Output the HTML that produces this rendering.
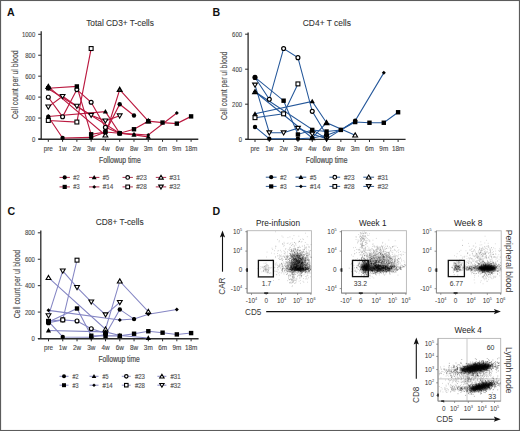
<!DOCTYPE html>
<html><head><meta charset="utf-8"><style>
html,body{margin:0;padding:0;background:#fff;}
body{width:520px;height:431px;overflow:hidden;}
svg{display:block;}
svg text{font-family:"Liberation Sans", sans-serif;}
</style></head><body>
<svg width="520" height="431" viewBox="0 0 520 431">
<defs><filter id="bl6" x="-50%" y="-50%" width="200%" height="200%"><feGaussianBlur stdDeviation="0.6"/></filter><filter id="bl8" x="-50%" y="-50%" width="200%" height="200%"><feGaussianBlur stdDeviation="0.8"/></filter><filter id="bl9" x="-50%" y="-50%" width="200%" height="200%"><feGaussianBlur stdDeviation="0.9"/></filter><filter id="bl12" x="-50%" y="-50%" width="200%" height="200%"><feGaussianBlur stdDeviation="1.2"/></filter><filter id="bl13" x="-50%" y="-50%" width="200%" height="200%"><feGaussianBlur stdDeviation="1.3"/></filter><filter id="bl7" x="-50%" y="-50%" width="200%" height="200%"><feGaussianBlur stdDeviation="0.7"/></filter><filter id="bl20" x="-50%" y="-50%" width="200%" height="200%"><feGaussianBlur stdDeviation="2.0"/></filter></defs>
<rect x="0" y="0" width="520" height="431" fill="#fff"/>
<line x1="41.2" y1="31.3" x2="41.2" y2="139.6" stroke="#2a2a2a" stroke-width="1.3"/>
<line x1="38.400000000000006" y1="139.2" x2="198.3" y2="139.2" stroke="#2a2a2a" stroke-width="1.35"/>
<line x1="38.2" y1="139.00" x2="41.2" y2="139.00" stroke="#2a2a2a" stroke-width="1"/>
<text x="35.2" y="141.55" font-size="6.9" fill="#4a4a4a" text-anchor="end" textLength="3.3" lengthAdjust="spacingAndGlyphs" stroke="#4a4a4a" stroke-width="0.12">0</text>
<line x1="38.2" y1="118.06" x2="41.2" y2="118.06" stroke="#2a2a2a" stroke-width="1"/>
<text x="35.2" y="120.61" font-size="6.9" fill="#4a4a4a" text-anchor="end" textLength="9.9" lengthAdjust="spacingAndGlyphs" stroke="#4a4a4a" stroke-width="0.12">200</text>
<line x1="38.2" y1="97.12" x2="41.2" y2="97.12" stroke="#2a2a2a" stroke-width="1"/>
<text x="35.2" y="99.67" font-size="6.9" fill="#4a4a4a" text-anchor="end" textLength="9.9" lengthAdjust="spacingAndGlyphs" stroke="#4a4a4a" stroke-width="0.12">400</text>
<line x1="38.2" y1="76.18" x2="41.2" y2="76.18" stroke="#2a2a2a" stroke-width="1"/>
<text x="35.2" y="78.73" font-size="6.9" fill="#4a4a4a" text-anchor="end" textLength="9.9" lengthAdjust="spacingAndGlyphs" stroke="#4a4a4a" stroke-width="0.12">600</text>
<line x1="38.2" y1="55.24" x2="41.2" y2="55.24" stroke="#2a2a2a" stroke-width="1"/>
<text x="35.2" y="57.79" font-size="6.9" fill="#4a4a4a" text-anchor="end" textLength="9.9" lengthAdjust="spacingAndGlyphs" stroke="#4a4a4a" stroke-width="0.12">800</text>
<line x1="38.2" y1="34.30" x2="41.2" y2="34.30" stroke="#2a2a2a" stroke-width="1"/>
<text x="35.2" y="36.85" font-size="6.9" fill="#4a4a4a" text-anchor="end" textLength="13.2" lengthAdjust="spacingAndGlyphs" stroke="#4a4a4a" stroke-width="0.12">1000</text>
<line x1="48.30" y1="139.0" x2="48.30" y2="141.8" stroke="#2a2a2a" stroke-width="1"/>
<text x="48.30" y="151.0" font-size="6.4" fill="#4a4a4a" text-anchor="middle" stroke="#4a4a4a" stroke-width="0.12">pre</text>
<line x1="62.58" y1="139.0" x2="62.58" y2="141.8" stroke="#2a2a2a" stroke-width="1"/>
<text x="62.58" y="151.0" font-size="6.4" fill="#4a4a4a" text-anchor="middle" stroke="#4a4a4a" stroke-width="0.12">1w</text>
<line x1="76.86" y1="139.0" x2="76.86" y2="141.8" stroke="#2a2a2a" stroke-width="1"/>
<text x="76.86" y="151.0" font-size="6.4" fill="#4a4a4a" text-anchor="middle" stroke="#4a4a4a" stroke-width="0.12">2w</text>
<line x1="91.14" y1="139.0" x2="91.14" y2="141.8" stroke="#2a2a2a" stroke-width="1"/>
<text x="91.14" y="151.0" font-size="6.4" fill="#4a4a4a" text-anchor="middle" stroke="#4a4a4a" stroke-width="0.12">3w</text>
<line x1="105.42" y1="139.0" x2="105.42" y2="141.8" stroke="#2a2a2a" stroke-width="1"/>
<text x="105.42" y="151.0" font-size="6.4" fill="#4a4a4a" text-anchor="middle" stroke="#4a4a4a" stroke-width="0.12">4w</text>
<line x1="119.70" y1="139.0" x2="119.70" y2="141.8" stroke="#2a2a2a" stroke-width="1"/>
<text x="119.70" y="151.0" font-size="6.4" fill="#4a4a4a" text-anchor="middle" stroke="#4a4a4a" stroke-width="0.12">6w</text>
<line x1="133.98" y1="139.0" x2="133.98" y2="141.8" stroke="#2a2a2a" stroke-width="1"/>
<text x="133.98" y="151.0" font-size="6.4" fill="#4a4a4a" text-anchor="middle" stroke="#4a4a4a" stroke-width="0.12">8w</text>
<line x1="148.26" y1="139.0" x2="148.26" y2="141.8" stroke="#2a2a2a" stroke-width="1"/>
<text x="148.26" y="151.0" font-size="6.4" fill="#4a4a4a" text-anchor="middle" stroke="#4a4a4a" stroke-width="0.12">3m</text>
<line x1="162.54" y1="139.0" x2="162.54" y2="141.8" stroke="#2a2a2a" stroke-width="1"/>
<text x="162.54" y="151.0" font-size="6.4" fill="#4a4a4a" text-anchor="middle" stroke="#4a4a4a" stroke-width="0.12">6m</text>
<line x1="176.82" y1="139.0" x2="176.82" y2="141.8" stroke="#2a2a2a" stroke-width="1"/>
<text x="176.82" y="151.0" font-size="6.4" fill="#4a4a4a" text-anchor="middle" stroke="#4a4a4a" stroke-width="0.12">9m</text>
<line x1="191.10" y1="139.0" x2="191.10" y2="141.8" stroke="#2a2a2a" stroke-width="1"/>
<text x="191.10" y="151.0" font-size="6.4" fill="#4a4a4a" text-anchor="middle" stroke="#4a4a4a" stroke-width="0.12">18m</text>
<text x="99" y="162.5" font-size="8.8" fill="#4a4a4a" textLength="41.7" lengthAdjust="spacingAndGlyphs" stroke="#4a4a4a" stroke-width="0.2">Followup time</text>
<text x="0" y="0" font-size="8.6" fill="#4a4a4a" stroke="#4a4a4a" stroke-width="0.15" text-anchor="middle" textLength="68.5" lengthAdjust="spacingAndGlyphs" transform="translate(17.6 84.7) rotate(-90)">Cell count per ul blood</text>
<text x="86.2" y="26.3" font-size="8.6" fill="#333" textLength="67.7" lengthAdjust="spacingAndGlyphs" stroke="#333" stroke-width="0.08">Total CD3+ T-cells</text>
<path d="M48.30 116.80L62.58 137.95L91.14 137.43L105.42 131.99L119.70 104.24L133.98 115.44" fill="none" stroke="#bb1a40" stroke-width="1.15"/>
<path d="M48.30 88.22L76.86 86.44L91.14 134.29L105.42 131.99L119.70 133.24L133.98 129.26L148.26 121.20L162.54 122.56L176.82 123.61L191.10 116.38" fill="none" stroke="#bb1a40" stroke-width="1.15"/>
<path d="M48.30 116.49L105.42 111.57L119.70 133.24L133.98 134.81L148.26 136.91" fill="none" stroke="#bb1a40" stroke-width="1.15"/>
<path d="M48.30 88.74L119.70 133.24L133.98 134.18L148.26 135.02L176.82 112.93" fill="none" stroke="#bb1a40" stroke-width="1.15"/>
<path d="M48.30 97.22L62.58 116.80L76.86 89.58L91.14 102.25L105.42 127.38L119.70 133.24" fill="none" stroke="#bb1a40" stroke-width="1.15"/>
<path d="M48.30 120.47L76.86 122.04L91.14 48.54" fill="none" stroke="#bb1a40" stroke-width="1.15"/>
<path d="M48.30 86.65L105.42 135.23L119.70 89.58L148.26 121.20" fill="none" stroke="#bb1a40" stroke-width="1.15"/>
<path d="M48.30 106.86L62.58 96.28L76.86 106.12L91.14 115.23L105.42 120.78L119.70 115.76" fill="none" stroke="#bb1a40" stroke-width="1.15"/>
<circle cx="48.30" cy="97.22" r="1.95" fill="#fff" stroke="#000" stroke-width="1.2"/>
<circle cx="62.58" cy="116.80" r="1.95" fill="#fff" stroke="#000" stroke-width="1.2"/>
<circle cx="76.86" cy="89.58" r="1.95" fill="#fff" stroke="#000" stroke-width="1.2"/>
<circle cx="91.14" cy="102.25" r="1.95" fill="#fff" stroke="#000" stroke-width="1.2"/>
<circle cx="105.42" cy="127.38" r="1.95" fill="#fff" stroke="#000" stroke-width="1.2"/>
<circle cx="119.70" cy="133.24" r="1.95" fill="#fff" stroke="#000" stroke-width="1.2"/>
<rect x="46.35" y="118.52" width="3.90" height="3.90" fill="#fff" stroke="#000" stroke-width="1.1"/>
<rect x="74.91" y="120.09" width="3.90" height="3.90" fill="#fff" stroke="#000" stroke-width="1.1"/>
<rect x="89.19" y="46.59" width="3.90" height="3.90" fill="#fff" stroke="#000" stroke-width="1.1"/>
<path d="M48.30 84.45L50.61 88.41L45.99 88.41Z" fill="#555" stroke="#000" stroke-width="1.3" stroke-linejoin="miter"/>
<path d="M105.42 132.93L107.83 137.07L103.00 137.07Z" fill="#fff" stroke="#000" stroke-width="1.1" stroke-linejoin="miter"/>
<path d="M119.70 87.38L122.01 91.34L117.39 91.34Z" fill="#555" stroke="#000" stroke-width="1.3" stroke-linejoin="miter"/>
<path d="M148.26 118.90L150.67 123.04L145.84 123.04Z" fill="#fff" stroke="#000" stroke-width="1.1" stroke-linejoin="miter"/>
<path d="M48.30 109.16L50.71 105.02L45.88 105.02Z" fill="#fff" stroke="#000" stroke-width="1.1"/>
<path d="M62.58 98.58L65.00 94.44L60.16 94.44Z" fill="#fff" stroke="#000" stroke-width="1.1"/>
<path d="M76.86 108.42L79.28 104.28L74.44 104.28Z" fill="#fff" stroke="#000" stroke-width="1.1"/>
<path d="M91.14 117.53L93.55 113.39L88.72 113.39Z" fill="#fff" stroke="#000" stroke-width="1.1"/>
<path d="M105.42 123.08L107.83 118.94L103.00 118.94Z" fill="#fff" stroke="#000" stroke-width="1.1"/>
<path d="M119.70 118.06L122.11 113.92L117.28 113.92Z" fill="#fff" stroke="#000" stroke-width="1.1"/>
<circle cx="48.30" cy="116.80" r="2.20" fill="#000"/>
<circle cx="62.58" cy="137.95" r="2.20" fill="#000"/>
<circle cx="91.14" cy="137.43" r="2.20" fill="#000"/>
<circle cx="105.42" cy="131.99" r="2.20" fill="#000"/>
<circle cx="119.70" cy="104.24" r="2.20" fill="#000"/>
<circle cx="133.98" cy="115.44" r="2.20" fill="#000"/>
<rect x="46.10" y="86.02" width="4.40" height="4.40" fill="#000"/>
<rect x="74.66" y="84.24" width="4.40" height="4.40" fill="#000"/>
<rect x="88.94" y="132.09" width="4.40" height="4.40" fill="#000"/>
<rect x="103.22" y="129.79" width="4.40" height="4.40" fill="#000"/>
<rect x="117.50" y="131.04" width="4.40" height="4.40" fill="#000"/>
<rect x="131.78" y="127.06" width="4.40" height="4.40" fill="#000"/>
<rect x="146.06" y="119.00" width="4.40" height="4.40" fill="#000"/>
<rect x="160.34" y="120.36" width="4.40" height="4.40" fill="#000"/>
<rect x="174.62" y="121.41" width="4.40" height="4.40" fill="#000"/>
<rect x="188.90" y="114.18" width="4.40" height="4.40" fill="#000"/>
<path d="M48.30 113.89L50.90 118.44L45.70 118.44Z" fill="#000"/>
<path d="M105.42 108.97L108.02 113.52L102.82 113.52Z" fill="#000"/>
<path d="M119.70 130.64L122.30 135.19L117.10 135.19Z" fill="#000"/>
<path d="M133.98 132.21L136.58 136.76L131.38 136.76Z" fill="#000"/>
<path d="M148.26 134.31L150.86 138.86L145.66 138.86Z" fill="#000"/>
<path d="M48.30 86.74L50.30 88.74L48.30 90.74L46.30 88.74Z" fill="#000"/>
<path d="M119.70 131.24L121.70 133.24L119.70 135.24L117.70 133.24Z" fill="#000"/>
<path d="M133.98 132.18L135.98 134.18L133.98 136.18L131.98 134.18Z" fill="#000"/>
<path d="M148.26 133.02L150.26 135.02L148.26 137.02L146.26 135.02Z" fill="#000"/>
<path d="M176.82 110.93L178.82 112.93L176.82 114.93L174.82 112.93Z" fill="#000"/>
<line x1="59.50" y1="177.4" x2="69.90" y2="177.4" stroke="#b0304f" stroke-width="1"/>
<circle cx="64.70" cy="177.40" r="2.09" fill="#000"/>
<text x="73.30" y="179.90" font-size="7.4" fill="#555" textLength="6.3" lengthAdjust="spacingAndGlyphs" stroke="#555" stroke-width="0.15">#2</text>
<line x1="59.50" y1="186.9" x2="69.90" y2="186.9" stroke="#b0304f" stroke-width="1"/>
<rect x="62.61" y="184.81" width="4.18" height="4.18" fill="#000"/>
<text x="73.30" y="189.40" font-size="7.4" fill="#555" textLength="6.3" lengthAdjust="spacingAndGlyphs" stroke="#555" stroke-width="0.15">#3</text>
<line x1="89.00" y1="177.4" x2="99.40" y2="177.4" stroke="#b0304f" stroke-width="1"/>
<path d="M94.20 174.93L96.67 179.25L91.73 179.25Z" fill="#000"/>
<text x="102.80" y="179.90" font-size="7.4" fill="#555" textLength="6.3" lengthAdjust="spacingAndGlyphs" stroke="#555" stroke-width="0.15">#5</text>
<line x1="89.00" y1="186.9" x2="99.40" y2="186.9" stroke="#b0304f" stroke-width="1"/>
<path d="M94.20 185.00L96.10 186.90L94.20 188.80L92.30 186.90Z" fill="#000"/>
<text x="102.80" y="189.40" font-size="7.4" fill="#555" textLength="10.6" lengthAdjust="spacingAndGlyphs" stroke="#555" stroke-width="0.15">#14</text>
<line x1="122.50" y1="177.4" x2="132.90" y2="177.4" stroke="#b0304f" stroke-width="1"/>
<circle cx="127.70" cy="177.40" r="1.84" fill="#fff" stroke="#000" stroke-width="1.2"/>
<text x="136.30" y="179.90" font-size="7.4" fill="#555" textLength="10.6" lengthAdjust="spacingAndGlyphs" stroke="#555" stroke-width="0.15">#23</text>
<line x1="122.50" y1="186.9" x2="132.90" y2="186.9" stroke="#b0304f" stroke-width="1"/>
<rect x="125.85" y="185.05" width="3.70" height="3.70" fill="#fff" stroke="#000" stroke-width="1.1"/>
<text x="136.30" y="189.40" font-size="7.4" fill="#555" textLength="10.6" lengthAdjust="spacingAndGlyphs" stroke="#555" stroke-width="0.15">#28</text>
<line x1="155.80" y1="177.4" x2="166.20" y2="177.4" stroke="#b0304f" stroke-width="1"/>
<path d="M161.00 175.22L163.29 179.15L158.71 179.15Z" fill="#fff" stroke="#000" stroke-width="1.1" stroke-linejoin="miter"/>
<text x="169.60" y="179.90" font-size="7.4" fill="#555" textLength="10.6" lengthAdjust="spacingAndGlyphs" stroke="#555" stroke-width="0.15">#31</text>
<line x1="155.80" y1="186.9" x2="166.20" y2="186.9" stroke="#b0304f" stroke-width="1"/>
<path d="M161.00 189.09L163.29 185.15L158.71 185.15Z" fill="#fff" stroke="#000" stroke-width="1.1"/>
<text x="169.60" y="189.40" font-size="7.4" fill="#555" textLength="10.6" lengthAdjust="spacingAndGlyphs" stroke="#555" stroke-width="0.15">#32</text>
<line x1="248.1" y1="32.4" x2="248.1" y2="139.79999999999998" stroke="#2a2a2a" stroke-width="1.3"/>
<line x1="245.29999999999998" y1="139.39999999999998" x2="405.6" y2="139.39999999999998" stroke="#2a2a2a" stroke-width="1.35"/>
<line x1="245.1" y1="139.20" x2="248.1" y2="139.20" stroke="#2a2a2a" stroke-width="1"/>
<text x="242.0" y="141.75" font-size="6.9" fill="#4a4a4a" text-anchor="end" textLength="3.3" lengthAdjust="spacingAndGlyphs" stroke="#4a4a4a" stroke-width="0.12">0</text>
<line x1="245.1" y1="104.20" x2="248.1" y2="104.20" stroke="#2a2a2a" stroke-width="1"/>
<text x="242.0" y="106.75" font-size="6.9" fill="#4a4a4a" text-anchor="end" textLength="9.9" lengthAdjust="spacingAndGlyphs" stroke="#4a4a4a" stroke-width="0.12">200</text>
<line x1="245.1" y1="69.20" x2="248.1" y2="69.20" stroke="#2a2a2a" stroke-width="1"/>
<text x="242.0" y="71.75" font-size="6.9" fill="#4a4a4a" text-anchor="end" textLength="9.9" lengthAdjust="spacingAndGlyphs" stroke="#4a4a4a" stroke-width="0.12">400</text>
<line x1="245.1" y1="34.20" x2="248.1" y2="34.20" stroke="#2a2a2a" stroke-width="1"/>
<text x="242.0" y="36.75" font-size="6.9" fill="#4a4a4a" text-anchor="end" textLength="9.9" lengthAdjust="spacingAndGlyphs" stroke="#4a4a4a" stroke-width="0.12">600</text>
<line x1="255.00" y1="139.2" x2="255.00" y2="142.0" stroke="#2a2a2a" stroke-width="1"/>
<text x="255.00" y="151.0" font-size="6.4" fill="#4a4a4a" text-anchor="middle" stroke="#4a4a4a" stroke-width="0.12">pre</text>
<line x1="269.31" y1="139.2" x2="269.31" y2="142.0" stroke="#2a2a2a" stroke-width="1"/>
<text x="269.31" y="151.0" font-size="6.4" fill="#4a4a4a" text-anchor="middle" stroke="#4a4a4a" stroke-width="0.12">1w</text>
<line x1="283.62" y1="139.2" x2="283.62" y2="142.0" stroke="#2a2a2a" stroke-width="1"/>
<text x="283.62" y="151.0" font-size="6.4" fill="#4a4a4a" text-anchor="middle" stroke="#4a4a4a" stroke-width="0.12">2w</text>
<line x1="297.93" y1="139.2" x2="297.93" y2="142.0" stroke="#2a2a2a" stroke-width="1"/>
<text x="297.93" y="151.0" font-size="6.4" fill="#4a4a4a" text-anchor="middle" stroke="#4a4a4a" stroke-width="0.12">3w</text>
<line x1="312.24" y1="139.2" x2="312.24" y2="142.0" stroke="#2a2a2a" stroke-width="1"/>
<text x="312.24" y="151.0" font-size="6.4" fill="#4a4a4a" text-anchor="middle" stroke="#4a4a4a" stroke-width="0.12">4w</text>
<line x1="326.55" y1="139.2" x2="326.55" y2="142.0" stroke="#2a2a2a" stroke-width="1"/>
<text x="326.55" y="151.0" font-size="6.4" fill="#4a4a4a" text-anchor="middle" stroke="#4a4a4a" stroke-width="0.12">6w</text>
<line x1="340.86" y1="139.2" x2="340.86" y2="142.0" stroke="#2a2a2a" stroke-width="1"/>
<text x="340.86" y="151.0" font-size="6.4" fill="#4a4a4a" text-anchor="middle" stroke="#4a4a4a" stroke-width="0.12">8w</text>
<line x1="355.17" y1="139.2" x2="355.17" y2="142.0" stroke="#2a2a2a" stroke-width="1"/>
<text x="355.17" y="151.0" font-size="6.4" fill="#4a4a4a" text-anchor="middle" stroke="#4a4a4a" stroke-width="0.12">3m</text>
<line x1="369.48" y1="139.2" x2="369.48" y2="142.0" stroke="#2a2a2a" stroke-width="1"/>
<text x="369.48" y="151.0" font-size="6.4" fill="#4a4a4a" text-anchor="middle" stroke="#4a4a4a" stroke-width="0.12">6m</text>
<line x1="383.79" y1="139.2" x2="383.79" y2="142.0" stroke="#2a2a2a" stroke-width="1"/>
<text x="383.79" y="151.0" font-size="6.4" fill="#4a4a4a" text-anchor="middle" stroke="#4a4a4a" stroke-width="0.12">9m</text>
<line x1="398.10" y1="139.2" x2="398.10" y2="142.0" stroke="#2a2a2a" stroke-width="1"/>
<text x="398.10" y="151.0" font-size="6.4" fill="#4a4a4a" text-anchor="middle" stroke="#4a4a4a" stroke-width="0.12">18m</text>
<text x="305.8" y="162.5" font-size="8.8" fill="#4a4a4a" textLength="41.7" lengthAdjust="spacingAndGlyphs" stroke="#4a4a4a" stroke-width="0.2">Followup time</text>
<text x="0" y="0" font-size="8.6" fill="#4a4a4a" stroke="#4a4a4a" stroke-width="0.15" text-anchor="middle" textLength="68.5" lengthAdjust="spacingAndGlyphs" transform="translate(227.0 85.8) rotate(-90)">Cell count per ul blood</text>
<text x="302.8" y="26.3" font-size="8.4" fill="#333" textLength="48.1" lengthAdjust="spacingAndGlyphs" stroke="#333" stroke-width="0.08">CD4+ T cells</text>
<path d="M255.00 126.95L269.31 138.67L297.93 138.67L312.24 137.97L326.55 135.35L340.86 129.92L355.17 120.82" fill="none" stroke="#24579a" stroke-width="1.05"/>
<path d="M255.00 77.42L283.62 100.70L297.93 134.47L312.24 129.92L326.55 131.50L340.86 129.92L355.17 122.05L369.48 122.75L383.79 122.75L398.10 112.25" fill="none" stroke="#24579a" stroke-width="1.05"/>
<path d="M255.00 113.82L312.24 101.40L326.55 122.75" fill="none" stroke="#24579a" stroke-width="1.05"/>
<path d="M255.00 91.77L326.55 138.85L340.86 129.92L355.17 120.82L383.79 72.87" fill="none" stroke="#24579a" stroke-width="1.05"/>
<path d="M255.00 77.42L269.31 99.30L283.62 48.55L297.93 57.65L312.24 111.37L326.55 135.00" fill="none" stroke="#24579a" stroke-width="1.05"/>
<path d="M255.00 117.67L283.62 113.82L297.93 83.90" fill="none" stroke="#24579a" stroke-width="1.05"/>
<path d="M255.00 91.77L312.24 137.97L326.55 122.75L355.17 135.17" fill="none" stroke="#24579a" stroke-width="1.05"/>
<path d="M255.00 84.95L269.31 132.72L283.62 132.72L297.93 128.17L312.24 133.95L326.55 138.85" fill="none" stroke="#24579a" stroke-width="1.05"/>
<circle cx="255.00" cy="77.42" r="1.95" fill="#fff" stroke="#000" stroke-width="1.2"/>
<circle cx="269.31" cy="99.30" r="1.95" fill="#fff" stroke="#000" stroke-width="1.2"/>
<circle cx="283.62" cy="48.55" r="1.95" fill="#fff" stroke="#000" stroke-width="1.2"/>
<circle cx="297.93" cy="57.65" r="1.95" fill="#fff" stroke="#000" stroke-width="1.2"/>
<circle cx="312.24" cy="111.37" r="1.95" fill="#fff" stroke="#000" stroke-width="1.2"/>
<circle cx="326.55" cy="135.00" r="1.95" fill="#fff" stroke="#000" stroke-width="1.2"/>
<rect x="253.05" y="115.72" width="3.90" height="3.90" fill="#fff" stroke="#000" stroke-width="1.1"/>
<rect x="281.67" y="111.87" width="3.90" height="3.90" fill="#fff" stroke="#000" stroke-width="1.1"/>
<rect x="295.98" y="81.95" width="3.90" height="3.90" fill="#fff" stroke="#000" stroke-width="1.1"/>
<path d="M255.00 89.47L257.42 93.61L252.59 93.61Z" fill="#fff" stroke="#000" stroke-width="1.1" stroke-linejoin="miter"/>
<path d="M312.24 135.67L314.66 139.81L309.82 139.81Z" fill="#fff" stroke="#000" stroke-width="1.1" stroke-linejoin="miter"/>
<path d="M326.55 120.45L328.97 124.59L324.13 124.59Z" fill="#fff" stroke="#000" stroke-width="1.1" stroke-linejoin="miter"/>
<path d="M355.17 132.87L357.59 137.01L352.75 137.01Z" fill="#fff" stroke="#000" stroke-width="1.1" stroke-linejoin="miter"/>
<path d="M255.00 87.25L257.42 83.11L252.59 83.11Z" fill="#fff" stroke="#000" stroke-width="1.1"/>
<path d="M269.31 135.03L271.73 130.88L266.89 130.88Z" fill="#fff" stroke="#000" stroke-width="1.1"/>
<path d="M283.62 135.03L286.04 130.88L281.20 130.88Z" fill="#fff" stroke="#000" stroke-width="1.1"/>
<path d="M297.93 130.47L300.35 126.33L295.51 126.33Z" fill="#fff" stroke="#000" stroke-width="1.1"/>
<path d="M312.24 136.25L314.66 132.11L309.82 132.11Z" fill="#fff" stroke="#000" stroke-width="1.1"/>
<path d="M326.55 141.15L328.97 137.01L324.13 137.01Z" fill="#fff" stroke="#000" stroke-width="1.1"/>
<circle cx="255.00" cy="126.95" r="2.20" fill="#000"/>
<circle cx="269.31" cy="138.67" r="2.20" fill="#000"/>
<circle cx="297.93" cy="138.67" r="2.20" fill="#000"/>
<circle cx="312.24" cy="137.97" r="2.20" fill="#000"/>
<circle cx="326.55" cy="135.35" r="2.20" fill="#000"/>
<circle cx="340.86" cy="129.92" r="2.20" fill="#000"/>
<circle cx="355.17" cy="120.82" r="2.20" fill="#000"/>
<circle cx="255.00" cy="77.42" r="2.20" fill="#000"/>
<rect x="281.42" y="98.50" width="4.40" height="4.40" fill="#000"/>
<rect x="295.73" y="132.28" width="4.40" height="4.40" fill="#000"/>
<rect x="310.04" y="127.72" width="4.40" height="4.40" fill="#000"/>
<rect x="324.35" y="129.30" width="4.40" height="4.40" fill="#000"/>
<rect x="338.66" y="127.72" width="4.40" height="4.40" fill="#000"/>
<rect x="352.97" y="119.85" width="4.40" height="4.40" fill="#000"/>
<rect x="367.28" y="120.55" width="4.40" height="4.40" fill="#000"/>
<rect x="381.59" y="120.55" width="4.40" height="4.40" fill="#000"/>
<rect x="395.90" y="110.05" width="4.40" height="4.40" fill="#000"/>
<path d="M255.00 111.22L257.60 115.77L252.40 115.77Z" fill="#000"/>
<path d="M312.24 98.80L314.84 103.35L309.64 103.35Z" fill="#000"/>
<path d="M326.55 120.15L329.15 124.70L323.95 124.70Z" fill="#000"/>
<path d="M255.00 89.77L257.00 91.77L255.00 93.77L253.00 91.77Z" fill="#000"/>
<path d="M326.55 136.85L328.55 138.85L326.55 140.85L324.55 138.85Z" fill="#000"/>
<path d="M340.86 127.92L342.86 129.92L340.86 131.92L338.86 129.92Z" fill="#000"/>
<path d="M355.17 118.82L357.17 120.82L355.17 122.82L353.17 120.82Z" fill="#000"/>
<path d="M383.79 70.87L385.79 72.87L383.79 74.87L381.79 72.87Z" fill="#000"/>
<line x1="265.80" y1="177.2" x2="276.60" y2="177.2" stroke="#2f5a92" stroke-width="1"/>
<circle cx="271.20" cy="177.20" r="2.09" fill="#000"/>
<text x="280.30" y="179.70" font-size="7.4" fill="#555" textLength="6.3" lengthAdjust="spacingAndGlyphs" stroke="#555" stroke-width="0.15">#2</text>
<line x1="265.80" y1="186.4" x2="276.60" y2="186.4" stroke="#2f5a92" stroke-width="1"/>
<rect x="269.11" y="184.31" width="4.18" height="4.18" fill="#000"/>
<text x="280.30" y="188.90" font-size="7.4" fill="#555" textLength="6.3" lengthAdjust="spacingAndGlyphs" stroke="#555" stroke-width="0.15">#3</text>
<line x1="295.50" y1="177.2" x2="306.30" y2="177.2" stroke="#2f5a92" stroke-width="1"/>
<path d="M300.90 174.73L303.37 179.05L298.43 179.05Z" fill="#000"/>
<text x="310.00" y="179.70" font-size="7.4" fill="#555" textLength="6.3" lengthAdjust="spacingAndGlyphs" stroke="#555" stroke-width="0.15">#5</text>
<line x1="295.50" y1="186.4" x2="306.30" y2="186.4" stroke="#2f5a92" stroke-width="1"/>
<path d="M300.90 184.50L302.80 186.40L300.90 188.30L299.00 186.40Z" fill="#000"/>
<text x="310.00" y="188.90" font-size="7.4" fill="#555" textLength="10.6" lengthAdjust="spacingAndGlyphs" stroke="#555" stroke-width="0.15">#14</text>
<line x1="329.40" y1="177.2" x2="340.20" y2="177.2" stroke="#2f5a92" stroke-width="1"/>
<circle cx="334.80" cy="177.20" r="1.84" fill="#fff" stroke="#000" stroke-width="1.2"/>
<text x="343.90" y="179.70" font-size="7.4" fill="#555" textLength="10.6" lengthAdjust="spacingAndGlyphs" stroke="#555" stroke-width="0.15">#23</text>
<line x1="329.40" y1="186.4" x2="340.20" y2="186.4" stroke="#2f5a92" stroke-width="1"/>
<rect x="332.95" y="184.55" width="3.70" height="3.70" fill="#fff" stroke="#000" stroke-width="1.1"/>
<text x="343.90" y="188.90" font-size="7.4" fill="#555" textLength="10.6" lengthAdjust="spacingAndGlyphs" stroke="#555" stroke-width="0.15">#28</text>
<line x1="363.30" y1="177.2" x2="374.10" y2="177.2" stroke="#2f5a92" stroke-width="1"/>
<path d="M368.70 175.01L370.99 178.95L366.41 178.95Z" fill="#fff" stroke="#000" stroke-width="1.1" stroke-linejoin="miter"/>
<text x="377.80" y="179.70" font-size="7.4" fill="#555" textLength="10.6" lengthAdjust="spacingAndGlyphs" stroke="#555" stroke-width="0.15">#31</text>
<line x1="363.30" y1="186.4" x2="374.10" y2="186.4" stroke="#2f5a92" stroke-width="1"/>
<path d="M368.70 188.59L370.99 184.65L366.41 184.65Z" fill="#fff" stroke="#000" stroke-width="1.1"/>
<text x="377.80" y="188.90" font-size="7.4" fill="#555" textLength="10.6" lengthAdjust="spacingAndGlyphs" stroke="#555" stroke-width="0.15">#32</text>
<line x1="40.8" y1="230.5" x2="40.8" y2="339.1" stroke="#2a2a2a" stroke-width="1.3"/>
<line x1="38.0" y1="338.7" x2="198.6" y2="338.7" stroke="#2a2a2a" stroke-width="1.35"/>
<line x1="37.8" y1="338.50" x2="40.8" y2="338.50" stroke="#2a2a2a" stroke-width="1"/>
<text x="34.8" y="341.05" font-size="6.9" fill="#4a4a4a" text-anchor="end" textLength="3.3" lengthAdjust="spacingAndGlyphs" stroke="#4a4a4a" stroke-width="0.12">0</text>
<line x1="37.8" y1="312.08" x2="40.8" y2="312.08" stroke="#2a2a2a" stroke-width="1"/>
<text x="34.8" y="314.63" font-size="6.9" fill="#4a4a4a" text-anchor="end" textLength="9.9" lengthAdjust="spacingAndGlyphs" stroke="#4a4a4a" stroke-width="0.12">200</text>
<line x1="37.8" y1="285.66" x2="40.8" y2="285.66" stroke="#2a2a2a" stroke-width="1"/>
<text x="34.8" y="288.21" font-size="6.9" fill="#4a4a4a" text-anchor="end" textLength="9.9" lengthAdjust="spacingAndGlyphs" stroke="#4a4a4a" stroke-width="0.12">400</text>
<line x1="37.8" y1="259.24" x2="40.8" y2="259.24" stroke="#2a2a2a" stroke-width="1"/>
<text x="34.8" y="261.79" font-size="6.9" fill="#4a4a4a" text-anchor="end" textLength="9.9" lengthAdjust="spacingAndGlyphs" stroke="#4a4a4a" stroke-width="0.12">600</text>
<line x1="37.8" y1="232.82" x2="40.8" y2="232.82" stroke="#2a2a2a" stroke-width="1"/>
<text x="34.8" y="235.37" font-size="6.9" fill="#4a4a4a" text-anchor="end" textLength="9.9" lengthAdjust="spacingAndGlyphs" stroke="#4a4a4a" stroke-width="0.12">800</text>
<line x1="48.50" y1="338.5" x2="48.50" y2="341.3" stroke="#2a2a2a" stroke-width="1"/>
<text x="48.50" y="350.3" font-size="6.4" fill="#4a4a4a" text-anchor="middle" stroke="#4a4a4a" stroke-width="0.12">pre</text>
<line x1="62.76" y1="338.5" x2="62.76" y2="341.3" stroke="#2a2a2a" stroke-width="1"/>
<text x="62.76" y="350.3" font-size="6.4" fill="#4a4a4a" text-anchor="middle" stroke="#4a4a4a" stroke-width="0.12">1w</text>
<line x1="77.02" y1="338.5" x2="77.02" y2="341.3" stroke="#2a2a2a" stroke-width="1"/>
<text x="77.02" y="350.3" font-size="6.4" fill="#4a4a4a" text-anchor="middle" stroke="#4a4a4a" stroke-width="0.12">2w</text>
<line x1="91.28" y1="338.5" x2="91.28" y2="341.3" stroke="#2a2a2a" stroke-width="1"/>
<text x="91.28" y="350.3" font-size="6.4" fill="#4a4a4a" text-anchor="middle" stroke="#4a4a4a" stroke-width="0.12">3w</text>
<line x1="105.54" y1="338.5" x2="105.54" y2="341.3" stroke="#2a2a2a" stroke-width="1"/>
<text x="105.54" y="350.3" font-size="6.4" fill="#4a4a4a" text-anchor="middle" stroke="#4a4a4a" stroke-width="0.12">4w</text>
<line x1="119.80" y1="338.5" x2="119.80" y2="341.3" stroke="#2a2a2a" stroke-width="1"/>
<text x="119.80" y="350.3" font-size="6.4" fill="#4a4a4a" text-anchor="middle" stroke="#4a4a4a" stroke-width="0.12">6w</text>
<line x1="134.06" y1="338.5" x2="134.06" y2="341.3" stroke="#2a2a2a" stroke-width="1"/>
<text x="134.06" y="350.3" font-size="6.4" fill="#4a4a4a" text-anchor="middle" stroke="#4a4a4a" stroke-width="0.12">8w</text>
<line x1="148.32" y1="338.5" x2="148.32" y2="341.3" stroke="#2a2a2a" stroke-width="1"/>
<text x="148.32" y="350.3" font-size="6.4" fill="#4a4a4a" text-anchor="middle" stroke="#4a4a4a" stroke-width="0.12">3m</text>
<line x1="162.58" y1="338.5" x2="162.58" y2="341.3" stroke="#2a2a2a" stroke-width="1"/>
<text x="162.58" y="350.3" font-size="6.4" fill="#4a4a4a" text-anchor="middle" stroke="#4a4a4a" stroke-width="0.12">6m</text>
<line x1="176.84" y1="338.5" x2="176.84" y2="341.3" stroke="#2a2a2a" stroke-width="1"/>
<text x="176.84" y="350.3" font-size="6.4" fill="#4a4a4a" text-anchor="middle" stroke="#4a4a4a" stroke-width="0.12">9m</text>
<line x1="191.10" y1="338.5" x2="191.10" y2="341.3" stroke="#2a2a2a" stroke-width="1"/>
<text x="191.10" y="350.3" font-size="6.4" fill="#4a4a4a" text-anchor="middle" stroke="#4a4a4a" stroke-width="0.12">18m</text>
<text x="98.5" y="361.6" font-size="8.8" fill="#4a4a4a" textLength="41.2" lengthAdjust="spacingAndGlyphs" stroke="#4a4a4a" stroke-width="0.2">Followup time</text>
<text x="0" y="0" font-size="8.6" fill="#4a4a4a" stroke="#4a4a4a" stroke-width="0.15" text-anchor="middle" textLength="68.3" lengthAdjust="spacingAndGlyphs" transform="translate(19.6 284.2) rotate(-90)">Cell count per ul blood</text>
<text x="95.8" y="225.1" font-size="8.4" fill="#333" textLength="47.8" lengthAdjust="spacingAndGlyphs" stroke="#333" stroke-width="0.08">CD8+ T-cells</text>
<path d="M48.50 321.33L62.76 336.91L91.28 337.18L105.54 334.54L119.80 309.44L134.06 319.08" fill="none" stroke="#8586c4" stroke-width="1.05"/>
<path d="M48.50 321.99L77.02 308.51L91.28 335.73L105.54 335.86L119.80 335.86L134.06 333.74L148.32 331.23L162.58 332.69L176.84 334.40L191.10 333.08" fill="none" stroke="#8586c4" stroke-width="1.05"/>
<path d="M48.50 330.44L105.54 331.89L119.80 335.46L148.32 337.97" fill="none" stroke="#8586c4" stroke-width="1.05"/>
<path d="M48.50 310.36L119.80 320.01L134.06 319.08L148.32 314.19L176.84 309.44" fill="none" stroke="#8586c4" stroke-width="1.05"/>
<path d="M48.50 322.65L62.76 319.87L77.02 320.93L91.28 328.72L105.54 333.22" fill="none" stroke="#8586c4" stroke-width="1.05"/>
<path d="M48.50 321.33L62.76 319.87L77.02 260.16" fill="none" stroke="#8586c4" stroke-width="1.05"/>
<path d="M48.50 277.73L105.54 329.25L119.80 281.17L148.32 311.55" fill="none" stroke="#8586c4" stroke-width="1.05"/>
<path d="M48.50 315.65L62.76 270.86L77.02 287.38L91.28 301.78L105.54 314.72L119.80 302.30" fill="none" stroke="#8586c4" stroke-width="1.05"/>
<circle cx="48.50" cy="322.65" r="1.95" fill="#fff" stroke="#000" stroke-width="1.2"/>
<circle cx="62.76" cy="319.87" r="1.95" fill="#fff" stroke="#000" stroke-width="1.2"/>
<circle cx="77.02" cy="320.93" r="1.95" fill="#fff" stroke="#000" stroke-width="1.2"/>
<circle cx="91.28" cy="328.72" r="1.95" fill="#fff" stroke="#000" stroke-width="1.2"/>
<circle cx="105.54" cy="333.22" r="1.95" fill="#fff" stroke="#000" stroke-width="1.2"/>
<rect x="46.55" y="319.38" width="3.90" height="3.90" fill="#fff" stroke="#000" stroke-width="1.1"/>
<rect x="60.81" y="317.92" width="3.90" height="3.90" fill="#fff" stroke="#000" stroke-width="1.1"/>
<rect x="75.07" y="258.21" width="3.90" height="3.90" fill="#fff" stroke="#000" stroke-width="1.1"/>
<path d="M48.50 275.43L50.91 279.57L46.09 279.57Z" fill="#fff" stroke="#000" stroke-width="1.1" stroke-linejoin="miter"/>
<path d="M105.54 326.95L107.95 331.09L103.12 331.09Z" fill="#fff" stroke="#000" stroke-width="1.1" stroke-linejoin="miter"/>
<path d="M119.80 278.87L122.22 283.01L117.38 283.01Z" fill="#fff" stroke="#000" stroke-width="1.1" stroke-linejoin="miter"/>
<path d="M148.32 309.25L150.73 313.39L145.91 313.39Z" fill="#fff" stroke="#000" stroke-width="1.1" stroke-linejoin="miter"/>
<path d="M48.50 317.95L50.91 313.81L46.09 313.81Z" fill="#fff" stroke="#000" stroke-width="1.1"/>
<path d="M62.76 273.16L65.17 269.02L60.34 269.02Z" fill="#fff" stroke="#000" stroke-width="1.1"/>
<path d="M77.02 289.68L79.44 285.54L74.60 285.54Z" fill="#fff" stroke="#000" stroke-width="1.1"/>
<path d="M91.28 304.08L93.70 299.94L88.86 299.94Z" fill="#fff" stroke="#000" stroke-width="1.1"/>
<path d="M105.54 317.02L107.95 312.88L103.12 312.88Z" fill="#fff" stroke="#000" stroke-width="1.1"/>
<path d="M119.80 304.60L122.22 300.46L117.38 300.46Z" fill="#fff" stroke="#000" stroke-width="1.1"/>
<circle cx="48.50" cy="321.33" r="2.20" fill="#000"/>
<circle cx="62.76" cy="336.91" r="2.20" fill="#000"/>
<circle cx="91.28" cy="337.18" r="2.20" fill="#000"/>
<circle cx="105.54" cy="334.54" r="2.20" fill="#000"/>
<circle cx="119.80" cy="309.44" r="2.20" fill="#000"/>
<circle cx="134.06" cy="319.08" r="2.20" fill="#000"/>
<rect x="46.30" y="319.79" width="4.40" height="4.40" fill="#000"/>
<rect x="74.82" y="306.31" width="4.40" height="4.40" fill="#000"/>
<rect x="89.08" y="333.53" width="4.40" height="4.40" fill="#000"/>
<rect x="103.34" y="333.66" width="4.40" height="4.40" fill="#000"/>
<rect x="117.60" y="333.66" width="4.40" height="4.40" fill="#000"/>
<rect x="131.86" y="331.54" width="4.40" height="4.40" fill="#000"/>
<rect x="146.12" y="329.03" width="4.40" height="4.40" fill="#000"/>
<rect x="160.38" y="330.49" width="4.40" height="4.40" fill="#000"/>
<rect x="174.64" y="332.20" width="4.40" height="4.40" fill="#000"/>
<rect x="188.90" y="330.88" width="4.40" height="4.40" fill="#000"/>
<path d="M48.50 327.84L51.10 332.39L45.90 332.39Z" fill="#000"/>
<path d="M105.54 329.29L108.14 333.84L102.94 333.84Z" fill="#000"/>
<path d="M119.80 332.86L122.40 337.41L117.20 337.41Z" fill="#000"/>
<path d="M148.32 335.37L150.92 339.92L145.72 339.92Z" fill="#000"/>
<path d="M48.50 308.36L50.50 310.36L48.50 312.36L46.50 310.36Z" fill="#000"/>
<path d="M119.80 318.01L121.80 320.01L119.80 322.01L117.80 320.01Z" fill="#000"/>
<path d="M134.06 317.08L136.06 319.08L134.06 321.08L132.06 319.08Z" fill="#000"/>
<path d="M148.32 312.19L150.32 314.19L148.32 316.19L146.32 314.19Z" fill="#000"/>
<path d="M176.84 307.44L178.84 309.44L176.84 311.44L174.84 309.44Z" fill="#000"/>
<line x1="59.50" y1="376.3" x2="68.50" y2="376.3" stroke="#8a8bc4" stroke-width="1"/>
<circle cx="64.00" cy="376.30" r="1.98" fill="#000"/>
<text x="72.60" y="378.80" font-size="7.0" fill="#555" textLength="6.0" lengthAdjust="spacingAndGlyphs" stroke="#555" stroke-width="0.15">#2</text>
<line x1="59.50" y1="385.2" x2="68.50" y2="385.2" stroke="#8a8bc4" stroke-width="1"/>
<rect x="62.02" y="383.22" width="3.96" height="3.96" fill="#000"/>
<text x="72.60" y="387.70" font-size="7.0" fill="#555" textLength="6.0" lengthAdjust="spacingAndGlyphs" stroke="#555" stroke-width="0.15">#3</text>
<line x1="89.50" y1="376.3" x2="98.50" y2="376.3" stroke="#8a8bc4" stroke-width="1"/>
<path d="M94.00 373.96L96.34 378.06L91.66 378.06Z" fill="#000"/>
<text x="102.60" y="378.80" font-size="7.0" fill="#555" textLength="6.0" lengthAdjust="spacingAndGlyphs" stroke="#555" stroke-width="0.15">#5</text>
<line x1="89.50" y1="385.2" x2="98.50" y2="385.2" stroke="#8a8bc4" stroke-width="1"/>
<path d="M94.00 383.40L95.80 385.20L94.00 387.00L92.20 385.20Z" fill="#000"/>
<text x="102.60" y="387.70" font-size="7.0" fill="#555" textLength="10.0" lengthAdjust="spacingAndGlyphs" stroke="#555" stroke-width="0.15">#14</text>
<line x1="121.80" y1="376.3" x2="130.80" y2="376.3" stroke="#8a8bc4" stroke-width="1"/>
<circle cx="126.30" cy="376.30" r="1.73" fill="#fff" stroke="#000" stroke-width="1.2"/>
<text x="134.90" y="378.80" font-size="7.0" fill="#555" textLength="10.0" lengthAdjust="spacingAndGlyphs" stroke="#555" stroke-width="0.15">#23</text>
<line x1="121.80" y1="385.2" x2="130.80" y2="385.2" stroke="#8a8bc4" stroke-width="1"/>
<rect x="124.55" y="383.44" width="3.51" height="3.51" fill="#fff" stroke="#000" stroke-width="1.1"/>
<text x="134.90" y="387.70" font-size="7.0" fill="#555" textLength="10.0" lengthAdjust="spacingAndGlyphs" stroke="#555" stroke-width="0.15">#28</text>
<line x1="157.40" y1="376.3" x2="166.40" y2="376.3" stroke="#8a8bc4" stroke-width="1"/>
<path d="M161.90 374.23L164.07 377.96L159.73 377.96Z" fill="#fff" stroke="#000" stroke-width="1.1" stroke-linejoin="miter"/>
<text x="170.50" y="378.80" font-size="7.0" fill="#555" textLength="10.0" lengthAdjust="spacingAndGlyphs" stroke="#555" stroke-width="0.15">#31</text>
<line x1="157.40" y1="385.2" x2="166.40" y2="385.2" stroke="#8a8bc4" stroke-width="1"/>
<path d="M161.90 387.27L164.07 383.54L159.73 383.54Z" fill="#fff" stroke="#000" stroke-width="1.1"/>
<text x="170.50" y="387.70" font-size="7.0" fill="#555" textLength="10.0" lengthAdjust="spacingAndGlyphs" stroke="#555" stroke-width="0.15">#32</text>
<text x="7.0" y="16.4" font-size="10.6" fill="#111" font-weight="bold">A</text>
<text x="212.5" y="16.4" font-size="10.6" fill="#111" font-weight="bold">B</text>
<text x="7.6" y="215.2" font-size="10.6" fill="#111" font-weight="bold">C</text>
<text x="212.5" y="215.2" font-size="10.6" fill="#111" font-weight="bold">D</text>
<rect x="247.1" y="230.7" width="64.29999999999998" height="62.400000000000034" fill="none" stroke="#b5b5b5" stroke-width="0.9"/>
<line x1="247.1" y1="230.7" x2="247.1" y2="293.1" stroke="#8a8a8a" stroke-width="1"/>
<line x1="247.1" y1="293.1" x2="311.4" y2="293.1" stroke="#8a8a8a" stroke-width="1"/>
<line x1="245.29999999999998" y1="231.7" x2="247.1" y2="231.7" stroke="#777" stroke-width="0.8"/>
<text x="242.2" y="233.7" font-size="6.4" fill="#333" text-anchor="end">10<tspan font-size="3.8" dy="-2.8">5</tspan></text>
<line x1="245.29999999999998" y1="251.1" x2="247.1" y2="251.1" stroke="#777" stroke-width="0.8"/>
<text x="242.2" y="253.1" font-size="6.4" fill="#333" text-anchor="end">10<tspan font-size="3.8" dy="-2.8">4</tspan></text>
<line x1="245.29999999999998" y1="269.9" x2="247.1" y2="269.9" stroke="#777" stroke-width="0.8"/>
<text x="242.2" y="271.9" font-size="6.4" fill="#333" text-anchor="end">0</text>
<line x1="245.29999999999998" y1="288.59999999999997" x2="247.1" y2="288.59999999999997" stroke="#777" stroke-width="0.8"/>
<text x="242.2" y="290.6" font-size="6.4" fill="#333" text-anchor="end">-10<tspan font-size="3.8" dy="-2.8">4</tspan></text>
<line x1="251.5" y1="293.1" x2="251.5" y2="294.90000000000003" stroke="#777" stroke-width="0.8"/>
<text x="251.5" y="302.7" font-size="6.4" fill="#333" text-anchor="middle">-10<tspan font-size="3.8" dy="-2.8">4</tspan></text>
<line x1="266.2" y1="293.1" x2="266.2" y2="294.90000000000003" stroke="#777" stroke-width="0.8"/>
<text x="266.2" y="302.7" font-size="6.4" fill="#333" text-anchor="middle">0</text>
<line x1="281.5" y1="293.1" x2="281.5" y2="294.90000000000003" stroke="#777" stroke-width="0.8"/>
<text x="281.5" y="302.7" font-size="6.4" fill="#333" text-anchor="middle">10<tspan font-size="3.8" dy="-2.8">4</tspan></text>
<line x1="297.6" y1="293.1" x2="297.6" y2="294.90000000000003" stroke="#777" stroke-width="0.8"/>
<text x="297.6" y="302.7" font-size="6.4" fill="#333" text-anchor="middle">10<tspan font-size="3.8" dy="-2.8">5</tspan></text>
<line x1="310.9" y1="293.1" x2="310.9" y2="294.90000000000003" stroke="#777" stroke-width="0.8"/>
<text x="310.9" y="302.7" font-size="6.4" fill="#333" text-anchor="middle">10<tspan font-size="3.8" dy="-2.8">6</tspan></text>
<text x="256.0" y="225.6" font-size="8.6" fill="#222" textLength="44.0" lengthAdjust="spacingAndGlyphs">Pre-infusion</text>
<path d="M298.2 267.5h0.7M301.7 269.5h0.7M302.0 272.1h0.7M278.7 255.8h0.7M308.1 266.7h0.7M282.1 243.5h0.7M266.4 263.0h0.7M305.0 263.7h0.7M299.2 252.9h0.7M287.0 251.4h0.7M292.3 285.7h0.7M275.9 274.5h0.7M308.2 254.4h0.7M292.9 281.3h0.7M263.7 263.2h0.7M288.7 275.7h0.7M307.7 266.0h0.7M290.2 243.3h0.7M284.6 253.5h0.7M278.5 266.0h0.7M290.7 274.3h0.7M292.7 275.9h0.7M298.9 241.1h0.7M292.9 265.4h0.7M292.2 259.8h0.7M304.2 246.2h0.7M303.8 271.4h0.7M292.5 272.7h0.7M292.8 246.1h0.7M300.3 264.0h0.7M299.4 273.1h0.7M303.0 270.1h0.7M279.5 264.0h0.7M281.4 263.7h0.7M288.2 266.9h0.7M292.5 258.9h0.7M297.6 268.3h0.7M299.7 273.7h0.7M304.4 268.1h0.7M268.3 268.7h0.7M289.2 267.4h0.7M295.7 264.6h0.7M298.1 274.9h0.7M297.1 268.9h0.7M306.1 276.1h0.7M292.0 273.4h0.7M273.3 280.5h0.7M290.6 265.7h0.7M307.4 253.4h0.7M301.6 241.6h0.7M300.6 269.5h0.7M297.2 269.8h0.7M302.9 262.2h0.7M302.6 271.3h0.7M294.0 277.8h0.7M267.3 265.7h0.7M299.1 255.4h0.7M291.9 259.3h0.7M293.9 273.0h0.7M291.0 252.3h0.7M294.8 271.7h0.7M296.7 267.0h0.7M290.7 269.5h0.7M281.7 270.3h0.7M292.5 274.8h0.7M291.3 273.2h0.7M301.6 262.7h0.7M287.7 257.0h0.7M287.4 252.9h0.7M298.5 268.4h0.7M300.6 269.8h0.7M308.1 271.5h0.7M262.9 268.2h0.7M286.8 243.5h0.7M264.5 266.3h0.7M298.5 260.7h0.7M296.9 252.4h0.7M273.9 253.8h0.7M288.4 277.4h0.7M306.2 278.0h0.7M298.0 259.4h0.7M286.1 263.3h0.7M274.4 267.7h0.7M297.1 250.4h0.7M306.8 279.1h0.7M305.2 265.3h0.7M291.3 250.9h0.7M292.6 272.3h0.7M295.7 268.2h0.7M307.1 282.2h0.7M266.7 264.5h0.7M267.0 272.0h0.7M296.0 266.1h0.7M306.4 268.6h0.7M285.9 259.6h0.7M291.7 286.6h0.7M296.9 258.8h0.7M289.5 271.4h0.7M302.8 257.5h0.7M290.0 275.6h0.7M300.7 266.5h0.7M294.9 258.5h0.7M284.3 251.7h0.7M268.0 265.4h0.7M309.0 260.2h0.7M281.6 236.0h0.7M277.3 265.6h0.7M299.3 262.5h0.7M305.4 278.9h0.7M295.2 268.5h0.7M289.5 270.1h0.7M286.5 266.4h0.7M286.0 271.9h0.7M282.3 271.6h0.7M260.8 267.8h0.7M278.4 273.1h0.7M303.9 255.2h0.7M299.1 262.0h0.7M283.5 250.7h0.7M309.5 264.9h0.7M299.1 266.2h0.7M291.0 271.7h0.7M306.1 269.3h0.7M263.0 270.9h0.7M294.7 264.5h0.7M301.8 266.4h0.7M308.5 255.2h0.7M260.6 266.5h0.7M262.7 266.6h0.7M300.6 255.5h0.7M289.8 266.4h0.7M264.7 268.3h0.7M300.0 267.9h0.7M290.3 271.4h0.7M293.0 264.3h0.7M288.7 275.1h0.7M290.8 279.6h0.7M307.8 268.8h0.7M291.6 260.7h0.7M292.4 280.0h0.7M297.2 263.5h0.7M279.4 259.4h0.7M307.0 267.6h0.7M278.6 267.8h0.7M290.3 249.6h0.7M294.4 257.7h0.7M305.7 261.7h0.7M289.6 282.6h0.7M305.4 276.5h0.7M299.7 268.8h0.7M292.9 248.8h0.7M309.0 268.6h0.7M292.3 276.4h0.7M267.6 273.8h0.7M310.2 276.8h0.7M293.0 264.5h0.7M306.7 255.6h0.7M300.2 261.8h0.7M302.9 258.0h0.7M265.6 268.9h0.7M266.3 269.5h0.7M293.3 274.6h0.7M287.0 257.1h0.7M282.0 264.4h0.7M306.3 249.9h0.7M282.5 271.6h0.7M294.9 283.0h0.7M292.8 256.1h0.7M296.0 267.9h0.7M266.7 252.1h0.7M301.5 263.4h0.7M281.7 256.9h0.7M298.3 270.8h0.7M293.3 260.1h0.7M304.7 272.0h0.7M278.5 266.7h0.7M297.2 250.0h0.7M297.5 257.8h0.7M299.6 272.5h0.7M304.8 260.4h0.7M294.5 270.1h0.7M293.2 257.1h0.7M289.7 268.3h0.7M302.8 274.9h0.7M297.1 260.9h0.7M305.4 269.7h0.7M300.2 283.3h0.7M288.6 261.6h0.7M281.8 260.4h0.7M304.3 270.2h0.7M290.2 271.8h0.7M294.2 280.6h0.7M293.9 273.0h0.7M301.5 268.3h0.7M300.5 258.8h0.7M293.7 255.0h0.7M302.0 258.4h0.7M305.3 265.6h0.7M305.0 272.5h0.7M299.1 256.0h0.7M304.9 264.1h0.7M263.0 270.4h0.7M275.0 231.8h0.7M300.4 264.3h0.7M292.2 267.2h0.7M303.1 271.5h0.7M296.2 265.4h0.7M301.5 265.8h0.7M300.0 266.1h0.7M307.1 252.8h0.7M286.3 274.5h0.7M271.4 267.7h0.7M292.7 278.1h0.7M293.5 277.4h0.7M301.7 266.5h0.7M296.1 256.2h0.7M299.6 268.2h0.7M294.2 283.4h0.7M267.3 272.0h0.7M307.0 266.9h0.7M296.9 265.3h0.7M289.0 282.7h0.7M284.9 265.3h0.7M297.2 250.9h0.7M290.9 270.4h0.7M277.5 251.0h0.7M286.4 262.2h0.7M298.1 270.9h0.7M290.9 270.3h0.7M260.0 268.9h0.7M304.8 267.6h0.7M288.8 269.2h0.7M310.7 257.2h0.7M307.9 257.4h0.7M279.0 259.0h0.7M298.3 242.1h0.7M293.4 276.4h0.7M282.2 264.9h0.7M285.2 263.4h0.7M289.7 258.3h0.7M289.8 263.8h0.7M295.5 274.5h0.7M293.6 235.6h0.7M293.3 277.0h0.7M286.7 255.8h0.7M291.1 280.8h0.7M293.4 253.9h0.7M309.2 265.3h0.7M278.7 241.9h0.7M294.5 264.7h0.7M293.1 265.1h0.7M286.4 265.1h0.7M296.6 267.7h0.7M299.7 256.5h0.7M303.8 257.1h0.7M293.7 274.5h0.7M292.1 238.8h0.7M296.3 270.6h0.7M303.1 254.3h0.7M296.1 257.6h0.7M301.3 259.9h0.7M300.7 260.3h0.7M299.7 278.0h0.7M309.9 263.2h0.7M291.0 267.7h0.7M291.7 253.8h0.7M290.3 278.8h0.7M285.6 257.5h0.7M284.7 263.9h0.7M307.6 275.7h0.7M298.5 251.7h0.7M286.5 259.5h0.7M285.7 268.2h0.7M294.8 254.4h0.7M301.5 260.1h0.7M294.3 259.5h0.7M264.9 267.1h0.7M274.6 267.3h0.7M301.8 270.9h0.7M273.5 264.2h0.7" stroke="#000" stroke-width="0.7" fill="none" stroke-opacity="0.3"/>
<path d="M301.1 269.9h0.7M301.5 255.7h0.7M293.0 281.9h0.7M300.4 266.9h0.7M298.3 255.1h0.7M297.0 270.6h0.7M298.7 281.2h0.7M295.5 270.6h0.7M285.1 252.3h0.7M310.1 250.5h0.7M277.0 271.9h0.7M295.5 250.4h0.7M292.3 277.7h0.7M288.2 278.5h0.7M306.1 263.5h0.7M294.0 258.8h0.7M299.8 263.6h0.7M287.1 280.7h0.7M280.9 251.9h0.7M282.7 237.2h0.7M301.6 263.1h0.7M288.6 276.7h0.7M291.7 256.4h0.7M299.7 257.0h0.7M278.3 269.8h0.7M280.9 255.0h0.7M291.0 279.9h0.7M276.2 271.4h0.7M284.2 257.4h0.7M290.3 270.8h0.7M301.2 272.1h0.7M304.1 245.3h0.7M270.6 273.7h0.7M264.6 269.4h0.7M293.3 262.2h0.7M267.7 270.0h0.7M300.7 252.2h0.7M293.7 272.5h0.7M291.9 279.9h0.7M303.6 264.1h0.7M293.3 259.0h0.7M287.2 260.7h0.7M301.8 266.5h0.7M301.0 262.9h0.7M302.5 249.4h0.7M297.5 272.7h0.7M285.5 248.6h0.7M282.9 255.8h0.7M283.4 262.0h0.7M306.7 257.4h0.7M305.6 257.7h0.7M293.9 274.3h0.7M292.5 254.0h0.7M294.2 264.5h0.7M294.1 265.1h0.7M300.3 259.5h0.7M304.9 242.5h0.7M292.8 272.8h0.7M302.6 271.9h0.7M268.3 270.5h0.7M294.6 272.3h0.7M292.6 273.0h0.7M292.2 270.5h0.7M288.8 258.7h0.7M283.8 243.4h0.7M295.5 255.5h0.7M305.6 257.3h0.7M299.7 267.8h0.7M299.9 268.8h0.7M304.2 258.1h0.7M299.3 241.5h0.7M308.7 252.6h0.7M295.1 280.4h0.7M300.8 253.3h0.7M289.2 272.7h0.7M309.6 250.8h0.7M290.6 260.9h0.7M303.6 270.3h0.7M305.0 258.6h0.7M266.0 257.0h0.7M277.1 239.6h0.7M278.9 240.8h0.7M280.9 273.1h0.7M291.7 279.7h0.7M285.0 258.6h0.7M306.9 236.7h0.7M291.7 282.7h0.7M289.6 262.4h0.7M289.5 274.8h0.7M273.0 271.3h0.7M303.6 262.3h0.7M268.0 267.0h0.7M295.7 280.2h0.7M300.7 257.5h0.7M295.7 245.2h0.7M293.6 248.5h0.7M304.5 254.1h0.7M294.8 270.3h0.7M298.9 255.6h0.7M291.6 263.9h0.7M305.3 270.5h0.7M293.2 267.6h0.7M295.6 278.8h0.7M306.2 255.8h0.7M283.6 272.8h0.7M276.8 269.8h0.7M291.4 278.8h0.7M289.1 258.1h0.7M268.7 269.3h0.7M299.6 269.0h0.7M288.8 279.8h0.7M297.9 275.4h0.7M274.3 271.1h0.7M305.4 247.8h0.7M301.3 276.0h0.7M269.2 273.5h0.7M304.6 261.1h0.7M300.5 269.0h0.7M293.8 269.4h0.7M286.5 262.7h0.7M300.1 258.5h0.7M290.9 269.6h0.7M292.3 276.5h0.7M308.9 251.3h0.7M307.6 264.6h0.7M287.7 259.4h0.7M307.3 256.9h0.7M277.0 253.5h0.7M287.1 264.2h0.7M265.1 265.6h0.7M292.1 274.3h0.7M282.8 266.8h0.7M297.9 256.4h0.7M290.1 269.8h0.7M292.7 244.4h0.7M265.5 269.2h0.7M304.9 273.0h0.7M293.3 266.5h0.7M265.3 270.0h0.7M270.5 272.5h0.7M287.3 265.8h0.7M284.4 270.5h0.7M300.9 258.9h0.7M285.9 259.4h0.7M301.4 273.9h0.7M295.1 268.3h0.7M309.2 268.3h0.7M309.6 256.8h0.7M277.3 267.9h0.7M275.1 248.1h0.7M290.4 279.3h0.7M309.0 246.8h0.7M288.8 264.7h0.7M272.4 249.5h0.7M274.3 250.7h0.7M292.7 282.4h0.7M288.5 256.0h0.7M292.4 266.0h0.7M293.1 250.3h0.7M271.9 259.5h0.7M305.1 261.2h0.7M296.6 265.4h0.7M307.7 244.8h0.7M284.9 256.1h0.7M306.1 265.6h0.7M291.5 253.9h0.7M303.5 269.4h0.7M266.5 264.5h0.7M305.4 271.7h0.7M287.5 263.3h0.7M301.4 266.0h0.7M295.5 268.9h0.7M286.4 266.3h0.7M298.0 268.7h0.7M299.2 278.0h0.7M302.1 253.3h0.7M300.8 273.0h0.7M290.4 269.4h0.7M295.5 262.8h0.7M293.9 266.2h0.7M290.9 265.8h0.7M283.6 263.3h0.7M302.5 255.4h0.7M306.8 260.8h0.7M263.8 269.8h0.7M306.4 254.8h0.7M299.1 246.2h0.7M290.3 265.1h0.7M308.0 277.8h0.7M292.6 277.2h0.7M301.0 260.5h0.7M295.6 282.7h0.7M293.7 267.4h0.7M306.7 263.0h0.7M297.1 276.6h0.7M291.8 267.4h0.7M294.2 242.6h0.7M297.6 271.9h0.7M288.8 250.3h0.7M296.5 261.3h0.7M287.4 274.2h0.7M291.1 270.7h0.7M290.4 275.5h0.7M308.4 262.8h0.7M282.1 268.8h0.7M307.3 263.6h0.7M305.3 272.0h0.7M267.9 271.3h0.7M303.5 282.3h0.7M299.2 250.6h0.7M294.3 254.1h0.7M287.2 256.8h0.7M299.4 268.5h0.7M292.1 264.5h0.7M295.8 267.2h0.7M304.4 257.3h0.7M281.5 258.9h0.7M268.6 272.3h0.7M307.6 273.3h0.7M296.7 267.2h0.7M263.1 271.3h0.7M289.0 279.5h0.7M265.0 270.1h0.7M295.5 261.1h0.7M279.7 264.5h0.7M301.7 255.8h0.7M308.7 247.6h0.7M290.2 266.6h0.7M302.7 281.3h0.7M293.0 280.8h0.7M301.8 257.2h0.7M300.2 250.9h0.7M290.5 267.5h0.7M293.8 263.0h0.7M295.3 264.1h0.7M301.2 254.2h0.7M279.4 265.3h0.7M262.5 267.2h0.7M297.5 258.4h0.7M294.4 259.6h0.7M299.3 267.0h0.7M276.7 264.3h0.7M304.4 259.5h0.7M291.1 266.0h0.7M297.6 249.6h0.7M306.5 265.6h0.7M299.6 274.1h0.7M294.6 262.0h0.7M297.2 268.6h0.7M303.3 260.7h0.7M280.2 255.7h0.7M294.2 260.2h0.7M289.7 253.3h0.7M296.9 259.5h0.7M264.8 271.9h0.7M265.8 265.7h0.7M300.7 259.9h0.7M304.8 272.6h0.7M290.6 263.2h0.7M275.0 257.6h0.7M289.3 262.5h0.7M308.8 264.1h0.7M281.6 256.8h0.7M293.5 265.4h0.7M296.5 256.5h0.7M306.2 269.6h0.7M287.7 263.4h0.7M290.6 255.9h0.7M309.4 260.2h0.7M293.4 262.2h0.7M280.6 267.8h0.7M300.0 280.4h0.7M288.2 262.0h0.7M293.5 260.1h0.7M278.2 258.4h0.7M301.1 276.3h0.7M308.0 246.7h0.7M308.9 273.1h0.7M279.0 257.2h0.7M294.0 264.9h0.7" stroke="#000" stroke-width="0.7" fill="none" stroke-opacity="0.3"/>
<path d="M295.7 267.2h0.7M307.9 253.3h0.7M293.4 265.9h0.7M288.8 279.7h0.7M292.4 271.8h0.7M299.5 271.8h0.7M294.7 266.8h0.7M299.2 262.5h0.7M292.5 264.3h0.7M292.6 271.8h0.7M287.6 257.2h0.7M300.4 260.0h0.7M305.0 258.2h0.7M288.4 267.7h0.7M300.1 265.0h0.7M307.9 269.0h0.7M303.8 261.9h0.7M299.5 263.9h0.7M281.0 270.2h0.7M306.0 260.4h0.7M278.9 275.1h0.7M280.0 250.3h0.7M274.9 271.2h0.7M307.7 269.5h0.7M285.0 249.3h0.7M295.8 268.9h0.7M308.4 260.6h0.7M291.7 242.8h0.7M296.4 263.6h0.7M289.0 248.6h0.7M292.0 253.9h0.7M270.4 260.3h0.7M300.8 242.1h0.7M291.4 262.1h0.7M267.2 269.6h0.7M306.7 263.2h0.7M265.7 271.1h0.7M286.6 267.2h0.7M310.6 244.6h0.7M292.3 264.8h0.7M301.4 255.7h0.7M296.9 262.2h0.7M266.4 266.0h0.7M303.0 250.1h0.7M295.2 244.0h0.7M299.0 256.4h0.7M291.9 282.5h0.7M292.7 278.9h0.7M281.6 272.1h0.7M300.5 275.9h0.7M296.2 263.4h0.7M292.4 277.7h0.7M295.9 281.1h0.7M299.5 255.5h0.7M307.9 267.1h0.7M291.4 283.2h0.7M306.6 244.3h0.7M310.5 257.2h0.7M264.4 266.7h0.7M292.3 266.1h0.7M271.7 248.2h0.7M292.9 258.6h0.7M288.5 265.9h0.7M275.0 256.5h0.7M301.4 262.4h0.7M283.8 253.4h0.7M266.8 272.3h0.7M290.0 265.6h0.7M283.9 245.3h0.7M296.5 271.2h0.7M298.0 261.1h0.7M288.5 270.0h0.7M308.0 255.9h0.7M278.8 266.2h0.7M293.1 275.1h0.7M305.7 271.4h0.7M275.8 262.9h0.7M297.1 263.2h0.7M296.7 252.7h0.7M289.8 283.2h0.7M286.0 274.3h0.7M289.7 263.6h0.7M302.1 256.8h0.7M293.9 254.5h0.7M295.2 258.2h0.7M293.1 278.7h0.7M304.4 274.2h0.7M279.0 254.9h0.7M306.7 264.5h0.7M307.8 268.4h0.7M265.2 263.2h0.7M294.0 242.4h0.7M293.9 265.3h0.7M300.3 274.6h0.7M275.7 246.3h0.7M298.3 265.6h0.7M298.0 265.7h0.7M304.1 264.9h0.7M292.8 274.5h0.7M266.6 272.7h0.7M282.3 258.9h0.7M298.5 247.3h0.7M297.3 265.9h0.7M296.3 266.1h0.7M292.1 256.7h0.7M304.7 269.7h0.7M297.2 256.8h0.7M291.8 257.2h0.7M289.4 264.7h0.7M310.8 257.4h0.7M296.8 261.2h0.7M299.6 270.9h0.7M302.7 259.6h0.7M299.7 249.8h0.7M294.0 246.7h0.7M286.6 265.8h0.7M296.0 259.5h0.7M280.5 268.2h0.7M284.7 254.9h0.7M309.6 254.9h0.7M301.0 269.1h0.7M305.4 264.0h0.7M290.9 270.8h0.7M293.9 265.2h0.7M300.1 247.4h0.7M308.1 250.0h0.7M299.6 266.0h0.7M309.1 253.2h0.7M305.5 258.7h0.7M297.0 273.6h0.7M287.2 265.1h0.7M310.5 266.7h0.7M293.1 272.3h0.7M305.8 252.4h0.7M294.3 275.9h0.7M293.4 249.4h0.7M287.7 243.0h0.7M308.9 270.5h0.7M266.0 270.8h0.7M304.9 248.2h0.7M276.5 274.9h0.7M300.7 260.1h0.7M267.9 270.1h0.7M300.1 271.4h0.7M283.4 246.2h0.7M301.7 271.7h0.7M286.3 267.9h0.7M307.3 275.1h0.7M287.3 258.9h0.7M303.2 251.3h0.7M297.9 258.9h0.7M307.1 271.6h0.7M296.5 279.3h0.7M300.4 259.1h0.7M275.2 246.2h0.7M304.9 265.1h0.7M275.1 264.0h0.7M283.7 242.3h0.7M282.4 269.1h0.7M297.1 275.9h0.7M285.3 259.6h0.7M303.0 239.5h0.7M302.5 262.4h0.7M284.7 264.4h0.7M292.6 256.3h0.7M279.4 272.3h0.7M294.4 279.1h0.7M292.2 281.4h0.7M300.3 239.4h0.7M288.4 267.1h0.7M302.2 268.1h0.7M310.4 273.0h0.7M278.4 250.6h0.7M294.0 245.6h0.7M305.8 258.6h0.7M283.6 274.0h0.7M269.9 268.0h0.7M279.8 265.9h0.7M290.2 282.1h0.7M290.0 247.3h0.7M293.8 256.9h0.7M298.7 254.7h0.7M298.8 241.3h0.7M262.9 271.2h0.7M295.9 264.5h0.7M294.1 271.0h0.7M289.5 244.4h0.7M301.1 275.6h0.7M285.7 267.9h0.7M294.5 248.1h0.7M283.9 268.4h0.7M309.7 262.0h0.7M279.9 256.7h0.7M282.2 260.6h0.7M277.3 267.4h0.7M296.7 266.5h0.7M306.4 268.5h0.7M290.8 264.9h0.7M293.4 267.4h0.7M305.2 233.2h0.7M300.8 277.1h0.7M293.0 251.0h0.7M310.2 265.3h0.7M293.8 255.9h0.7M262.6 267.4h0.7M295.5 243.2h0.7M289.6 236.9h0.7M282.8 259.4h0.7M303.3 254.6h0.7M282.5 268.7h0.7M261.5 271.9h0.7M285.2 266.5h0.7M295.0 274.4h0.7M308.2 263.2h0.7M303.2 278.5h0.7M296.2 270.2h0.7M292.6 280.2h0.7M257.7 277.5h0.7M298.6 260.8h0.7M292.6 275.7h0.7M298.6 263.1h0.7M301.7 251.2h0.7M292.0 244.4h0.7M282.6 266.2h0.7M257.5 268.6h0.7M302.4 238.9h0.7M296.0 255.5h0.7M305.3 263.7h0.7M290.4 270.9h0.7M289.5 247.4h0.7M301.7 272.9h0.7M296.1 272.1h0.7M305.4 271.9h0.7M264.3 266.4h0.7M305.8 246.8h0.7M289.9 272.5h0.7M309.2 267.0h0.7M271.0 253.1h0.7M294.3 277.1h0.7M296.5 278.2h0.7M296.8 251.8h0.7M295.3 267.5h0.7M292.1 271.2h0.7M307.1 269.0h0.7M299.7 254.2h0.7M299.8 264.1h0.7M287.6 237.6h0.7M287.8 249.6h0.7M268.0 272.3h0.7M298.7 247.4h0.7M310.2 265.7h0.7M302.9 269.1h0.7M297.1 256.5h0.7M291.3 272.5h0.7M300.6 275.1h0.7M301.8 264.5h0.7M289.3 250.0h0.7M269.5 267.8h0.7M293.6 280.2h0.7M309.2 272.1h0.7M299.0 258.8h0.7M290.6 276.3h0.7M286.7 271.1h0.7M290.7 264.3h0.7M287.6 264.2h0.7M298.5 236.2h0.7M308.7 268.5h0.7M268.5 267.4h0.7M307.9 272.5h0.7M278.6 279.6h0.7M285.1 272.6h0.7M287.5 256.6h0.7M287.2 262.7h0.7M288.1 259.3h0.7M290.9 274.6h0.7M293.6 257.7h0.7M282.0 270.1h0.7M281.1 264.4h0.7M275.5 265.2h0.7M294.5 248.7h0.7" stroke="#000" stroke-width="0.7" fill="none" stroke-opacity="0.3"/>
<path d="M297.3 266.9h0.75M300.1 258.7h0.75M299.6 262.4h0.75M306.6 268.7h0.75M303.0 268.3h0.75M300.0 260.7h0.75M305.5 267.8h0.75M303.9 258.3h0.75M286.8 268.1h0.75M300.3 267.3h0.75M295.4 268.3h0.75M297.7 268.7h0.75M293.2 271.2h0.75M292.1 268.7h0.75M300.0 268.6h0.75M303.7 268.2h0.75M295.2 252.7h0.75M302.7 267.0h0.75M299.2 258.4h0.75M287.3 271.5h0.75M290.3 268.1h0.75M286.8 262.8h0.75M298.3 263.0h0.75M300.9 258.8h0.75M308.1 268.0h0.75M296.2 260.6h0.75M300.1 266.5h0.75M294.2 267.7h0.75M296.4 267.3h0.75M299.1 256.3h0.75M295.2 268.1h0.75M300.9 264.8h0.75M300.6 269.8h0.75M301.8 257.8h0.75M302.5 266.8h0.75M296.0 263.8h0.75M295.2 267.9h0.75M298.0 270.7h0.75M301.5 268.0h0.75M292.7 258.8h0.75M299.1 270.0h0.75M289.0 270.8h0.75M300.0 271.6h0.75M294.3 266.7h0.75M306.4 255.8h0.75M305.9 268.5h0.75M297.9 268.3h0.75M291.1 245.4h0.75M299.3 261.6h0.75M305.1 267.9h0.75M297.2 260.8h0.75M307.1 263.2h0.75M299.5 254.9h0.75M305.2 257.9h0.75M302.9 269.7h0.75M287.5 272.2h0.75M299.1 261.8h0.75M307.1 269.7h0.75M300.5 268.6h0.75M296.5 253.6h0.75M299.7 259.6h0.75M300.8 263.4h0.75M281.9 269.1h0.75M308.6 269.2h0.75M290.7 254.5h0.75M292.6 262.8h0.75M299.8 265.2h0.75M298.8 264.6h0.75M292.6 255.4h0.75M294.7 266.6h0.75M292.2 261.2h0.75M296.9 264.5h0.75M291.4 270.7h0.75M294.5 259.5h0.75M292.2 254.4h0.75M290.7 258.2h0.75M300.6 266.8h0.75M296.2 269.0h0.75M286.6 261.9h0.75M303.3 251.7h0.75M292.2 261.5h0.75M300.1 269.7h0.75M298.7 267.7h0.75M299.4 275.0h0.75M309.3 264.6h0.75M286.1 258.0h0.75M304.5 262.5h0.75M298.0 256.1h0.75M303.8 260.3h0.75M306.0 267.4h0.75M299.9 264.7h0.75M302.3 261.7h0.75M299.7 258.4h0.75M300.5 261.6h0.75M301.6 263.6h0.75M301.6 260.3h0.75M305.4 266.0h0.75M297.3 263.4h0.75M300.5 270.9h0.75M306.4 252.1h0.75M298.8 261.1h0.75M303.0 267.5h0.75M292.4 271.8h0.75M295.4 260.7h0.75M301.9 258.6h0.75M298.8 268.5h0.75M305.3 259.5h0.75M294.8 262.5h0.75M306.2 265.4h0.75M302.1 268.4h0.75M292.3 252.2h0.75M291.0 269.5h0.75M296.9 268.4h0.75M296.4 270.4h0.75M304.0 270.4h0.75M294.3 255.7h0.75M303.6 271.3h0.75M287.6 266.9h0.75M301.3 260.1h0.75M292.1 269.3h0.75M291.2 249.5h0.75M300.5 262.8h0.75M299.0 267.6h0.75M295.3 266.7h0.75M301.7 270.1h0.75M294.9 266.9h0.75M292.5 250.4h0.75M290.6 263.4h0.75M308.1 268.7h0.75M297.4 253.3h0.75M295.6 251.7h0.75M300.6 268.7h0.75M289.4 269.2h0.75M292.6 259.7h0.75M291.7 268.7h0.75M290.4 271.2h0.75M302.7 267.5h0.75M295.0 262.7h0.75M303.0 270.8h0.75M292.1 269.1h0.75M284.4 271.0h0.75M307.6 270.3h0.75M301.0 268.5h0.75M294.8 270.8h0.75M291.5 268.1h0.75M292.2 268.2h0.75M302.1 262.5h0.75M295.1 264.0h0.75M304.5 268.4h0.75M301.2 255.3h0.75M296.5 259.6h0.75M302.2 262.3h0.75M302.7 254.5h0.75M301.8 268.6h0.75M302.2 271.4h0.75M298.4 269.4h0.75M291.4 257.6h0.75M306.4 266.6h0.75M307.9 271.4h0.75M295.3 259.0h0.75M294.6 268.9h0.75M308.3 258.4h0.75M295.5 267.0h0.75M299.3 250.9h0.75M294.8 264.2h0.75M303.7 262.1h0.75M304.4 254.6h0.75M302.3 266.9h0.75M296.0 266.1h0.75M304.8 257.7h0.75M303.3 269.6h0.75M297.1 253.8h0.75M295.9 261.4h0.75M297.8 253.2h0.75M299.2 265.8h0.75M299.4 256.5h0.75M296.1 267.3h0.75M298.3 268.6h0.75M286.6 261.9h0.75M306.3 247.9h0.75M289.3 260.2h0.75M291.4 268.4h0.75M299.4 262.1h0.75M301.7 263.7h0.75M308.7 262.2h0.75M295.1 267.4h0.75M291.7 271.0h0.75M293.1 269.6h0.75M297.3 260.5h0.75M296.2 270.6h0.75M293.0 264.6h0.75M292.8 268.1h0.75M302.3 254.8h0.75M294.4 268.2h0.75M304.7 268.3h0.75M301.5 263.9h0.75M294.2 263.3h0.75M303.6 269.0h0.75M286.7 268.6h0.75M295.9 266.8h0.75M302.2 269.5h0.75M301.2 263.2h0.75M301.9 261.9h0.75M299.3 267.8h0.75M292.8 270.1h0.75M295.1 271.6h0.75M297.9 256.9h0.75M309.4 266.1h0.75M291.9 270.4h0.75M301.3 271.6h0.75M296.6 259.4h0.75M292.0 257.4h0.75M306.9 268.9h0.75M301.2 261.2h0.75M292.9 258.1h0.75M301.0 260.1h0.75M302.6 261.6h0.75M298.3 250.2h0.75M293.8 261.7h0.75M298.9 264.9h0.75M297.3 266.1h0.75M306.5 264.8h0.75M299.9 267.9h0.75M289.4 268.0h0.75M308.2 259.6h0.75M297.7 269.5h0.75M300.0 253.3h0.75M293.2 261.7h0.75M292.9 267.8h0.75M293.7 267.8h0.75M301.8 264.4h0.75M301.2 262.4h0.75M299.4 258.4h0.75M283.6 268.6h0.75M295.9 260.1h0.75M302.1 263.8h0.75M296.6 265.6h0.75M289.9 269.5h0.75M284.9 266.8h0.75M300.1 260.2h0.75M296.3 262.8h0.75M302.4 265.8h0.75M297.0 269.8h0.75M295.9 265.8h0.75M302.2 266.2h0.75M303.5 265.0h0.75M290.9 269.9h0.75M297.6 265.1h0.75M299.0 261.3h0.75M298.6 257.3h0.75M303.0 259.3h0.75M301.3 273.5h0.75M299.8 264.7h0.75M297.1 268.9h0.75M300.1 260.7h0.75M296.2 270.1h0.75M297.2 270.7h0.75M281.8 266.4h0.75M305.0 262.8h0.75M295.4 267.3h0.75M287.8 265.0h0.75M292.0 254.0h0.75M294.8 266.4h0.75M305.2 260.1h0.75M301.2 269.8h0.75M304.5 267.4h0.75M300.1 266.1h0.75M303.5 260.8h0.75M307.1 267.3h0.75M294.0 252.6h0.75M287.9 267.8h0.75M299.3 262.3h0.75M309.3 263.7h0.75M299.2 269.5h0.75M299.3 270.2h0.75M290.3 268.9h0.75M285.9 268.8h0.75M293.3 262.8h0.75M296.8 269.5h0.75M292.4 262.8h0.75M286.9 268.0h0.75M287.9 264.2h0.75M290.8 262.0h0.75M285.8 267.9h0.75M300.5 270.0h0.75M289.5 258.2h0.75M300.0 258.4h0.75M308.1 266.9h0.75M294.7 269.7h0.75M301.8 261.8h0.75M303.1 256.7h0.75M300.5 266.4h0.75M302.4 268.0h0.75M288.3 271.0h0.75M300.0 250.4h0.75M295.7 259.2h0.75M294.4 261.9h0.75M305.7 268.7h0.75M297.7 262.5h0.75M294.7 258.2h0.75M305.6 265.6h0.75M306.2 267.6h0.75M303.6 259.1h0.75M298.7 261.9h0.75M304.6 267.7h0.75M293.4 270.9h0.75M292.1 269.8h0.75M306.7 266.8h0.75M297.9 263.6h0.75M301.3 263.5h0.75M307.3 258.8h0.75M293.3 260.5h0.75M297.8 255.2h0.75M291.5 249.1h0.75M297.5 267.5h0.75M291.3 257.9h0.75M292.7 258.6h0.75M298.7 270.3h0.75M300.1 264.8h0.75M297.0 269.6h0.75M295.4 256.7h0.75M291.0 266.7h0.75M302.2 260.8h0.75M301.2 271.2h0.75M293.8 273.9h0.75M300.8 269.8h0.75M297.0 261.0h0.75M295.1 258.3h0.75M308.3 267.0h0.75M298.2 257.1h0.75M294.5 268.2h0.75M296.9 263.9h0.75M292.2 263.5h0.75M309.2 265.7h0.75M305.8 251.4h0.75M298.4 259.2h0.75M293.0 260.5h0.75M291.6 261.4h0.75M306.6 272.7h0.75M293.8 270.6h0.75M297.3 257.9h0.75M297.7 260.4h0.75M300.2 270.5h0.75" stroke="#000" stroke-width="0.75" fill="none" stroke-opacity="0.38"/>
<path d="M291.0 267.4h0.75M297.2 268.6h0.75M295.3 256.7h0.75M290.4 266.9h0.75M300.4 266.5h0.75M296.6 255.5h0.75M296.9 254.1h0.75M300.8 267.7h0.75M293.6 268.5h0.75M286.6 258.6h0.75M298.3 259.3h0.75M292.5 260.3h0.75M307.3 265.9h0.75M282.5 244.4h0.75M305.3 269.6h0.75M308.5 270.5h0.75M298.3 259.3h0.75M286.1 268.9h0.75M287.8 256.2h0.75M300.9 271.5h0.75M301.9 268.5h0.75M306.0 255.9h0.75M296.4 261.6h0.75M288.7 262.1h0.75M307.7 268.1h0.75M288.2 268.8h0.75M292.3 269.0h0.75M289.9 267.3h0.75M301.4 269.1h0.75M300.5 254.5h0.75M303.4 270.5h0.75M299.9 270.5h0.75M286.4 270.8h0.75M296.8 261.7h0.75M302.1 267.6h0.75M302.9 262.8h0.75M294.6 264.5h0.75M286.2 256.6h0.75M298.6 257.3h0.75M297.8 271.4h0.75M308.3 260.6h0.75M302.7 256.2h0.75M295.8 263.0h0.75M293.6 259.4h0.75M294.2 255.2h0.75M289.6 268.3h0.75M295.2 263.6h0.75M303.3 268.7h0.75M293.9 249.6h0.75M301.0 259.9h0.75M301.2 262.9h0.75M295.4 267.5h0.75M295.5 270.0h0.75M300.1 267.8h0.75M298.3 254.3h0.75M296.7 264.7h0.75M302.1 260.7h0.75M302.8 264.9h0.75M305.6 269.4h0.75M301.4 275.5h0.75M291.7 256.2h0.75M296.4 259.1h0.75M288.7 261.4h0.75M297.9 260.3h0.75M306.4 271.1h0.75M301.1 263.5h0.75M290.7 262.2h0.75M292.0 269.4h0.75M298.0 268.9h0.75M305.6 260.8h0.75M288.5 262.6h0.75M297.5 265.1h0.75M302.1 257.3h0.75M290.5 271.8h0.75M307.3 259.4h0.75M300.4 268.3h0.75M301.9 267.7h0.75M301.4 271.2h0.75M302.8 268.5h0.75M287.8 268.6h0.75M294.0 268.7h0.75M298.5 263.7h0.75M298.2 270.9h0.75M291.4 250.7h0.75M294.3 259.1h0.75M290.9 265.7h0.75M290.8 262.7h0.75M302.0 268.5h0.75M291.1 251.4h0.75M297.5 254.2h0.75M299.8 254.7h0.75M286.8 270.2h0.75M291.1 269.8h0.75M298.3 266.1h0.75M296.2 268.0h0.75M295.3 270.0h0.75M290.6 260.8h0.75M293.9 270.2h0.75M297.4 255.2h0.75M305.2 269.7h0.75M305.0 262.5h0.75M300.9 254.0h0.75M293.0 255.4h0.75M293.9 256.8h0.75M306.8 267.1h0.75M293.0 254.4h0.75M285.0 259.3h0.75M300.8 270.7h0.75M290.7 256.6h0.75M301.4 257.5h0.75M300.1 252.8h0.75M296.1 269.2h0.75M304.0 262.1h0.75M301.3 262.9h0.75M304.4 270.3h0.75M302.8 258.6h0.75M293.2 257.6h0.75M288.0 269.4h0.75M295.9 265.1h0.75M294.6 259.1h0.75M298.6 269.3h0.75M299.8 261.4h0.75M295.5 251.0h0.75M299.9 258.6h0.75M297.4 265.5h0.75M296.9 262.9h0.75M289.6 263.1h0.75M295.0 263.8h0.75M303.9 261.4h0.75M298.6 270.9h0.75M291.1 261.5h0.75M296.0 266.8h0.75M292.9 254.1h0.75M299.7 269.0h0.75M295.5 257.8h0.75M293.6 258.8h0.75M293.2 262.9h0.75M298.6 253.9h0.75M291.7 270.0h0.75M301.9 268.5h0.75M296.0 258.0h0.75M296.9 260.9h0.75M300.3 267.3h0.75M302.5 265.6h0.75M295.2 262.5h0.75M300.2 267.3h0.75M297.7 247.9h0.75M302.3 259.9h0.75M297.7 268.8h0.75M295.7 262.7h0.75M293.9 252.3h0.75M301.3 267.4h0.75M306.4 257.3h0.75M292.0 263.0h0.75M299.2 269.8h0.75M295.1 261.6h0.75M308.7 261.8h0.75M298.9 258.2h0.75M305.0 261.0h0.75M291.9 268.1h0.75M297.5 262.5h0.75M288.8 265.4h0.75M294.7 269.9h0.75M297.5 260.2h0.75M305.1 267.6h0.75M292.4 264.0h0.75M305.6 269.3h0.75M289.9 258.3h0.75M296.7 261.0h0.75M288.0 259.4h0.75M297.9 271.4h0.75M295.3 258.8h0.75M307.7 269.0h0.75M294.0 261.3h0.75M297.4 253.3h0.75M292.8 265.7h0.75M302.0 270.0h0.75M297.8 262.5h0.75M300.5 259.9h0.75M302.6 268.4h0.75M301.9 256.5h0.75M300.4 257.0h0.75M291.0 267.2h0.75M282.0 268.0h0.75M296.3 260.5h0.75M297.5 269.5h0.75M290.2 258.3h0.75M305.7 271.0h0.75M298.4 261.1h0.75M299.3 255.5h0.75M295.7 269.7h0.75M298.2 263.6h0.75M302.8 270.2h0.75M294.7 267.8h0.75M291.5 268.2h0.75M307.8 268.4h0.75M296.5 266.6h0.75M295.3 253.7h0.75M295.7 265.2h0.75M297.0 266.4h0.75M300.4 255.3h0.75M292.3 269.3h0.75M301.6 272.4h0.75M291.6 268.6h0.75M299.7 257.6h0.75M294.3 255.1h0.75M306.7 268.3h0.75M299.7 263.0h0.75M307.0 267.7h0.75M299.9 271.4h0.75M298.6 268.0h0.75M298.8 269.8h0.75M296.2 269.9h0.75M295.3 267.4h0.75M296.8 268.5h0.75M293.2 257.3h0.75M295.9 254.4h0.75M302.7 268.1h0.75M294.8 269.4h0.75M302.8 271.3h0.75M299.0 253.3h0.75M288.9 271.2h0.75M292.6 268.1h0.75M301.9 266.7h0.75M293.0 262.8h0.75M298.4 255.5h0.75M295.7 267.5h0.75M297.6 264.4h0.75M301.6 252.5h0.75M297.1 269.1h0.75M296.5 272.8h0.75M290.5 265.7h0.75M303.3 257.7h0.75M291.5 255.9h0.75M305.8 258.3h0.75M296.7 267.3h0.75M296.5 261.2h0.75M291.0 262.6h0.75M302.0 263.0h0.75M307.3 267.9h0.75M302.5 267.0h0.75M279.9 259.4h0.75M306.8 272.8h0.75M298.4 258.2h0.75M303.3 260.0h0.75M291.3 270.4h0.75M294.7 267.2h0.75M291.5 266.3h0.75M291.6 258.8h0.75M299.0 270.0h0.75M302.2 272.4h0.75M293.9 264.6h0.75M300.1 269.0h0.75M295.9 265.9h0.75M289.5 261.9h0.75M299.8 252.8h0.75M305.1 267.1h0.75M295.6 257.6h0.75M296.6 260.3h0.75M298.6 259.5h0.75M289.2 271.5h0.75M306.0 271.6h0.75M303.2 269.3h0.75M292.0 262.4h0.75M307.3 257.0h0.75M302.5 264.1h0.75M291.0 266.0h0.75M290.1 255.2h0.75M306.5 264.4h0.75M308.9 268.2h0.75M305.9 254.0h0.75M296.9 267.9h0.75M299.6 268.4h0.75M309.4 266.3h0.75M294.8 269.3h0.75M281.6 269.9h0.75M301.4 263.3h0.75M302.2 251.9h0.75M305.2 260.9h0.75M290.0 251.6h0.75M306.3 269.6h0.75M297.9 266.4h0.75M288.9 259.2h0.75M300.3 258.4h0.75M297.6 255.6h0.75M296.7 263.7h0.75M301.2 267.1h0.75M300.6 269.1h0.75M298.5 268.8h0.75M297.0 252.6h0.75M298.7 268.6h0.75M296.7 270.1h0.75M293.3 258.8h0.75M298.0 270.1h0.75M297.6 260.0h0.75M295.6 268.7h0.75M300.6 269.2h0.75M302.4 267.2h0.75M290.9 260.2h0.75M295.0 257.4h0.75M294.2 263.7h0.75M300.1 262.2h0.75M296.8 255.8h0.75M287.5 265.2h0.75M294.1 266.9h0.75M305.0 254.0h0.75M293.5 267.3h0.75M294.6 267.5h0.75M302.1 269.6h0.75M306.7 264.2h0.75M292.3 259.2h0.75M293.9 259.0h0.75M299.1 262.4h0.75M294.4 269.3h0.75M294.2 261.9h0.75M301.4 264.5h0.75M302.3 259.1h0.75M302.8 269.9h0.75M307.8 260.9h0.75M296.7 249.9h0.75M306.7 263.0h0.75M291.8 262.1h0.75M295.1 267.9h0.75M298.3 269.7h0.75M296.6 268.7h0.75M299.2 250.7h0.75M290.3 269.3h0.75M309.0 271.3h0.75M300.3 266.7h0.75M288.5 269.6h0.75M296.2 256.1h0.75M301.9 257.8h0.75M300.5 271.8h0.75M301.9 268.1h0.75M293.3 260.0h0.75M297.9 263.6h0.75M294.1 270.9h0.75M293.2 266.9h0.75M290.3 267.5h0.75M301.1 267.6h0.75M301.6 262.9h0.75M278.7 266.1h0.75M302.3 269.9h0.75" stroke="#000" stroke-width="0.75" fill="none" stroke-opacity="0.38"/>
<path d="M297.6 272.9h0.75M300.2 267.2h0.75M297.2 269.3h0.75M298.7 253.6h0.75M297.1 255.6h0.75M303.0 265.9h0.75M295.6 255.7h0.75M300.8 270.1h0.75M296.8 262.9h0.75M291.1 263.0h0.75M300.0 260.7h0.75M301.9 259.4h0.75M293.9 269.4h0.75M293.9 266.3h0.75M295.6 255.3h0.75M297.9 257.1h0.75M306.5 268.7h0.75M299.6 268.0h0.75M296.2 264.8h0.75M298.3 268.9h0.75M303.3 269.0h0.75M293.9 270.0h0.75M282.5 268.7h0.75M293.0 268.5h0.75M299.8 269.4h0.75M296.0 269.5h0.75M293.2 267.4h0.75M303.8 261.8h0.75M298.9 260.2h0.75M291.8 265.2h0.75M294.6 267.6h0.75M309.0 266.4h0.75M296.4 268.8h0.75M302.1 263.6h0.75M295.7 266.9h0.75M287.3 267.3h0.75M282.4 265.9h0.75M300.4 270.9h0.75M297.7 268.7h0.75M306.1 266.0h0.75M302.2 269.1h0.75M301.9 268.2h0.75M297.2 266.8h0.75M291.5 266.6h0.75M302.9 263.9h0.75M294.7 267.5h0.75M282.3 270.2h0.75M294.2 255.4h0.75M304.3 269.8h0.75M302.7 255.8h0.75M297.8 267.8h0.75M298.6 267.9h0.75M292.5 262.5h0.75M308.1 270.6h0.75M290.3 253.6h0.75M302.4 270.9h0.75M305.2 267.5h0.75M277.3 255.9h0.75M304.1 249.6h0.75M296.9 269.4h0.75M300.3 265.9h0.75M299.1 260.1h0.75M299.3 266.0h0.75M305.9 268.2h0.75M298.4 265.9h0.75M293.8 264.8h0.75M302.5 260.0h0.75M293.4 269.0h0.75M300.6 259.6h0.75M300.8 272.2h0.75M294.9 267.2h0.75M304.3 260.7h0.75M303.6 258.1h0.75M305.4 271.7h0.75M291.8 264.5h0.75M295.4 272.8h0.75M291.5 266.3h0.75M301.4 258.2h0.75M296.1 259.8h0.75M294.3 270.6h0.75M300.4 256.0h0.75M298.9 256.0h0.75M297.4 257.3h0.75M291.0 250.5h0.75M302.3 270.4h0.75M297.5 269.5h0.75M304.8 269.7h0.75M302.0 262.3h0.75M305.9 264.6h0.75M297.4 249.2h0.75M295.3 268.6h0.75M298.2 269.8h0.75M296.9 268.7h0.75M302.2 252.9h0.75M298.2 255.3h0.75M296.5 269.4h0.75M293.2 269.6h0.75M290.0 256.8h0.75M291.7 269.7h0.75M302.5 265.8h0.75M300.0 267.3h0.75M292.3 268.8h0.75M293.4 258.5h0.75M297.9 266.0h0.75M297.4 269.5h0.75M303.4 269.4h0.75M288.3 266.1h0.75M299.7 267.0h0.75M308.5 260.1h0.75M299.0 270.6h0.75M283.3 267.8h0.75M295.6 261.1h0.75M298.9 268.4h0.75M300.6 267.4h0.75M305.7 264.8h0.75M299.3 267.7h0.75M301.1 263.4h0.75M298.6 261.0h0.75M291.1 259.4h0.75M281.5 263.2h0.75M302.2 268.9h0.75M295.3 268.6h0.75M296.9 264.9h0.75M307.3 263.4h0.75M304.4 267.1h0.75M297.0 268.2h0.75M304.1 271.8h0.75M299.7 269.3h0.75M298.4 262.6h0.75M299.2 261.2h0.75M295.6 258.8h0.75M299.7 269.9h0.75M299.6 269.7h0.75M296.1 253.9h0.75M298.9 267.6h0.75M297.9 259.9h0.75M295.0 256.4h0.75M307.3 269.2h0.75M301.3 268.5h0.75M293.9 256.9h0.75M305.2 260.7h0.75M296.2 262.0h0.75M300.4 273.4h0.75M304.6 264.7h0.75M289.4 269.4h0.75M292.6 267.6h0.75M300.3 262.1h0.75M292.3 257.2h0.75M298.5 257.2h0.75M285.4 269.1h0.75M292.0 268.9h0.75M304.0 248.0h0.75M309.9 268.9h0.75M291.0 260.7h0.75M304.8 268.1h0.75M292.5 269.2h0.75M296.2 263.3h0.75M298.5 261.2h0.75M302.6 260.2h0.75M295.8 269.4h0.75M297.4 262.8h0.75M300.2 258.5h0.75M307.6 264.4h0.75M306.4 269.4h0.75M299.5 260.1h0.75M299.3 260.5h0.75M291.3 266.8h0.75M288.4 269.7h0.75M290.3 268.8h0.75M299.9 254.0h0.75M300.2 270.4h0.75M289.6 269.4h0.75M299.2 270.7h0.75M293.8 263.1h0.75M304.7 266.4h0.75M294.2 252.4h0.75M295.9 264.6h0.75M299.0 269.9h0.75M307.2 259.3h0.75M293.3 267.7h0.75M290.7 269.0h0.75M299.5 268.9h0.75M290.7 266.2h0.75M304.8 259.1h0.75M291.0 263.0h0.75M292.1 274.5h0.75M304.5 260.9h0.75M290.4 255.7h0.75M305.0 262.4h0.75M291.1 267.5h0.75M297.6 267.5h0.75M296.0 264.3h0.75M307.9 267.3h0.75M294.6 265.0h0.75M295.0 269.3h0.75M296.0 261.0h0.75M295.0 269.8h0.75M307.0 254.0h0.75M295.0 268.9h0.75M308.7 262.2h0.75M301.4 261.7h0.75M297.9 265.0h0.75M291.0 255.4h0.75M294.3 264.4h0.75M302.6 268.9h0.75M293.6 260.8h0.75M293.3 271.4h0.75M297.6 269.6h0.75M294.1 259.8h0.75M300.7 267.9h0.75M297.9 268.5h0.75M302.6 267.7h0.75M289.0 264.0h0.75M299.2 268.9h0.75M285.5 266.4h0.75M301.8 268.5h0.75M297.6 261.7h0.75M292.3 268.7h0.75M303.8 255.1h0.75M305.4 256.9h0.75M308.6 259.6h0.75M302.3 268.8h0.75M287.0 268.8h0.75M306.8 269.2h0.75M293.5 268.3h0.75M296.8 271.0h0.75M302.3 262.5h0.75M298.1 270.5h0.75M299.8 258.2h0.75M292.2 268.2h0.75M300.2 269.4h0.75M296.0 261.2h0.75M303.3 269.0h0.75M304.7 268.8h0.75M305.4 258.8h0.75M297.0 257.0h0.75M281.3 258.8h0.75M301.3 268.6h0.75M300.6 256.2h0.75M291.7 261.1h0.75M295.4 268.6h0.75M297.9 267.7h0.75M296.0 259.8h0.75M298.5 269.8h0.75M296.1 266.6h0.75M296.0 269.1h0.75M293.4 265.6h0.75M302.7 264.5h0.75M297.5 265.8h0.75M295.1 260.6h0.75M301.3 267.1h0.75M296.7 252.3h0.75M301.2 261.7h0.75M300.7 268.4h0.75M293.9 267.7h0.75M304.4 266.8h0.75M306.0 267.9h0.75M303.7 255.9h0.75M299.4 268.8h0.75M308.5 268.5h0.75M292.7 268.1h0.75M292.2 255.8h0.75M294.5 267.2h0.75M292.6 265.6h0.75M292.7 257.1h0.75M291.5 268.4h0.75M295.0 260.2h0.75M287.2 269.6h0.75M293.4 263.8h0.75M303.7 252.3h0.75M301.1 270.3h0.75M298.2 262.0h0.75M306.4 263.0h0.75M299.8 260.9h0.75M298.6 266.3h0.75M297.1 270.7h0.75M292.5 256.7h0.75M296.3 261.1h0.75M298.5 269.9h0.75M300.8 254.6h0.75M299.4 275.8h0.75M298.0 269.9h0.75M298.3 272.4h0.75M294.3 259.1h0.75M294.6 264.5h0.75M295.0 268.7h0.75M307.2 266.2h0.75M298.4 269.5h0.75M303.0 269.8h0.75M303.5 269.4h0.75M299.2 271.2h0.75M297.2 255.8h0.75M292.9 269.7h0.75M290.3 267.2h0.75M295.0 266.2h0.75M293.5 267.7h0.75M301.2 251.8h0.75M295.7 266.2h0.75M301.4 269.3h0.75M293.9 270.8h0.75M297.1 265.7h0.75M292.0 273.2h0.75M295.3 270.8h0.75M308.7 270.9h0.75M295.5 270.5h0.75M297.3 262.1h0.75M303.2 269.4h0.75M300.3 271.2h0.75M291.6 267.5h0.75M302.7 257.9h0.75M298.4 258.6h0.75M295.4 267.8h0.75M292.6 272.0h0.75M300.3 255.6h0.75M293.4 271.2h0.75M299.0 260.6h0.75M287.2 255.2h0.75M296.2 269.1h0.75M292.4 259.6h0.75M295.9 256.0h0.75M296.8 268.3h0.75M305.6 261.2h0.75M297.0 260.4h0.75M291.8 263.6h0.75M304.8 269.5h0.75M298.6 269.4h0.75M304.3 265.2h0.75M299.5 257.4h0.75M298.0 260.7h0.75M298.4 269.3h0.75M290.3 262.1h0.75M287.1 257.4h0.75M289.4 255.6h0.75M294.3 271.3h0.75M302.4 270.7h0.75M309.6 267.4h0.75M304.1 260.4h0.75M301.9 262.4h0.75M295.8 267.5h0.75M309.0 267.7h0.75M305.9 259.5h0.75M298.9 262.5h0.75" stroke="#000" stroke-width="0.75" fill="none" stroke-opacity="0.38"/>
<path d="M298.5 261.9h0.75M301.4 259.3h0.75M292.7 251.8h0.75M308.3 265.2h0.75M292.6 269.3h0.75M289.3 253.5h0.75M297.8 256.9h0.75M296.0 266.9h0.75M309.4 270.1h0.75M294.0 268.8h0.75M293.6 260.3h0.75M302.6 262.0h0.75M302.5 260.8h0.75M290.5 265.0h0.75M303.9 269.3h0.75M302.4 267.8h0.75M293.2 259.4h0.75M291.8 255.1h0.75M302.9 265.3h0.75M291.3 267.1h0.75M291.5 257.4h0.75M299.1 267.5h0.75M304.5 262.3h0.75M295.5 264.5h0.75M295.8 261.4h0.75M299.1 270.9h0.75M303.5 262.6h0.75M300.0 268.5h0.75M301.4 269.1h0.75M289.1 268.6h0.75M295.5 259.0h0.75M298.5 267.3h0.75M301.2 254.2h0.75M295.4 270.8h0.75M295.4 267.0h0.75M304.6 267.1h0.75M298.1 258.5h0.75M297.3 262.1h0.75M304.1 259.6h0.75M288.6 263.8h0.75M299.1 263.8h0.75M300.1 269.0h0.75M285.8 270.2h0.75M301.0 259.5h0.75M285.8 265.3h0.75M304.1 270.7h0.75M289.6 267.2h0.75M298.9 260.3h0.75M297.4 261.2h0.75M296.1 265.3h0.75M302.2 259.3h0.75M295.8 269.1h0.75M295.2 262.1h0.75M308.5 271.3h0.75M299.2 262.5h0.75M295.5 261.9h0.75M304.9 259.9h0.75M297.8 262.4h0.75M303.5 265.9h0.75M298.2 261.4h0.75M300.2 268.0h0.75M295.8 267.2h0.75M302.1 265.6h0.75M306.6 260.3h0.75M297.4 268.6h0.75M291.7 251.4h0.75M295.2 248.4h0.75M299.1 267.0h0.75M305.2 270.0h0.75M296.4 256.4h0.75M301.4 265.7h0.75M301.5 259.8h0.75M303.7 249.6h0.75M288.5 270.5h0.75M301.6 261.3h0.75M292.5 270.3h0.75M288.2 275.8h0.75M304.7 267.3h0.75M295.2 267.9h0.75M293.7 255.2h0.75M296.1 255.5h0.75M296.0 264.3h0.75M299.7 263.6h0.75M298.1 269.0h0.75M295.0 254.8h0.75M308.0 264.3h0.75M302.8 271.7h0.75M294.7 261.2h0.75M283.6 256.5h0.75M294.1 271.1h0.75M301.0 258.7h0.75M302.0 258.3h0.75M295.7 259.7h0.75M297.1 268.6h0.75M290.8 263.9h0.75M304.3 264.0h0.75M293.7 268.0h0.75M294.8 263.5h0.75M302.0 270.3h0.75M308.8 270.1h0.75M298.6 260.2h0.75M300.7 265.2h0.75M290.3 266.9h0.75M290.3 254.9h0.75M298.9 270.4h0.75M304.1 264.4h0.75M290.4 267.0h0.75M293.1 266.8h0.75M291.2 260.4h0.75M298.8 267.8h0.75M294.4 270.1h0.75M295.4 259.9h0.75M297.1 256.3h0.75M297.4 261.5h0.75M298.8 268.2h0.75M302.9 263.3h0.75M294.9 265.8h0.75M296.3 251.1h0.75M300.2 265.3h0.75M301.9 258.3h0.75M296.1 268.8h0.75M293.4 250.6h0.75M281.6 266.0h0.75M284.5 269.2h0.75M299.7 256.9h0.75M295.5 259.0h0.75M296.5 265.8h0.75M297.0 257.2h0.75M306.9 262.7h0.75M309.8 269.2h0.75M298.1 257.8h0.75M294.6 269.0h0.75M297.0 258.4h0.75M294.7 259.4h0.75M297.7 269.4h0.75M305.3 270.7h0.75M294.6 259.7h0.75M299.7 262.0h0.75M295.0 253.9h0.75M299.7 265.9h0.75M294.6 260.2h0.75M304.9 267.0h0.75M299.2 268.5h0.75M295.0 258.9h0.75M299.4 261.7h0.75M301.1 270.3h0.75M295.4 267.7h0.75M297.5 269.1h0.75M295.8 254.4h0.75M298.1 269.2h0.75M299.6 269.3h0.75M290.9 268.9h0.75M298.0 263.7h0.75M291.2 256.7h0.75M288.0 266.5h0.75M302.7 268.1h0.75M289.1 260.4h0.75M296.6 255.8h0.75M290.5 263.0h0.75M294.1 256.7h0.75M297.0 270.6h0.75M285.3 261.9h0.75M294.6 268.9h0.75M298.1 263.2h0.75M298.5 266.7h0.75M298.9 262.6h0.75M296.9 260.8h0.75M304.4 264.3h0.75M291.0 264.6h0.75M286.8 266.8h0.75M297.1 263.8h0.75M294.2 266.6h0.75M294.6 268.6h0.75M294.2 262.9h0.75M298.3 265.4h0.75M298.7 262.6h0.75M296.5 269.1h0.75M309.5 267.6h0.75M293.6 266.6h0.75M296.8 259.4h0.75M297.0 255.4h0.75M291.9 268.1h0.75M294.4 256.4h0.75M297.0 269.0h0.75M291.4 273.2h0.75M296.0 267.0h0.75M305.2 270.3h0.75M310.4 267.0h0.75M301.9 246.1h0.75M303.4 259.1h0.75M300.9 265.6h0.75M305.5 269.5h0.75M294.3 253.2h0.75M306.7 267.6h0.75M298.9 267.0h0.75M301.8 257.9h0.75M304.9 267.5h0.75M302.0 262.5h0.75M310.1 270.0h0.75M309.0 254.3h0.75M305.3 264.8h0.75M294.2 260.1h0.75M299.7 271.2h0.75M300.1 271.8h0.75M303.0 268.2h0.75M294.9 267.1h0.75M293.8 258.7h0.75M287.3 271.2h0.75M301.3 262.9h0.75M294.1 269.3h0.75M292.7 255.3h0.75M284.3 257.1h0.75M302.4 258.0h0.75M288.0 271.6h0.75M285.5 269.9h0.75M290.2 269.2h0.75M300.6 263.6h0.75M310.4 268.6h0.75M290.4 254.0h0.75M294.9 265.1h0.75M297.7 266.7h0.75M294.5 261.0h0.75M296.8 267.0h0.75M299.6 267.2h0.75M299.8 265.5h0.75M296.7 265.4h0.75M302.6 268.6h0.75M297.2 270.2h0.75M299.8 268.8h0.75M293.2 256.2h0.75M296.7 268.6h0.75M298.2 261.6h0.75M298.2 268.2h0.75M287.0 268.7h0.75M300.8 262.9h0.75M291.6 256.5h0.75M300.6 270.1h0.75M300.8 266.2h0.75M302.7 268.6h0.75M303.2 269.8h0.75M287.1 273.5h0.75M293.3 266.3h0.75M298.5 268.9h0.75M302.5 269.5h0.75M307.3 260.3h0.75M298.9 256.2h0.75M297.4 254.6h0.75M297.6 268.0h0.75M309.3 271.0h0.75M310.2 269.7h0.75M306.8 269.3h0.75M308.1 268.7h0.75M286.3 256.1h0.75M297.5 247.4h0.75M293.5 251.2h0.75M293.0 269.5h0.75M305.7 267.9h0.75M297.6 269.4h0.75M304.0 267.1h0.75M300.6 268.6h0.75M299.3 258.5h0.75M289.5 260.3h0.75M296.2 257.9h0.75M310.3 269.6h0.75M291.3 267.8h0.75M294.0 263.3h0.75M300.9 272.8h0.75M296.4 260.3h0.75M292.8 266.5h0.75M307.1 267.9h0.75M295.3 260.9h0.75M295.3 249.5h0.75M301.7 268.7h0.75M306.5 265.0h0.75M305.2 265.5h0.75M289.6 267.8h0.75M301.5 268.7h0.75M284.1 265.6h0.75M287.1 265.9h0.75M300.6 269.7h0.75M303.0 268.1h0.75M306.9 255.5h0.75M290.8 256.0h0.75M289.9 254.5h0.75M299.3 270.0h0.75M307.5 255.8h0.75M296.4 258.5h0.75M301.6 268.2h0.75M298.8 258.0h0.75M299.0 257.9h0.75M297.4 254.9h0.75M301.5 264.2h0.75M293.2 261.9h0.75M299.7 261.5h0.75M306.9 265.5h0.75M295.9 266.2h0.75M305.9 253.5h0.75M303.0 268.6h0.75M297.5 269.1h0.75M287.9 265.4h0.75M300.5 259.0h0.75M291.0 259.6h0.75M303.2 258.8h0.75M295.1 269.9h0.75M292.3 272.4h0.75M305.0 268.1h0.75M304.7 266.1h0.75M293.7 262.0h0.75M304.9 269.5h0.75M305.6 266.7h0.75M297.6 257.5h0.75M298.7 257.3h0.75M299.5 268.1h0.75M301.7 261.2h0.75M292.9 268.7h0.75M294.4 258.7h0.75M303.5 252.1h0.75M293.8 251.3h0.75M300.4 269.4h0.75M294.2 252.9h0.75M294.1 267.0h0.75M293.1 255.6h0.75M281.1 263.6h0.75M298.3 261.0h0.75M291.4 255.7h0.75M297.9 263.2h0.75M284.4 270.9h0.75M300.9 259.1h0.75M303.3 263.1h0.75M295.7 259.9h0.75M305.2 268.4h0.75M300.6 269.2h0.75M300.8 269.9h0.75M295.8 270.2h0.75M291.2 271.9h0.75M303.2 256.5h0.75M295.9 259.2h0.75M294.0 269.7h0.75M303.6 263.4h0.75M295.1 249.6h0.75M296.1 267.3h0.75M293.7 262.5h0.75" stroke="#000" stroke-width="0.75" fill="none" stroke-opacity="0.38"/>
<ellipse cx="299.0" cy="269.3" rx="10.5" ry="1.6" transform="rotate(0 299.0 269.3)" fill="#000" fill-opacity="0.4" filter="url(#bl7)"/>
<ellipse cx="297.5" cy="265.5" rx="7.5" ry="4.0" transform="rotate(0 297.5 265.5)" fill="#000" fill-opacity="0.5" filter="url(#bl13)"/>
<ellipse cx="296.5" cy="258.5" rx="4.5" ry="4.0" transform="rotate(0 296.5 258.5)" fill="#000" fill-opacity="0.15" filter="url(#bl13)"/>
<ellipse cx="266.0" cy="268.5" rx="2.2" ry="2.8" transform="rotate(0 266.0 268.5)" fill="#000" fill-opacity="0.15" filter="url(#bl8)"/>
<rect x="258.4" y="260.4" width="15.0" height="16.5" fill="none" stroke="#111" stroke-width="1.3"/>
<text x="266.6" y="285.6" font-size="6.8" fill="#333" text-anchor="middle">1.7</text>
<rect x="264.2" y="292.3" width="4" height="1.6" fill="#222"/>
<rect x="246.2" y="268.2" width="1.8" height="3.6" fill="#222"/>
<rect x="341.5" y="230.7" width="64.89999999999998" height="62.400000000000034" fill="none" stroke="#b5b5b5" stroke-width="0.9"/>
<line x1="341.5" y1="230.7" x2="341.5" y2="293.1" stroke="#8a8a8a" stroke-width="1"/>
<line x1="341.5" y1="293.1" x2="406.4" y2="293.1" stroke="#8a8a8a" stroke-width="1"/>
<line x1="339.7" y1="231.7" x2="341.5" y2="231.7" stroke="#777" stroke-width="0.8"/>
<text x="336.6" y="233.7" font-size="6.4" fill="#333" text-anchor="end">10<tspan font-size="3.8" dy="-2.8">5</tspan></text>
<line x1="339.7" y1="251.1" x2="341.5" y2="251.1" stroke="#777" stroke-width="0.8"/>
<text x="336.6" y="253.1" font-size="6.4" fill="#333" text-anchor="end">10<tspan font-size="3.8" dy="-2.8">4</tspan></text>
<line x1="339.7" y1="269.9" x2="341.5" y2="269.9" stroke="#777" stroke-width="0.8"/>
<text x="336.6" y="271.9" font-size="6.4" fill="#333" text-anchor="end">0</text>
<line x1="339.7" y1="288.59999999999997" x2="341.5" y2="288.59999999999997" stroke="#777" stroke-width="0.8"/>
<text x="336.6" y="290.6" font-size="6.4" fill="#333" text-anchor="end">-10<tspan font-size="3.8" dy="-2.8">4</tspan></text>
<line x1="345.9" y1="293.1" x2="345.9" y2="294.90000000000003" stroke="#777" stroke-width="0.8"/>
<text x="345.9" y="302.7" font-size="6.4" fill="#333" text-anchor="middle">-10<tspan font-size="3.8" dy="-2.8">4</tspan></text>
<line x1="360.8" y1="293.1" x2="360.8" y2="294.90000000000003" stroke="#777" stroke-width="0.8"/>
<text x="360.8" y="302.7" font-size="6.4" fill="#333" text-anchor="middle">0</text>
<line x1="376.2" y1="293.1" x2="376.2" y2="294.90000000000003" stroke="#777" stroke-width="0.8"/>
<text x="376.2" y="302.7" font-size="6.4" fill="#333" text-anchor="middle">10<tspan font-size="3.8" dy="-2.8">4</tspan></text>
<line x1="392.5" y1="293.1" x2="392.5" y2="294.90000000000003" stroke="#777" stroke-width="0.8"/>
<text x="392.5" y="302.7" font-size="6.4" fill="#333" text-anchor="middle">10<tspan font-size="3.8" dy="-2.8">5</tspan></text>
<line x1="405.9" y1="293.1" x2="405.9" y2="294.90000000000003" stroke="#777" stroke-width="0.8"/>
<text x="405.9" y="302.7" font-size="6.4" fill="#333" text-anchor="middle">10<tspan font-size="3.8" dy="-2.8">6</tspan></text>
<text x="359.0" y="225.6" font-size="8.6" fill="#222" textLength="27.4" lengthAdjust="spacingAndGlyphs">Week 1</text>
<path d="M363.7 235.8h0.7M362.5 251.7h0.7M361.6 269.2h0.7M364.7 277.7h0.7M387.3 254.6h0.7M377.3 262.9h0.7M370.7 265.8h0.7M376.2 260.8h0.7M389.1 274.0h0.7M363.7 249.1h0.7M386.6 257.1h0.7M353.3 247.7h0.7M387.8 260.0h0.7M391.8 256.7h0.7M384.4 259.6h0.7M380.3 254.4h0.7M383.5 245.9h0.7M379.1 258.1h0.7M397.6 262.7h0.7M369.3 255.8h0.7M374.5 253.8h0.7M362.0 261.4h0.7M361.1 274.7h0.7M377.8 253.6h0.7M392.7 267.2h0.7M385.0 266.5h0.7M375.5 255.1h0.7M391.9 247.3h0.7M381.7 259.3h0.7M382.7 261.5h0.7M371.0 260.8h0.7M393.9 263.3h0.7M363.3 241.2h0.7M393.0 268.1h0.7M396.7 264.4h0.7M394.8 263.0h0.7M362.2 251.2h0.7M369.4 254.9h0.7M362.6 267.0h0.7M374.3 255.5h0.7M389.5 255.5h0.7M360.8 254.3h0.7M381.5 266.4h0.7M359.8 236.5h0.7M389.4 257.2h0.7M368.9 263.6h0.7M395.4 268.7h0.7M380.5 249.0h0.7M355.1 247.4h0.7M391.8 259.1h0.7M385.8 263.6h0.7M372.9 256.3h0.7M379.6 256.7h0.7M382.3 243.1h0.7M386.3 263.2h0.7M397.2 260.2h0.7M384.7 251.4h0.7M381.5 260.8h0.7M393.6 256.3h0.7M379.9 252.5h0.7M385.4 246.3h0.7M398.8 258.5h0.7M375.9 270.4h0.7M403.7 266.7h0.7M389.0 269.4h0.7M368.0 250.4h0.7M383.3 262.1h0.7M362.8 237.5h0.7M380.0 251.1h0.7M375.4 249.5h0.7M382.3 260.7h0.7M386.4 258.6h0.7M363.9 251.8h0.7M362.4 257.5h0.7M381.4 252.2h0.7M374.9 261.9h0.7M389.3 246.8h0.7M394.1 260.1h0.7M370.2 254.7h0.7M387.8 252.3h0.7M363.7 254.4h0.7M395.6 255.8h0.7M388.8 262.2h0.7M360.9 252.4h0.7M384.9 260.3h0.7M390.4 261.5h0.7M381.5 246.3h0.7M395.6 246.0h0.7M388.6 269.5h0.7M369.9 251.4h0.7M387.5 263.9h0.7M374.4 247.0h0.7M374.9 264.5h0.7M378.7 257.0h0.7M368.5 239.5h0.7M378.4 268.8h0.7M369.2 264.8h0.7M384.8 258.1h0.7M366.3 274.5h0.7M376.3 257.1h0.7M386.3 248.5h0.7M386.4 248.3h0.7M368.0 260.8h0.7M383.2 264.7h0.7M370.1 254.9h0.7M391.5 258.1h0.7M382.3 247.0h0.7M385.2 269.2h0.7M367.7 274.7h0.7M360.6 239.7h0.7M376.7 260.3h0.7M395.6 270.7h0.7M386.3 260.5h0.7M374.4 250.9h0.7M369.5 262.4h0.7M389.2 271.7h0.7M374.2 258.4h0.7M376.4 270.4h0.7M374.8 265.5h0.7M360.1 233.9h0.7M388.3 261.6h0.7M384.7 259.2h0.7M387.8 252.5h0.7M389.9 248.6h0.7M381.7 251.7h0.7M368.4 274.2h0.7M392.6 264.4h0.7M354.5 253.5h0.7M365.3 233.1h0.7M397.4 265.2h0.7M364.9 262.6h0.7M387.3 259.6h0.7M391.7 267.5h0.7M375.6 259.0h0.7M361.1 275.2h0.7M363.3 275.4h0.7M367.8 249.2h0.7M397.6 275.1h0.7M372.3 244.2h0.7M395.1 263.8h0.7M388.4 265.4h0.7M389.4 273.3h0.7M383.3 262.3h0.7M365.8 237.5h0.7M375.6 262.5h0.7M384.6 253.9h0.7M388.3 263.9h0.7M384.1 268.6h0.7M388.6 268.4h0.7M362.2 232.1h0.7M383.2 266.9h0.7M377.1 271.6h0.7M392.4 259.7h0.7M374.6 250.5h0.7M394.5 254.2h0.7M377.4 265.8h0.7M376.4 254.6h0.7M361.6 246.7h0.7M389.0 268.7h0.7M361.0 247.3h0.7M362.9 272.5h0.7M404.2 264.4h0.7M384.4 247.6h0.7M398.8 259.4h0.7M386.3 260.0h0.7M375.6 259.4h0.7M382.8 261.1h0.7M387.0 268.6h0.7M376.3 246.4h0.7M373.5 260.8h0.7M393.8 266.5h0.7M372.1 253.8h0.7M393.8 257.9h0.7M378.1 249.4h0.7M377.4 259.0h0.7M368.5 235.5h0.7M367.2 238.6h0.7M372.0 266.7h0.7M374.3 261.8h0.7M368.9 254.5h0.7M376.7 257.8h0.7M392.5 256.8h0.7M361.8 239.0h0.7M399.8 262.8h0.7M397.2 267.2h0.7M395.7 264.6h0.7M362.8 238.6h0.7M362.3 247.5h0.7M377.1 260.1h0.7M362.1 242.4h0.7M391.3 268.0h0.7M401.4 254.2h0.7M390.3 261.6h0.7M380.8 255.9h0.7M390.5 265.0h0.7M379.0 247.0h0.7M390.0 262.8h0.7M389.4 266.5h0.7M383.5 262.2h0.7M399.4 268.4h0.7M392.1 263.6h0.7M364.2 271.8h0.7M383.4 267.0h0.7M380.8 268.6h0.7M380.3 257.9h0.7M378.3 261.8h0.7M388.8 259.3h0.7M393.7 267.0h0.7M386.3 257.3h0.7M371.6 249.8h0.7M372.7 261.3h0.7M364.0 232.9h0.7M385.4 253.9h0.7M367.3 260.4h0.7M390.6 260.4h0.7M392.5 250.7h0.7M359.2 237.3h0.7M380.8 250.6h0.7M390.0 262.4h0.7M365.2 233.3h0.7M371.7 256.5h0.7M384.3 257.1h0.7M368.2 261.6h0.7M403.5 260.7h0.7M376.2 254.4h0.7M363.3 236.2h0.7M386.9 245.8h0.7M404.7 252.6h0.7M389.7 267.1h0.7M390.1 247.5h0.7M389.6 271.5h0.7M357.4 242.0h0.7M387.8 267.4h0.7M376.9 246.1h0.7M362.4 247.1h0.7M390.5 260.9h0.7M364.6 276.5h0.7M372.9 244.0h0.7M384.0 257.7h0.7M364.1 255.4h0.7M397.1 259.5h0.7M387.9 257.6h0.7M365.0 259.3h0.7M396.7 262.8h0.7M398.3 263.7h0.7M371.8 276.8h0.7M363.8 253.5h0.7M376.2 268.2h0.7M360.9 240.3h0.7M392.3 259.4h0.7M382.8 256.8h0.7M384.7 260.4h0.7M381.5 259.1h0.7M361.4 237.3h0.7M395.4 261.6h0.7M369.9 249.9h0.7M360.3 235.9h0.7M377.2 262.9h0.7M400.0 251.5h0.7M390.0 256.9h0.7M358.7 272.2h0.7M380.4 260.5h0.7M378.5 263.4h0.7M378.4 253.7h0.7M389.6 257.2h0.7M396.2 266.7h0.7M366.8 255.4h0.7M391.0 258.3h0.7M390.4 258.2h0.7M373.3 250.4h0.7M362.9 238.4h0.7M398.3 261.1h0.7M382.2 261.8h0.7M398.5 249.9h0.7M370.1 253.3h0.7M378.4 258.0h0.7M377.0 249.4h0.7M386.5 269.3h0.7M377.6 271.1h0.7M368.7 240.9h0.7M378.8 257.2h0.7M358.8 262.3h0.7M395.2 257.9h0.7M382.8 257.0h0.7M400.9 255.6h0.7M391.2 262.5h0.7M359.9 241.1h0.7M358.7 273.5h0.7M388.6 258.8h0.7M379.2 257.4h0.7M366.7 275.2h0.7M366.4 252.7h0.7M390.9 267.5h0.7M374.5 264.5h0.7M391.6 260.5h0.7M371.9 268.8h0.7M365.1 244.4h0.7M364.0 274.5h0.7M383.4 268.7h0.7M370.1 253.4h0.7M387.2 259.8h0.7M379.3 260.7h0.7M390.1 259.0h0.7M369.5 240.4h0.7M361.2 257.9h0.7M380.1 251.4h0.7M362.0 272.5h0.7M369.4 253.7h0.7M375.9 238.4h0.7M382.5 263.8h0.7M390.8 251.2h0.7M376.4 249.7h0.7M366.1 255.2h0.7M366.6 256.2h0.7M362.9 241.1h0.7M383.4 257.1h0.7M380.8 253.0h0.7M390.9 262.3h0.7M369.9 272.0h0.7M360.0 251.2h0.7M358.9 266.8h0.7M371.9 255.1h0.7M368.7 252.7h0.7M389.1 269.0h0.7M387.4 252.4h0.7M392.6 264.5h0.7M375.6 252.8h0.7M388.5 253.8h0.7M394.2 265.2h0.7M384.1 263.2h0.7M364.2 257.1h0.7M393.3 263.7h0.7M377.2 247.4h0.7M383.4 250.2h0.7M370.9 252.7h0.7M373.3 255.5h0.7M388.7 256.4h0.7M385.6 261.2h0.7M369.8 261.4h0.7M387.5 255.3h0.7M367.0 256.4h0.7M389.4 257.1h0.7M369.1 266.4h0.7M380.3 267.2h0.7M392.7 263.0h0.7M383.4 259.1h0.7M388.5 240.1h0.7M364.8 274.0h0.7M389.2 252.0h0.7M372.1 268.5h0.7M375.6 255.1h0.7M379.8 265.7h0.7M382.0 248.8h0.7M372.3 248.8h0.7M375.9 251.3h0.7M365.7 244.8h0.7M389.8 258.8h0.7M383.3 261.2h0.7M389.1 262.7h0.7M383.4 257.2h0.7M398.6 254.5h0.7M365.3 235.5h0.7M370.0 275.1h0.7M382.2 261.5h0.7M404.3 266.9h0.7M385.9 264.4h0.7M373.0 255.4h0.7M391.2 266.8h0.7M384.3 262.6h0.7M375.2 257.8h0.7M383.7 251.8h0.7M386.6 256.4h0.7M362.3 235.7h0.7M373.6 269.2h0.7" stroke="#000" stroke-width="0.7" fill="none" stroke-opacity="0.3"/>
<path d="M370.1 269.1h0.7M379.4 262.0h0.7M373.1 256.1h0.7M371.9 273.8h0.7M391.9 254.5h0.7M358.9 263.6h0.7M379.4 248.2h0.7M362.9 271.7h0.7M389.1 254.4h0.7M374.1 259.1h0.7M359.1 252.4h0.7M365.5 238.3h0.7M385.4 263.8h0.7M396.8 259.9h0.7M375.1 263.9h0.7M368.2 271.2h0.7M355.5 236.9h0.7M371.1 255.9h0.7M365.8 255.1h0.7M384.2 253.7h0.7M361.8 244.1h0.7M374.3 257.6h0.7M388.0 262.6h0.7M354.3 250.7h0.7M386.2 253.1h0.7M385.0 257.1h0.7M366.5 273.6h0.7M362.5 256.1h0.7M402.8 251.9h0.7M390.3 255.8h0.7M378.5 255.3h0.7M395.9 268.3h0.7M389.1 272.7h0.7M390.7 258.6h0.7M382.5 242.3h0.7M356.2 237.0h0.7M380.0 259.5h0.7M383.1 257.8h0.7M377.5 264.4h0.7M387.6 264.3h0.7M397.2 262.5h0.7M386.5 266.3h0.7M383.0 256.4h0.7M380.0 253.3h0.7M386.7 258.3h0.7M358.3 265.2h0.7M386.2 255.3h0.7M395.8 259.9h0.7M386.2 265.6h0.7M398.9 269.1h0.7M364.9 262.8h0.7M393.1 262.9h0.7M363.3 273.3h0.7M375.6 261.1h0.7M380.7 253.7h0.7M378.6 258.6h0.7M374.5 256.3h0.7M387.0 258.8h0.7M364.8 242.6h0.7M394.8 240.7h0.7M373.1 252.5h0.7M362.3 238.2h0.7M365.3 249.2h0.7M362.3 235.9h0.7M385.9 256.7h0.7M357.1 243.0h0.7M390.5 259.0h0.7M375.0 264.7h0.7M392.4 262.7h0.7M364.1 275.3h0.7M388.9 261.9h0.7M395.3 258.9h0.7M365.0 248.0h0.7M388.7 268.1h0.7M379.0 252.3h0.7M379.6 249.7h0.7M375.7 253.1h0.7M387.9 260.7h0.7M369.0 233.7h0.7M385.2 265.9h0.7M382.4 259.3h0.7M369.3 258.2h0.7M385.9 252.9h0.7M393.9 256.7h0.7M366.2 243.6h0.7M382.4 246.8h0.7M351.0 254.9h0.7M377.4 251.6h0.7M381.7 262.7h0.7M400.5 265.5h0.7M377.2 270.0h0.7M388.7 260.6h0.7M401.1 259.8h0.7M388.7 268.7h0.7M362.8 235.9h0.7M360.3 244.0h0.7M373.1 249.6h0.7M383.5 249.6h0.7M361.6 236.8h0.7M358.2 241.7h0.7M388.5 263.5h0.7M378.9 264.8h0.7M391.3 259.3h0.7M376.3 257.0h0.7M380.4 257.1h0.7M374.4 255.3h0.7M393.5 263.6h0.7M382.4 261.3h0.7M378.7 260.7h0.7M383.0 256.3h0.7M383.5 256.2h0.7M358.4 234.5h0.7M369.1 258.0h0.7M362.0 256.8h0.7M380.8 265.3h0.7M385.7 263.0h0.7M393.4 266.1h0.7M381.0 250.1h0.7M361.0 245.1h0.7M385.4 249.0h0.7M383.0 258.4h0.7M385.8 259.9h0.7M363.0 273.9h0.7M375.2 260.4h0.7M390.0 263.3h0.7M364.7 248.1h0.7M388.9 262.2h0.7M384.1 260.1h0.7M380.3 253.9h0.7M387.7 267.9h0.7M393.8 246.0h0.7M381.1 268.3h0.7M382.4 255.8h0.7M390.4 268.5h0.7M389.3 257.8h0.7M374.0 262.7h0.7M364.0 258.7h0.7M372.6 261.9h0.7M362.2 254.8h0.7M395.5 267.2h0.7M369.6 273.4h0.7M392.5 267.1h0.7M364.0 236.9h0.7M385.1 269.3h0.7M361.7 233.8h0.7M394.9 258.1h0.7M391.7 252.5h0.7M388.5 260.4h0.7M381.6 263.0h0.7M391.1 263.3h0.7M394.5 261.7h0.7M374.3 263.0h0.7M399.8 263.9h0.7M377.4 262.1h0.7M390.9 269.4h0.7M365.9 250.2h0.7M385.4 253.5h0.7M390.2 258.0h0.7M368.9 250.1h0.7M393.2 266.6h0.7M372.8 270.6h0.7M380.2 249.0h0.7M364.7 250.7h0.7M380.9 263.6h0.7M361.5 244.1h0.7M355.7 239.5h0.7M379.0 250.2h0.7M368.2 261.4h0.7M367.2 250.4h0.7M375.9 272.6h0.7M382.0 256.1h0.7M378.3 256.9h0.7M394.7 264.1h0.7M381.4 245.4h0.7M363.8 231.3h0.7M366.9 258.5h0.7M381.8 267.1h0.7M384.7 266.7h0.7M383.5 255.0h0.7M380.8 254.7h0.7M363.9 251.2h0.7M367.6 274.2h0.7M381.4 246.7h0.7M364.9 273.3h0.7M363.6 272.2h0.7M392.4 261.4h0.7M364.0 255.7h0.7M371.1 264.1h0.7M380.8 263.9h0.7M374.1 245.9h0.7M386.8 262.9h0.7M383.4 250.5h0.7M395.0 250.3h0.7M397.1 261.0h0.7M361.4 252.8h0.7M377.4 254.1h0.7M386.3 268.1h0.7M395.4 256.7h0.7M381.3 262.9h0.7M393.3 246.4h0.7M366.6 269.1h0.7M363.6 239.0h0.7M362.7 273.4h0.7M389.0 259.7h0.7M387.7 257.7h0.7M382.5 265.0h0.7M395.8 266.3h0.7M365.6 252.9h0.7M398.8 268.6h0.7M368.1 272.4h0.7M350.7 264.5h0.7M373.8 267.0h0.7M382.5 256.8h0.7M361.3 259.9h0.7M379.6 250.4h0.7M377.7 257.9h0.7M358.7 264.1h0.7M363.7 239.9h0.7M384.4 269.4h0.7M362.4 241.8h0.7M382.1 263.7h0.7M375.0 253.2h0.7M382.2 254.4h0.7M384.3 266.8h0.7M383.0 263.4h0.7M364.9 232.7h0.7M361.6 241.5h0.7M380.2 260.1h0.7M361.0 259.1h0.7M378.5 261.8h0.7M378.6 265.6h0.7M364.1 272.4h0.7M397.0 247.5h0.7M386.0 261.7h0.7M382.6 257.6h0.7M359.9 244.0h0.7M384.3 261.0h0.7M388.4 263.5h0.7M372.1 246.4h0.7M396.7 270.4h0.7M394.1 260.1h0.7M391.7 262.5h0.7M389.5 268.4h0.7M372.7 256.7h0.7M360.8 233.9h0.7M357.2 258.6h0.7M384.6 254.1h0.7M365.5 264.8h0.7M396.2 272.0h0.7M401.3 265.1h0.7M374.2 254.2h0.7M390.2 250.1h0.7M372.8 260.2h0.7M377.6 247.0h0.7M373.3 246.0h0.7M363.5 277.4h0.7M370.2 257.9h0.7M383.4 263.7h0.7M369.9 272.2h0.7M369.5 241.6h0.7M384.8 249.2h0.7M388.0 252.8h0.7M363.4 271.5h0.7M401.6 267.1h0.7M390.3 259.1h0.7M358.7 252.7h0.7M390.0 263.5h0.7M365.8 242.6h0.7M375.8 257.0h0.7M372.1 258.6h0.7M369.6 249.3h0.7M377.3 258.7h0.7M359.6 262.9h0.7M377.0 260.1h0.7M385.8 263.9h0.7M361.5 246.1h0.7M390.9 258.8h0.7M363.0 253.6h0.7M384.1 270.3h0.7M359.9 232.7h0.7M360.0 239.8h0.7M378.2 269.0h0.7M380.2 260.0h0.7M358.4 249.9h0.7M368.5 257.5h0.7M367.8 270.3h0.7M374.4 251.5h0.7M378.9 274.9h0.7M371.4 248.4h0.7M391.9 258.1h0.7M362.0 245.5h0.7M377.3 259.9h0.7M373.6 257.9h0.7M374.3 271.2h0.7M393.9 259.6h0.7M389.7 258.5h0.7M392.0 262.0h0.7M367.3 270.7h0.7M390.5 260.1h0.7M392.5 252.9h0.7M361.6 255.7h0.7M373.3 253.3h0.7M366.2 256.2h0.7M385.8 255.8h0.7M358.6 240.2h0.7M369.1 265.9h0.7M380.3 253.8h0.7M369.6 278.3h0.7M372.8 266.0h0.7M384.0 265.0h0.7M362.9 239.8h0.7M395.5 261.9h0.7M377.0 251.1h0.7M382.4 254.8h0.7M362.1 261.7h0.7M395.0 259.3h0.7M366.5 275.0h0.7M388.2 260.1h0.7M357.6 261.2h0.7M389.4 258.6h0.7M374.4 263.8h0.7M388.5 253.7h0.7M388.3 265.8h0.7M374.3 252.2h0.7M390.8 248.7h0.7M384.1 261.5h0.7M369.2 254.1h0.7M387.8 256.5h0.7M391.7 263.0h0.7M363.7 248.8h0.7M379.1 271.9h0.7M364.9 271.1h0.7M362.6 245.5h0.7M384.2 254.3h0.7M388.8 252.4h0.7M388.9 264.0h0.7M357.7 262.9h0.7M385.0 259.4h0.7M385.5 269.8h0.7M388.0 261.4h0.7M384.2 257.9h0.7M381.4 259.9h0.7M397.0 266.4h0.7M362.1 243.3h0.7M373.1 252.9h0.7M378.5 247.8h0.7M369.7 260.1h0.7M370.6 250.2h0.7M380.7 267.1h0.7M375.6 255.0h0.7M394.0 263.5h0.7M380.2 262.9h0.7M398.0 264.8h0.7M380.5 256.9h0.7M397.8 258.8h0.7M385.6 266.4h0.7M388.5 262.6h0.7M368.7 256.0h0.7M393.4 265.3h0.7M395.3 260.3h0.7M374.0 262.1h0.7M359.7 249.9h0.7M387.0 263.2h0.7M385.5 267.2h0.7M369.4 275.5h0.7M360.2 254.8h0.7M385.1 263.0h0.7M380.2 254.2h0.7M377.3 248.5h0.7M378.2 265.5h0.7M380.0 253.7h0.7M385.4 251.7h0.7M390.3 262.4h0.7" stroke="#000" stroke-width="0.7" fill="none" stroke-opacity="0.3"/>
<path d="M383.4 257.5h0.7M386.3 257.1h0.7M360.8 240.4h0.7M380.3 247.8h0.7M386.9 257.0h0.7M370.6 261.6h0.7M383.0 254.9h0.7M397.9 258.5h0.7M364.8 271.7h0.7M361.9 245.3h0.7M363.4 238.4h0.7M391.1 262.5h0.7M377.6 268.3h0.7M390.5 266.1h0.7M378.3 267.7h0.7M386.7 256.1h0.7M362.3 252.5h0.7M392.3 246.7h0.7M383.0 259.8h0.7M382.6 252.0h0.7M405.3 264.8h0.7M393.7 255.4h0.7M367.7 256.4h0.7M375.3 255.2h0.7M363.5 233.7h0.7M387.8 248.1h0.7M363.8 236.0h0.7M391.1 268.5h0.7M365.3 252.0h0.7M386.4 252.2h0.7M365.5 260.6h0.7M385.3 254.9h0.7M361.1 243.2h0.7M361.2 251.2h0.7M393.5 256.7h0.7M380.8 253.0h0.7M362.9 254.0h0.7M376.1 247.9h0.7M365.0 242.3h0.7M383.9 260.3h0.7M400.2 254.6h0.7M382.1 247.4h0.7M365.5 267.1h0.7M377.4 248.1h0.7M373.5 278.0h0.7M390.1 264.4h0.7M361.7 233.6h0.7M374.2 266.9h0.7M392.9 258.2h0.7M400.3 257.6h0.7M402.9 254.5h0.7M364.8 248.0h0.7M396.9 256.8h0.7M387.5 260.3h0.7M391.8 264.1h0.7M377.9 257.0h0.7M362.2 238.2h0.7M401.4 261.1h0.7M394.8 256.0h0.7M388.1 263.6h0.7M400.0 267.3h0.7M386.1 262.4h0.7M367.3 254.3h0.7M392.9 267.1h0.7M383.3 255.8h0.7M370.4 261.3h0.7M365.4 274.0h0.7M383.9 257.9h0.7M384.0 265.5h0.7M390.7 272.1h0.7M374.7 246.9h0.7M364.0 272.2h0.7M397.9 255.9h0.7M373.2 260.5h0.7M363.0 249.0h0.7M361.5 248.2h0.7M392.4 262.0h0.7M360.6 236.3h0.7M379.9 249.7h0.7M381.5 268.4h0.7M364.4 258.8h0.7M389.1 253.4h0.7M375.0 264.7h0.7M394.0 266.6h0.7M388.1 255.5h0.7M363.2 250.5h0.7M379.2 267.0h0.7M361.9 244.1h0.7M388.6 261.9h0.7M386.4 255.3h0.7M367.4 257.3h0.7M354.0 254.0h0.7M363.8 251.7h0.7M390.0 274.1h0.7M379.9 265.0h0.7M387.1 246.5h0.7M398.6 266.8h0.7M359.8 247.5h0.7M393.8 261.7h0.7M395.3 260.7h0.7M396.7 269.7h0.7M362.1 244.0h0.7M387.6 263.7h0.7M385.1 266.6h0.7M383.3 251.8h0.7M362.9 233.8h0.7M376.4 250.3h0.7M389.0 257.0h0.7M366.2 232.7h0.7M372.3 259.0h0.7M383.6 268.5h0.7M378.4 265.0h0.7M359.0 249.3h0.7M380.4 256.9h0.7M365.4 236.4h0.7M373.6 266.9h0.7M365.9 240.3h0.7M375.5 256.9h0.7M375.2 255.1h0.7M361.9 246.1h0.7M357.7 249.4h0.7M370.4 259.8h0.7M353.6 265.4h0.7M393.7 265.1h0.7M378.1 252.7h0.7M366.1 275.3h0.7M387.1 256.3h0.7M384.0 256.5h0.7M380.1 271.3h0.7M364.2 238.7h0.7M384.2 261.9h0.7M400.5 258.5h0.7M377.6 258.2h0.7M363.2 233.2h0.7M380.7 260.9h0.7M386.6 260.4h0.7M377.0 256.7h0.7M365.1 272.4h0.7M366.2 256.9h0.7M383.9 256.6h0.7M378.0 262.9h0.7M369.4 250.5h0.7M360.8 262.5h0.7M378.7 257.4h0.7M391.7 260.7h0.7M371.0 253.6h0.7M361.8 260.0h0.7M370.0 255.9h0.7M369.5 255.2h0.7M387.6 261.1h0.7M379.1 252.5h0.7M360.9 258.5h0.7M394.2 259.1h0.7M361.8 239.4h0.7M367.1 258.9h0.7M396.3 265.7h0.7M387.0 261.3h0.7M382.3 248.9h0.7M375.2 257.2h0.7M358.8 250.1h0.7M361.8 267.3h0.7M388.5 254.8h0.7M369.7 273.3h0.7M388.0 263.1h0.7M371.1 254.5h0.7M360.8 246.8h0.7M400.6 268.4h0.7M383.5 268.0h0.7M364.2 245.7h0.7M388.7 267.0h0.7M386.6 255.0h0.7M390.7 256.9h0.7M396.5 264.2h0.7M391.3 263.7h0.7M365.3 273.9h0.7M396.9 261.1h0.7M360.6 232.6h0.7M394.1 270.1h0.7M363.3 245.4h0.7M389.8 268.5h0.7M369.4 253.4h0.7M392.1 246.7h0.7M388.2 268.9h0.7M393.7 265.1h0.7M379.5 257.6h0.7M388.9 254.4h0.7M385.5 260.8h0.7M391.6 265.1h0.7M388.0 260.1h0.7M393.5 260.1h0.7M376.5 264.1h0.7M374.6 273.3h0.7M388.3 257.2h0.7M382.4 259.1h0.7M385.1 255.4h0.7M381.3 269.8h0.7M391.6 266.3h0.7M389.2 261.3h0.7M379.4 252.5h0.7M364.9 236.6h0.7M382.2 262.7h0.7M367.0 255.1h0.7M364.5 274.4h0.7M384.9 244.1h0.7M373.3 251.7h0.7M383.7 248.8h0.7M356.2 252.6h0.7M366.7 233.8h0.7M366.6 276.8h0.7M374.0 255.3h0.7M391.1 263.1h0.7M361.1 240.1h0.7M370.7 256.0h0.7M394.1 260.9h0.7M386.0 259.1h0.7M369.2 275.0h0.7M381.9 254.3h0.7M364.4 239.5h0.7M370.6 258.9h0.7M362.1 273.3h0.7M363.8 250.3h0.7M404.4 262.1h0.7M392.4 272.7h0.7M365.5 247.0h0.7M376.5 249.1h0.7M382.0 261.4h0.7M361.5 237.7h0.7M383.8 256.7h0.7M367.5 269.1h0.7M361.2 245.7h0.7M403.9 264.5h0.7M389.8 257.6h0.7M389.8 261.9h0.7M362.9 273.5h0.7M357.6 240.0h0.7M394.1 262.4h0.7M373.6 257.7h0.7M361.2 258.0h0.7M361.8 248.6h0.7M362.2 257.4h0.7M380.6 265.5h0.7M393.4 265.5h0.7M382.0 261.0h0.7M394.1 250.2h0.7M379.1 262.4h0.7M391.4 264.3h0.7M363.6 258.6h0.7M386.1 271.6h0.7M380.1 249.7h0.7M378.5 259.2h0.7M375.6 261.5h0.7M373.3 250.6h0.7M380.1 247.0h0.7M392.3 267.0h0.7M392.6 265.1h0.7M360.6 238.4h0.7M373.4 261.4h0.7M367.1 235.3h0.7M389.3 256.3h0.7M365.1 250.0h0.7M392.1 259.8h0.7M368.4 273.2h0.7M391.2 260.8h0.7M376.8 267.5h0.7M380.4 258.0h0.7M395.8 265.6h0.7M377.5 247.1h0.7M396.6 255.6h0.7M361.5 237.3h0.7M386.4 261.9h0.7M370.5 255.2h0.7M383.0 259.9h0.7M391.8 270.1h0.7M398.6 268.3h0.7M387.0 261.8h0.7M374.9 262.3h0.7M371.2 265.4h0.7M361.8 252.0h0.7M367.4 246.3h0.7M371.0 258.2h0.7M360.6 238.4h0.7M365.8 272.8h0.7M366.6 253.5h0.7M388.8 260.5h0.7M360.1 241.7h0.7M372.8 257.3h0.7M363.8 260.7h0.7M383.3 251.4h0.7M392.8 266.9h0.7M404.5 266.3h0.7M356.1 249.4h0.7M370.1 263.4h0.7M360.1 238.6h0.7M389.2 258.1h0.7M385.0 264.2h0.7M376.6 271.6h0.7M376.5 249.8h0.7M377.2 254.1h0.7M394.1 261.4h0.7M364.8 252.7h0.7M376.3 251.5h0.7M383.2 259.5h0.7M374.1 265.2h0.7M360.7 244.5h0.7M367.2 261.8h0.7M394.2 269.4h0.7M387.7 261.4h0.7M388.2 255.9h0.7M364.5 271.1h0.7M365.0 255.1h0.7M353.4 274.0h0.7M374.2 265.5h0.7M373.6 252.0h0.7M383.7 260.3h0.7M387.9 257.5h0.7M359.6 236.0h0.7M375.5 250.8h0.7M376.3 258.7h0.7M396.4 263.1h0.7M367.5 276.8h0.7M381.7 270.7h0.7M372.2 263.2h0.7M380.7 258.4h0.7M378.0 248.5h0.7M362.1 256.2h0.7M398.3 252.6h0.7M379.1 260.9h0.7M367.0 243.3h0.7M396.3 251.8h0.7M397.6 250.9h0.7M352.8 256.3h0.7M367.0 275.2h0.7M363.3 245.8h0.7M378.2 266.6h0.7M366.1 242.0h0.7M359.6 255.0h0.7M390.0 250.8h0.7M383.4 268.2h0.7M386.0 254.6h0.7M391.9 266.7h0.7M381.3 269.4h0.7M383.3 256.5h0.7M364.2 240.3h0.7M381.8 256.6h0.7M379.0 258.5h0.7M366.8 240.7h0.7M393.9 249.3h0.7M368.6 247.9h0.7M377.6 256.3h0.7M369.7 276.4h0.7M394.2 262.1h0.7M383.1 263.1h0.7M374.5 263.0h0.7M367.2 270.0h0.7M372.3 259.1h0.7M386.9 264.7h0.7M365.2 240.8h0.7M389.5 264.3h0.7M391.3 263.2h0.7M380.7 254.1h0.7M376.1 260.9h0.7M382.7 256.8h0.7M391.3 258.2h0.7M385.2 267.2h0.7M374.7 258.9h0.7M379.4 258.4h0.7M372.6 240.2h0.7M398.0 258.3h0.7M398.5 262.8h0.7M390.7 266.6h0.7M382.3 254.0h0.7M361.2 257.5h0.7M393.8 261.9h0.7" stroke="#000" stroke-width="0.7" fill="none" stroke-opacity="0.3"/>
<path d="M387.4 267.3h0.75M378.7 264.9h0.75M373.5 258.1h0.75M382.0 267.5h0.75M364.5 260.7h0.75M373.6 269.5h0.75M364.8 261.6h0.75M370.6 270.0h0.75M382.7 262.0h0.75M381.6 269.8h0.75M379.9 268.9h0.75M367.4 266.3h0.75M366.6 269.4h0.75M365.7 270.6h0.75M363.6 273.2h0.75M380.2 270.1h0.75M364.7 264.0h0.75M377.1 268.6h0.75M372.9 258.7h0.75M385.2 270.4h0.75M367.1 265.1h0.75M364.9 268.2h0.75M375.7 267.6h0.75M383.2 268.1h0.75M381.9 270.2h0.75M395.0 266.4h0.75M385.1 267.2h0.75M373.2 264.0h0.75M362.2 269.6h0.75M376.5 261.2h0.75M360.7 264.7h0.75M366.4 274.6h0.75M370.0 262.6h0.75M391.5 271.8h0.75M392.0 266.6h0.75M374.6 266.0h0.75M379.8 269.5h0.75M348.8 268.2h0.75M377.3 267.5h0.75M367.2 267.0h0.75M399.7 268.0h0.75M367.8 263.7h0.75M389.1 268.6h0.75M384.1 267.5h0.75M369.1 262.9h0.75M362.8 267.1h0.75M375.0 269.3h0.75M377.4 269.0h0.75M371.7 269.7h0.75M377.8 268.2h0.75M386.4 271.6h0.75M385.8 265.1h0.75M375.0 265.9h0.75M403.1 266.4h0.75M369.1 269.6h0.75M369.6 268.3h0.75M370.0 269.3h0.75M386.8 265.2h0.75M378.5 266.9h0.75M386.7 270.2h0.75M377.7 269.2h0.75M378.2 261.3h0.75M376.9 265.3h0.75M361.7 261.1h0.75M394.0 268.8h0.75M384.7 264.2h0.75M367.1 262.0h0.75M378.0 265.8h0.75M379.9 272.7h0.75M369.2 266.3h0.75M365.7 266.7h0.75M365.6 269.9h0.75M377.7 268.5h0.75M386.9 266.5h0.75M372.9 257.6h0.75M382.8 255.3h0.75M378.9 271.3h0.75M376.7 273.0h0.75M373.8 262.9h0.75M389.0 263.3h0.75M367.9 261.7h0.75M367.7 272.4h0.75M368.4 269.5h0.75M370.6 264.3h0.75M385.2 266.9h0.75M386.8 266.8h0.75M364.3 267.6h0.75M374.3 271.8h0.75M365.0 270.4h0.75M374.0 268.6h0.75M385.4 266.8h0.75M364.2 265.1h0.75M383.6 270.0h0.75M381.7 267.8h0.75M387.4 271.5h0.75M365.5 268.2h0.75M367.0 268.5h0.75M369.7 270.1h0.75M376.2 268.8h0.75M384.5 261.5h0.75M372.3 265.2h0.75M374.9 267.4h0.75M389.1 268.0h0.75M375.2 265.8h0.75M379.9 260.5h0.75M369.8 266.0h0.75M367.5 267.4h0.75M378.4 270.8h0.75M372.2 271.0h0.75M356.3 272.3h0.75M373.5 265.0h0.75M370.6 260.9h0.75M367.1 270.2h0.75M385.7 272.4h0.75M370.4 264.4h0.75M394.1 265.1h0.75M366.3 269.2h0.75M376.2 262.1h0.75M359.9 266.1h0.75M364.2 260.6h0.75M366.9 267.6h0.75M366.3 265.6h0.75M366.5 267.2h0.75M377.4 267.3h0.75M369.7 265.8h0.75M369.2 265.1h0.75M362.3 264.2h0.75M367.8 261.4h0.75M379.6 272.0h0.75M377.4 266.6h0.75M375.8 260.7h0.75M371.1 266.7h0.75M391.6 267.3h0.75M382.8 266.0h0.75M384.3 267.2h0.75M385.6 265.3h0.75M364.5 269.4h0.75M367.8 265.6h0.75M366.1 264.9h0.75M359.1 270.3h0.75M368.6 269.1h0.75M377.7 262.7h0.75M386.1 269.5h0.75M371.1 262.6h0.75M371.6 262.5h0.75M383.5 266.5h0.75M375.1 267.7h0.75M396.2 267.5h0.75M365.0 270.2h0.75M360.8 268.2h0.75M380.0 266.5h0.75M364.5 264.8h0.75M365.1 267.5h0.75M366.9 262.4h0.75M364.5 266.0h0.75M375.1 261.1h0.75M363.6 262.6h0.75M380.8 267.0h0.75M381.7 267.5h0.75M380.5 265.4h0.75M379.1 267.3h0.75M368.1 269.7h0.75M385.6 264.4h0.75M363.9 262.8h0.75M366.4 267.2h0.75M371.6 264.7h0.75M376.5 267.7h0.75M367.7 267.8h0.75M381.8 260.5h0.75M381.9 268.5h0.75M376.3 270.9h0.75M367.6 272.4h0.75M372.7 263.6h0.75M366.2 267.8h0.75M365.9 270.2h0.75M374.4 272.8h0.75M365.9 268.5h0.75M364.1 266.8h0.75M364.8 269.5h0.75M370.6 262.7h0.75M364.1 261.5h0.75M388.5 268.5h0.75M379.2 265.5h0.75M383.3 270.3h0.75M367.4 266.8h0.75M380.7 262.0h0.75M372.6 266.5h0.75M377.8 265.4h0.75M377.5 267.0h0.75M378.7 268.1h0.75M382.6 267.6h0.75M387.8 267.0h0.75M362.9 261.8h0.75M383.1 265.5h0.75M376.0 264.0h0.75M379.2 259.7h0.75M380.5 270.8h0.75M382.5 267.6h0.75M376.0 266.3h0.75M364.2 266.2h0.75M364.7 263.5h0.75M363.0 271.0h0.75M373.3 263.5h0.75M368.4 270.5h0.75M385.5 273.9h0.75M374.5 273.2h0.75M387.7 268.2h0.75M375.2 270.5h0.75M385.9 269.1h0.75M373.5 261.3h0.75M380.9 262.3h0.75M362.8 270.5h0.75M365.8 266.6h0.75M380.1 266.5h0.75M390.8 271.6h0.75M367.0 261.6h0.75M367.9 263.1h0.75M386.3 261.9h0.75M361.5 266.2h0.75M370.0 260.4h0.75M376.5 266.9h0.75M360.0 269.4h0.75M398.4 267.4h0.75M375.1 262.0h0.75M372.5 270.6h0.75M392.3 269.0h0.75M362.7 267.5h0.75M378.3 264.3h0.75M366.0 274.2h0.75M357.8 269.5h0.75M364.7 268.4h0.75M367.5 266.3h0.75M365.3 266.8h0.75M367.3 267.8h0.75M366.4 268.1h0.75M363.2 267.1h0.75M359.4 267.0h0.75M377.9 261.3h0.75M385.0 269.2h0.75M370.2 260.9h0.75M386.2 267.6h0.75M374.1 263.3h0.75M377.3 269.1h0.75M364.0 266.8h0.75M381.3 267.8h0.75M368.9 264.6h0.75M391.1 267.7h0.75M371.2 268.6h0.75M354.8 270.1h0.75M394.7 269.2h0.75M372.3 257.1h0.75M360.3 268.7h0.75M387.4 270.4h0.75M402.1 265.7h0.75M368.5 264.1h0.75M365.7 272.3h0.75M365.0 266.1h0.75M378.5 265.0h0.75M375.6 266.5h0.75M377.2 260.2h0.75M375.2 265.5h0.75M371.2 264.1h0.75M376.3 265.1h0.75M389.5 271.3h0.75M402.5 266.7h0.75M361.4 259.5h0.75M369.7 268.8h0.75M358.4 263.7h0.75M390.7 267.8h0.75M363.7 265.2h0.75M373.5 270.7h0.75M375.9 262.3h0.75M385.2 269.2h0.75M389.9 269.4h0.75M379.5 269.2h0.75M381.0 268.3h0.75M382.9 273.9h0.75M393.8 266.2h0.75M403.1 266.9h0.75M379.1 261.4h0.75M378.6 261.7h0.75M376.3 260.9h0.75M376.6 258.7h0.75M377.9 265.1h0.75M385.5 268.6h0.75M368.0 265.0h0.75M376.2 268.7h0.75M379.4 268.6h0.75M385.6 271.2h0.75M370.4 263.8h0.75M370.9 258.9h0.75M377.0 266.4h0.75M379.3 268.2h0.75M372.8 267.7h0.75M370.3 270.8h0.75M392.1 265.5h0.75M366.5 269.4h0.75M364.7 270.3h0.75M387.5 269.8h0.75M364.1 268.6h0.75M387.6 268.2h0.75M363.7 269.9h0.75M363.2 268.1h0.75M371.5 263.5h0.75M384.2 259.7h0.75M400.2 269.0h0.75M366.0 263.8h0.75M364.0 261.0h0.75M363.6 271.1h0.75M367.1 263.5h0.75M366.4 269.5h0.75M384.3 264.2h0.75M373.5 265.9h0.75M377.5 270.5h0.75M373.2 267.9h0.75M376.0 267.0h0.75M361.9 263.2h0.75M375.9 265.4h0.75M365.3 268.5h0.75M373.7 264.1h0.75M378.8 266.0h0.75M377.2 271.9h0.75M400.5 268.2h0.75M364.7 266.9h0.75M365.4 268.1h0.75M384.9 268.8h0.75M366.5 267.2h0.75M376.8 271.1h0.75M383.2 267.4h0.75M365.2 270.0h0.75M364.7 272.7h0.75M366.3 264.0h0.75M379.2 268.4h0.75M370.3 265.5h0.75M370.4 267.7h0.75M374.9 269.0h0.75M401.7 267.4h0.75M373.7 268.8h0.75M368.3 267.8h0.75M378.8 266.5h0.75M368.9 268.4h0.75M375.6 262.7h0.75M371.5 267.3h0.75M379.8 270.0h0.75M385.3 267.2h0.75M372.1 270.3h0.75M375.2 267.3h0.75M351.9 270.2h0.75M396.0 268.3h0.75M382.8 269.9h0.75M367.4 268.5h0.75M368.8 261.9h0.75M365.3 268.8h0.75M356.7 265.4h0.75M364.9 268.8h0.75M363.4 261.9h0.75M359.0 262.1h0.75M381.0 268.7h0.75M379.9 262.7h0.75M365.8 268.7h0.75M373.7 268.0h0.75M365.7 267.6h0.75M384.8 267.7h0.75M376.2 264.5h0.75M351.7 268.9h0.75M366.6 270.6h0.75M366.6 261.9h0.75M366.3 264.3h0.75M364.2 266.3h0.75M366.8 269.0h0.75M354.2 267.9h0.75M364.8 266.8h0.75M377.0 270.8h0.75M358.8 266.4h0.75M363.2 263.4h0.75" stroke="#000" stroke-width="0.75" fill="none" stroke-opacity="0.4"/>
<path d="M374.9 260.6h0.75M376.6 262.6h0.75M377.6 271.8h0.75M387.4 266.9h0.75M367.2 268.8h0.75M371.9 267.2h0.75M384.2 271.5h0.75M379.2 265.9h0.75M374.6 260.7h0.75M366.5 263.2h0.75M362.7 265.9h0.75M391.1 268.8h0.75M366.0 266.4h0.75M366.1 268.0h0.75M381.0 265.9h0.75M390.8 267.3h0.75M371.7 262.0h0.75M366.7 266.5h0.75M392.2 271.1h0.75M376.8 268.4h0.75M374.8 273.5h0.75M363.5 264.0h0.75M374.8 263.5h0.75M379.5 271.7h0.75M374.8 267.6h0.75M366.6 265.2h0.75M375.4 269.4h0.75M388.7 268.1h0.75M373.4 270.2h0.75M370.0 261.6h0.75M381.5 264.2h0.75M366.8 266.6h0.75M368.6 268.0h0.75M383.1 266.5h0.75M374.2 266.6h0.75M366.1 267.8h0.75M363.7 265.7h0.75M393.5 271.0h0.75M397.2 270.4h0.75M401.0 269.6h0.75M375.3 263.2h0.75M372.8 264.8h0.75M367.6 269.1h0.75M375.6 265.5h0.75M389.2 263.6h0.75M363.9 261.8h0.75M362.9 258.3h0.75M385.7 271.8h0.75M363.8 266.8h0.75M381.5 271.2h0.75M365.2 268.5h0.75M368.4 270.0h0.75M384.5 268.4h0.75M374.6 267.8h0.75M364.5 265.7h0.75M386.4 270.6h0.75M354.4 271.0h0.75M361.1 272.3h0.75M375.4 260.1h0.75M366.3 264.8h0.75M379.7 265.3h0.75M372.4 270.4h0.75M365.1 268.4h0.75M363.7 268.9h0.75M378.1 265.2h0.75M363.3 271.0h0.75M374.6 265.4h0.75M366.2 269.9h0.75M370.6 263.9h0.75M356.3 267.6h0.75M392.0 268.6h0.75M371.3 270.8h0.75M385.7 265.3h0.75M370.0 259.3h0.75M381.9 264.7h0.75M376.7 269.0h0.75M366.7 266.8h0.75M373.1 273.6h0.75M380.5 269.2h0.75M385.5 266.6h0.75M374.1 265.8h0.75M373.3 269.0h0.75M364.0 255.5h0.75M374.2 270.7h0.75M385.9 266.5h0.75M361.8 265.1h0.75M378.2 267.1h0.75M365.5 263.3h0.75M382.8 266.0h0.75M395.2 265.9h0.75M371.3 266.7h0.75M381.7 261.8h0.75M379.7 268.2h0.75M389.4 268.8h0.75M367.8 265.0h0.75M379.9 265.8h0.75M379.0 266.4h0.75M376.2 262.7h0.75M371.7 270.2h0.75M368.4 264.2h0.75M385.7 271.4h0.75M364.5 266.0h0.75M379.8 270.6h0.75M383.2 267.8h0.75M367.3 260.7h0.75M383.3 268.2h0.75M380.9 270.7h0.75M385.2 266.4h0.75M357.6 265.2h0.75M374.6 272.2h0.75M399.3 267.1h0.75M361.4 267.4h0.75M400.2 269.2h0.75M371.7 264.2h0.75M367.9 267.8h0.75M380.9 257.7h0.75M377.1 270.3h0.75M362.9 264.8h0.75M365.5 259.6h0.75M379.4 268.9h0.75M382.0 265.9h0.75M366.2 268.4h0.75M375.3 265.4h0.75M388.3 266.0h0.75M380.8 268.7h0.75M379.7 260.4h0.75M379.6 266.3h0.75M377.6 266.5h0.75M384.2 262.1h0.75M365.6 266.6h0.75M383.2 271.3h0.75M379.6 270.7h0.75M365.5 268.1h0.75M362.8 267.7h0.75M361.4 258.6h0.75M366.3 269.4h0.75M380.6 266.5h0.75M399.8 267.4h0.75M392.2 266.4h0.75M371.2 263.6h0.75M376.7 261.0h0.75M361.7 269.8h0.75M368.2 262.0h0.75M382.1 271.3h0.75M360.6 270.0h0.75M367.4 267.6h0.75M373.9 269.5h0.75M381.0 259.8h0.75M366.0 263.7h0.75M362.5 269.4h0.75M352.9 259.9h0.75M371.0 261.5h0.75M369.6 262.1h0.75M371.3 273.3h0.75M366.4 265.0h0.75M364.2 265.3h0.75M374.5 264.8h0.75M388.9 272.0h0.75M364.8 265.1h0.75M362.9 266.6h0.75M385.8 265.5h0.75M361.4 268.6h0.75M373.7 268.3h0.75M366.7 265.2h0.75M366.7 262.8h0.75M364.9 261.6h0.75M385.8 267.1h0.75M365.7 269.0h0.75M373.5 264.7h0.75M393.9 267.6h0.75M362.1 269.2h0.75M382.8 266.0h0.75M365.0 267.7h0.75M370.6 267.5h0.75M368.5 262.4h0.75M383.1 265.3h0.75M371.1 271.0h0.75M377.3 268.2h0.75M378.0 269.9h0.75M366.4 271.4h0.75M364.6 267.9h0.75M365.4 271.3h0.75M376.0 270.6h0.75M381.2 268.2h0.75M363.3 268.1h0.75M376.5 263.7h0.75M390.5 267.8h0.75M380.6 265.2h0.75M362.7 273.3h0.75M361.6 265.6h0.75M395.3 271.3h0.75M351.3 271.7h0.75M382.7 270.7h0.75M386.8 265.5h0.75M370.0 269.4h0.75M396.3 270.1h0.75M374.0 268.5h0.75M367.8 267.3h0.75M365.8 267.8h0.75M375.0 266.4h0.75M379.1 271.6h0.75M364.3 265.6h0.75M364.3 260.9h0.75M369.8 267.6h0.75M382.3 267.7h0.75M386.2 262.5h0.75M366.4 268.3h0.75M365.6 268.8h0.75M375.9 272.3h0.75M380.8 265.6h0.75M360.3 267.5h0.75M388.8 270.0h0.75M378.2 267.9h0.75M360.4 265.2h0.75M372.9 264.6h0.75M368.2 266.4h0.75M393.9 272.6h0.75M367.2 266.0h0.75M365.8 269.7h0.75M385.2 270.0h0.75M387.3 268.9h0.75M363.2 270.3h0.75M369.8 267.5h0.75M372.0 264.1h0.75M390.5 266.9h0.75M371.3 262.1h0.75M367.2 268.6h0.75M378.5 269.7h0.75M382.4 269.3h0.75M389.5 269.2h0.75M355.3 271.3h0.75M363.7 266.3h0.75M383.9 263.8h0.75M377.8 264.9h0.75M389.6 270.8h0.75M372.0 271.3h0.75M386.2 262.9h0.75M368.6 267.1h0.75M364.4 264.7h0.75M368.7 269.3h0.75M375.0 268.2h0.75M369.0 264.6h0.75M384.2 265.6h0.75M369.5 268.6h0.75M366.2 268.3h0.75M372.2 265.4h0.75M384.3 271.8h0.75M365.7 264.9h0.75M352.1 272.0h0.75M388.4 270.9h0.75M379.4 270.3h0.75M367.7 268.6h0.75M364.8 270.3h0.75M369.0 265.6h0.75M382.4 258.0h0.75M387.0 265.6h0.75M367.7 270.3h0.75M382.1 271.0h0.75M362.8 269.4h0.75M367.1 261.2h0.75M393.6 269.6h0.75M362.5 260.5h0.75M371.0 268.6h0.75M372.7 261.9h0.75M375.2 272.4h0.75M370.9 256.6h0.75M373.0 263.7h0.75M370.9 270.5h0.75M393.6 265.7h0.75M363.2 263.8h0.75M381.9 254.8h0.75M367.2 265.5h0.75M364.1 261.5h0.75M383.1 270.8h0.75M382.0 268.4h0.75M387.6 264.4h0.75M381.4 267.3h0.75M378.8 265.5h0.75M370.3 264.1h0.75M366.1 269.7h0.75M387.9 267.7h0.75M377.1 266.1h0.75M375.5 267.7h0.75M367.1 262.0h0.75M363.4 267.0h0.75M369.6 266.4h0.75M382.8 264.6h0.75M372.9 264.0h0.75M372.5 271.7h0.75M392.9 268.7h0.75M391.4 265.1h0.75M363.8 267.9h0.75M371.3 263.4h0.75M363.7 266.7h0.75M365.5 266.0h0.75M365.8 269.8h0.75M385.1 266.6h0.75M379.2 268.6h0.75M368.8 260.8h0.75M373.8 266.0h0.75M381.3 272.0h0.75M386.9 270.7h0.75M385.7 271.2h0.75M384.5 266.0h0.75M376.1 264.5h0.75M363.3 269.4h0.75M370.2 257.2h0.75M378.4 261.2h0.75M370.8 267.0h0.75M372.9 267.2h0.75M394.6 267.6h0.75M366.9 266.2h0.75M368.2 266.7h0.75M391.2 264.6h0.75M379.3 270.3h0.75M363.3 258.1h0.75M372.3 259.0h0.75M369.5 257.5h0.75M383.0 267.4h0.75M381.6 266.5h0.75M368.7 260.4h0.75M373.9 268.7h0.75M365.9 265.4h0.75M364.8 264.3h0.75M371.4 269.6h0.75M371.1 270.7h0.75M376.9 268.9h0.75M391.0 268.4h0.75M380.3 265.9h0.75M383.6 268.5h0.75M398.5 261.5h0.75M367.9 265.2h0.75M369.2 269.2h0.75M372.7 267.4h0.75M390.7 266.1h0.75M368.3 266.3h0.75M376.9 267.3h0.75M382.4 269.6h0.75M382.4 271.8h0.75M378.4 262.7h0.75M366.6 266.0h0.75M351.2 263.3h0.75M362.7 269.4h0.75M366.1 269.7h0.75M376.8 265.6h0.75M366.4 269.9h0.75M387.1 264.1h0.75M376.4 266.0h0.75M358.6 264.5h0.75M365.9 269.6h0.75M366.9 264.4h0.75M374.8 265.9h0.75M373.7 265.1h0.75M378.9 265.4h0.75M379.1 262.7h0.75M368.9 259.9h0.75M383.8 268.1h0.75M389.5 270.3h0.75M370.9 270.3h0.75M380.8 267.0h0.75M395.2 268.6h0.75M378.7 260.6h0.75M375.2 263.8h0.75M368.9 255.7h0.75M379.9 265.4h0.75M372.8 273.4h0.75M371.1 270.3h0.75M376.8 265.8h0.75M370.3 267.6h0.75M365.8 267.8h0.75M371.1 263.2h0.75M373.6 259.7h0.75M380.6 268.4h0.75M367.6 269.5h0.75M371.8 260.7h0.75" stroke="#000" stroke-width="0.75" fill="none" stroke-opacity="0.4"/>
<path d="M384.0 267.6h0.75M368.3 265.9h0.75M365.8 267.0h0.75M364.3 263.1h0.75M377.6 265.1h0.75M376.0 268.6h0.75M365.1 260.4h0.75M389.3 267.8h0.75M364.2 265.7h0.75M382.4 267.6h0.75M378.5 261.0h0.75M387.2 267.7h0.75M363.6 263.4h0.75M372.0 268.5h0.75M391.6 265.2h0.75M384.1 268.7h0.75M389.1 263.4h0.75M368.8 262.3h0.75M372.5 270.4h0.75M380.3 266.2h0.75M374.6 263.6h0.75M364.3 267.1h0.75M390.7 266.0h0.75M383.7 271.7h0.75M368.9 265.6h0.75M364.5 275.9h0.75M377.3 266.0h0.75M377.2 267.2h0.75M365.7 270.9h0.75M365.6 266.4h0.75M385.3 269.1h0.75M378.4 259.9h0.75M362.1 266.2h0.75M381.6 266.5h0.75M388.5 269.6h0.75M378.8 268.3h0.75M363.0 263.8h0.75M374.6 267.6h0.75M376.5 270.6h0.75M373.0 267.5h0.75M362.5 266.0h0.75M381.1 270.4h0.75M372.8 268.6h0.75M394.9 269.3h0.75M365.8 264.4h0.75M379.4 266.7h0.75M394.0 266.5h0.75M383.4 268.0h0.75M360.4 266.3h0.75M364.0 258.7h0.75M371.4 267.5h0.75M383.1 270.4h0.75M388.3 269.9h0.75M369.5 269.9h0.75M366.3 265.7h0.75M378.4 262.6h0.75M368.8 270.6h0.75M376.0 272.8h0.75M367.1 262.5h0.75M380.9 269.7h0.75M363.2 260.0h0.75M385.7 269.2h0.75M370.4 259.3h0.75M375.4 265.8h0.75M383.3 270.6h0.75M380.2 269.9h0.75M364.9 272.8h0.75M368.5 270.3h0.75M362.6 269.0h0.75M365.7 263.3h0.75M367.1 266.1h0.75M369.9 261.3h0.75M381.2 273.2h0.75M369.3 267.8h0.75M373.8 266.2h0.75M367.0 264.4h0.75M396.2 267.5h0.75M366.1 263.1h0.75M368.8 268.2h0.75M381.5 267.6h0.75M385.8 272.0h0.75M375.9 268.8h0.75M371.1 268.1h0.75M372.1 263.2h0.75M370.2 268.0h0.75M382.9 270.5h0.75M378.7 270.4h0.75M358.1 265.1h0.75M374.4 268.9h0.75M385.4 267.9h0.75M389.8 266.0h0.75M367.9 269.1h0.75M374.1 268.5h0.75M364.2 266.5h0.75M366.5 267.2h0.75M371.9 260.5h0.75M365.6 270.4h0.75M372.1 268.5h0.75M371.7 269.6h0.75M382.8 272.5h0.75M370.2 263.3h0.75M368.0 261.7h0.75M373.6 263.2h0.75M361.9 266.9h0.75M374.6 266.1h0.75M394.6 270.3h0.75M376.3 269.8h0.75M378.9 266.2h0.75M379.9 259.2h0.75M380.4 268.3h0.75M393.8 265.9h0.75M375.2 270.7h0.75M387.3 270.7h0.75M382.0 258.1h0.75M366.6 261.0h0.75M387.7 268.1h0.75M388.4 270.8h0.75M384.6 265.6h0.75M393.3 270.9h0.75M384.5 265.5h0.75M370.6 260.6h0.75M365.1 266.2h0.75M373.4 264.4h0.75M374.9 266.6h0.75M367.2 266.3h0.75M370.4 269.6h0.75M392.7 269.5h0.75M379.7 265.7h0.75M369.5 269.7h0.75M382.5 269.4h0.75M366.9 265.7h0.75M392.7 271.8h0.75M375.2 265.0h0.75M366.0 266.8h0.75M385.2 268.9h0.75M374.8 262.5h0.75M377.1 264.8h0.75M368.4 261.3h0.75M383.2 267.5h0.75M392.9 271.8h0.75M396.6 268.1h0.75M383.2 272.8h0.75M374.7 260.8h0.75M376.0 264.5h0.75M368.9 265.8h0.75M363.6 261.9h0.75M374.0 268.7h0.75M359.9 260.7h0.75M366.9 266.5h0.75M389.3 266.7h0.75M369.5 259.5h0.75M377.8 267.8h0.75M371.7 267.9h0.75M364.7 270.9h0.75M367.3 264.9h0.75M374.7 268.4h0.75M399.8 267.9h0.75M378.0 266.1h0.75M381.9 267.5h0.75M367.8 261.7h0.75M376.9 266.9h0.75M365.5 266.3h0.75M378.0 266.6h0.75M366.1 264.1h0.75M376.2 267.3h0.75M379.4 269.9h0.75M378.1 266.2h0.75M374.0 269.5h0.75M365.2 271.8h0.75M386.5 266.7h0.75M388.8 270.0h0.75M361.3 266.8h0.75M377.5 270.5h0.75M375.8 266.1h0.75M371.7 271.0h0.75M380.6 262.4h0.75M360.8 267.5h0.75M359.2 259.6h0.75M377.2 269.6h0.75M378.7 266.8h0.75M374.4 263.6h0.75M366.7 270.6h0.75M370.6 270.3h0.75M364.4 265.6h0.75M389.9 266.5h0.75M357.4 268.0h0.75M364.9 268.1h0.75M369.5 268.1h0.75M376.4 267.1h0.75M368.7 270.8h0.75M366.5 270.2h0.75M367.1 264.3h0.75M364.5 268.3h0.75M378.5 265.5h0.75M379.8 268.4h0.75M379.6 264.2h0.75M377.8 266.9h0.75M367.5 272.1h0.75M381.3 262.4h0.75M370.7 259.7h0.75M375.7 267.2h0.75M369.6 264.4h0.75M377.6 273.1h0.75M357.7 266.2h0.75M363.1 270.2h0.75M379.7 270.5h0.75M368.4 271.0h0.75M385.8 266.9h0.75M365.2 261.7h0.75M375.6 268.5h0.75M369.3 267.9h0.75M379.9 269.2h0.75M364.9 263.4h0.75M388.3 271.4h0.75M365.9 263.6h0.75M370.7 265.6h0.75M363.6 261.8h0.75M368.4 266.6h0.75M385.8 272.0h0.75M387.7 264.6h0.75M373.7 262.1h0.75M377.2 264.8h0.75M366.8 260.9h0.75M362.9 264.5h0.75M374.7 271.4h0.75M359.4 263.5h0.75M393.5 264.6h0.75M369.1 269.2h0.75M365.1 262.9h0.75M389.5 269.1h0.75M400.4 269.4h0.75M365.8 264.2h0.75M366.2 265.8h0.75M386.7 266.2h0.75M378.2 271.5h0.75M374.3 271.0h0.75M371.9 269.8h0.75M387.1 267.1h0.75M382.3 265.7h0.75M367.4 269.6h0.75M363.3 269.9h0.75M397.6 266.6h0.75M362.8 265.6h0.75M367.0 265.8h0.75M378.1 271.0h0.75M371.2 258.3h0.75M369.6 262.4h0.75M366.4 268.3h0.75M368.7 265.6h0.75M378.6 270.8h0.75M364.0 266.6h0.75M378.0 267.4h0.75M367.1 265.8h0.75M362.3 267.0h0.75M372.4 267.3h0.75M384.5 263.5h0.75M365.0 267.9h0.75M384.0 265.1h0.75M381.4 269.8h0.75M378.8 273.5h0.75M375.1 274.5h0.75M374.7 270.9h0.75M364.9 268.2h0.75M387.4 270.5h0.75M365.0 269.7h0.75M365.1 264.3h0.75M372.8 267.5h0.75M367.9 267.0h0.75M364.1 264.6h0.75M363.3 266.5h0.75M370.6 265.8h0.75M376.8 266.9h0.75M393.9 267.1h0.75M398.1 269.6h0.75M362.4 261.0h0.75M378.5 268.3h0.75M365.2 262.5h0.75M380.2 271.9h0.75M370.3 261.0h0.75M367.1 263.6h0.75M363.8 267.4h0.75M375.5 264.1h0.75M381.1 263.6h0.75M376.5 272.0h0.75M366.4 268.1h0.75M368.8 260.2h0.75M382.0 268.5h0.75M361.0 263.2h0.75M355.5 259.7h0.75M375.3 265.9h0.75M378.3 265.3h0.75M376.2 260.9h0.75M367.8 269.9h0.75M381.9 263.1h0.75M361.3 266.4h0.75M383.6 267.6h0.75M363.9 267.7h0.75M378.1 268.6h0.75M369.8 261.7h0.75M367.0 267.1h0.75M362.4 264.9h0.75M367.0 267.1h0.75M371.0 270.3h0.75M372.3 272.8h0.75M363.5 262.6h0.75M390.8 266.3h0.75M385.2 265.5h0.75M365.4 266.5h0.75M375.5 261.8h0.75M373.3 269.4h0.75M367.1 259.7h0.75M365.6 271.0h0.75M385.1 267.1h0.75M380.2 268.2h0.75M371.3 263.2h0.75M376.2 265.8h0.75M373.0 268.4h0.75M386.2 266.7h0.75M377.8 268.0h0.75M374.6 264.1h0.75M365.9 268.4h0.75M368.0 266.5h0.75M380.6 269.7h0.75M388.4 270.6h0.75M390.8 269.1h0.75M372.7 270.7h0.75M377.4 271.4h0.75M379.4 265.8h0.75M365.3 268.3h0.75M366.4 267.8h0.75M377.7 269.2h0.75M364.7 259.7h0.75M387.5 265.0h0.75M379.5 262.7h0.75M378.0 265.1h0.75M380.3 267.4h0.75M381.0 255.7h0.75M360.3 269.8h0.75M361.3 267.7h0.75M382.4 263.8h0.75M364.7 267.2h0.75M370.1 267.9h0.75M373.5 269.7h0.75M372.8 270.8h0.75M392.3 266.7h0.75M370.1 268.7h0.75M391.5 268.7h0.75M367.6 265.2h0.75M363.1 267.1h0.75M366.9 261.2h0.75M383.7 269.1h0.75M387.5 269.1h0.75M360.7 269.8h0.75M388.0 270.4h0.75M365.7 267.4h0.75M362.2 269.1h0.75M376.9 270.4h0.75M362.4 268.3h0.75M379.0 265.3h0.75M390.8 267.7h0.75M379.2 268.9h0.75M386.8 271.8h0.75M371.5 271.0h0.75M378.1 268.6h0.75M374.0 260.7h0.75M367.7 264.8h0.75M385.0 271.0h0.75M369.7 270.5h0.75M360.7 264.1h0.75M391.0 270.7h0.75M375.0 273.1h0.75M389.6 270.0h0.75M374.3 269.2h0.75M380.2 272.6h0.75M365.3 272.7h0.75" stroke="#000" stroke-width="0.75" fill="none" stroke-opacity="0.4"/>
<path d="M382.8 267.2h0.75M370.9 269.6h0.75M377.4 270.1h0.75M367.1 266.2h0.75M388.4 270.3h0.75M367.8 264.6h0.75M376.5 265.4h0.75M368.7 260.6h0.75M376.9 267.1h0.75M394.1 266.0h0.75M390.6 268.6h0.75M367.8 267.2h0.75M381.7 271.3h0.75M372.0 266.7h0.75M378.9 268.8h0.75M375.2 270.1h0.75M362.0 261.3h0.75M387.8 262.6h0.75M385.4 268.4h0.75M363.5 267.7h0.75M377.9 264.7h0.75M373.5 266.5h0.75M366.5 260.7h0.75M370.5 257.3h0.75M376.8 265.6h0.75M380.3 265.7h0.75M371.1 267.2h0.75M368.1 265.1h0.75M364.4 264.4h0.75M392.4 270.9h0.75M375.5 265.5h0.75M382.0 265.2h0.75M378.6 270.4h0.75M369.7 266.5h0.75M375.5 263.1h0.75M376.1 260.9h0.75M365.6 268.0h0.75M373.5 267.7h0.75M374.1 268.0h0.75M378.2 257.6h0.75M365.0 268.4h0.75M376.4 270.9h0.75M371.5 270.6h0.75M364.8 269.6h0.75M374.3 270.5h0.75M375.4 262.4h0.75M380.5 266.6h0.75M373.3 263.6h0.75M384.4 266.8h0.75M385.3 269.6h0.75M386.8 267.1h0.75M376.9 271.4h0.75M364.9 260.7h0.75M366.8 266.0h0.75M392.8 266.7h0.75M366.6 267.6h0.75M370.4 269.8h0.75M378.6 267.2h0.75M386.4 269.6h0.75M383.5 266.5h0.75M377.8 271.5h0.75M378.4 268.3h0.75M375.2 272.5h0.75M372.9 268.7h0.75M390.7 265.4h0.75M362.9 272.5h0.75M381.1 261.7h0.75M369.3 263.2h0.75M379.7 269.5h0.75M371.3 268.6h0.75M367.0 265.9h0.75M373.6 262.6h0.75M385.7 271.1h0.75M373.8 267.9h0.75M373.4 264.6h0.75M369.2 264.1h0.75M370.9 258.9h0.75M363.0 265.8h0.75M370.7 269.2h0.75M369.0 261.2h0.75M364.6 265.5h0.75M377.8 266.6h0.75M370.5 270.5h0.75M377.5 267.3h0.75M368.0 265.2h0.75M370.9 263.9h0.75M395.9 269.0h0.75M374.8 266.2h0.75M362.0 269.8h0.75M366.3 266.9h0.75M382.7 267.0h0.75M376.1 261.9h0.75M386.4 267.4h0.75M370.3 266.3h0.75M387.1 269.1h0.75M364.6 265.7h0.75M369.0 264.7h0.75M390.6 271.7h0.75M377.4 266.9h0.75M374.3 258.8h0.75M364.0 263.9h0.75M379.1 259.4h0.75M374.8 266.2h0.75M380.2 264.5h0.75M367.5 269.4h0.75M387.5 269.9h0.75M364.3 260.6h0.75M381.1 266.7h0.75M370.9 263.8h0.75M383.0 259.1h0.75M361.6 264.4h0.75M383.1 266.0h0.75M366.7 267.3h0.75M363.1 262.5h0.75M362.1 261.9h0.75M382.0 267.7h0.75M382.5 265.4h0.75M372.2 265.6h0.75M367.0 267.4h0.75M374.2 265.6h0.75M360.1 269.1h0.75M376.4 267.0h0.75M366.5 270.3h0.75M370.4 269.2h0.75M366.0 262.5h0.75M384.8 270.6h0.75M362.1 266.5h0.75M362.1 262.1h0.75M373.0 268.5h0.75M383.0 265.4h0.75M383.0 263.0h0.75M377.0 267.6h0.75M377.4 269.7h0.75M390.0 266.4h0.75M385.4 267.5h0.75M404.8 265.5h0.75M384.9 268.0h0.75M367.8 264.3h0.75M390.9 268.7h0.75M391.1 267.4h0.75M372.2 270.6h0.75M365.3 271.8h0.75M372.0 270.9h0.75M373.6 268.6h0.75M376.0 267.6h0.75M388.3 268.9h0.75M376.3 267.5h0.75M366.2 263.9h0.75M367.8 270.8h0.75M380.5 263.3h0.75M376.6 267.0h0.75M369.5 265.0h0.75M364.0 260.0h0.75M366.2 272.6h0.75M376.9 267.1h0.75M396.4 270.1h0.75M377.7 267.3h0.75M362.9 270.5h0.75M376.8 262.0h0.75M364.9 265.0h0.75M364.7 268.9h0.75M373.0 267.9h0.75M397.5 269.4h0.75M367.1 266.8h0.75M362.1 263.1h0.75M391.5 267.0h0.75M386.8 268.7h0.75M368.9 266.3h0.75M388.6 265.3h0.75M365.9 265.1h0.75M397.1 269.7h0.75M364.1 272.3h0.75M375.2 269.2h0.75M367.6 268.0h0.75M382.4 268.3h0.75M375.1 269.6h0.75M377.3 266.4h0.75M382.8 268.5h0.75M387.2 267.8h0.75M380.2 268.4h0.75M368.8 263.5h0.75M364.4 267.1h0.75M374.3 264.2h0.75M367.8 260.6h0.75M389.6 268.6h0.75M375.3 266.0h0.75M365.7 265.8h0.75M382.8 268.5h0.75M387.1 268.4h0.75M376.0 266.6h0.75M378.4 269.6h0.75M373.2 266.0h0.75M366.5 263.4h0.75M368.9 270.9h0.75M376.5 269.5h0.75M374.1 269.2h0.75M363.6 263.4h0.75M380.4 269.4h0.75M372.2 269.9h0.75M378.6 268.9h0.75M368.5 267.0h0.75M366.1 264.7h0.75M365.0 267.9h0.75M375.0 266.5h0.75M382.2 268.1h0.75M382.4 270.4h0.75M371.7 267.7h0.75M389.3 270.5h0.75M373.0 273.0h0.75M381.4 267.8h0.75M365.6 269.0h0.75M377.8 270.4h0.75M363.6 261.7h0.75M372.2 269.5h0.75M379.3 268.1h0.75M364.7 262.6h0.75M376.5 271.8h0.75M365.3 267.9h0.75M370.5 269.0h0.75M376.8 268.4h0.75M370.2 263.6h0.75M400.6 267.7h0.75M382.4 265.7h0.75M367.4 272.2h0.75M389.3 270.2h0.75M356.6 271.2h0.75M390.5 265.9h0.75M385.5 266.9h0.75M371.4 265.5h0.75M380.5 269.4h0.75M379.2 267.0h0.75M359.6 271.2h0.75M394.9 266.9h0.75M363.9 270.2h0.75M376.2 266.7h0.75M393.1 267.4h0.75M366.6 264.2h0.75M361.1 267.4h0.75M387.1 268.0h0.75M388.4 268.3h0.75M378.4 268.8h0.75M365.0 267.7h0.75M385.9 269.6h0.75M366.5 262.2h0.75M367.6 263.0h0.75M387.6 268.1h0.75M361.7 264.3h0.75M391.8 265.9h0.75M364.1 262.8h0.75M395.8 269.4h0.75M384.0 275.0h0.75M369.8 266.0h0.75M400.1 266.6h0.75M365.0 267.4h0.75M368.7 263.5h0.75M375.6 267.7h0.75M367.1 269.2h0.75M374.8 266.9h0.75M388.8 268.5h0.75M366.0 263.8h0.75M390.3 270.4h0.75M370.9 266.9h0.75M383.0 267.9h0.75M385.3 266.3h0.75M383.5 270.5h0.75M361.3 272.0h0.75M393.8 266.9h0.75M366.8 273.5h0.75M366.8 267.3h0.75M380.7 270.6h0.75M371.4 263.5h0.75M384.8 266.9h0.75M372.7 261.2h0.75M363.7 272.8h0.75M363.4 267.9h0.75M366.2 266.9h0.75M378.8 269.7h0.75M361.4 265.1h0.75M380.5 271.9h0.75M371.9 269.8h0.75M383.5 270.6h0.75M370.3 261.2h0.75M371.1 264.5h0.75M375.8 260.9h0.75M371.4 263.5h0.75M372.1 266.6h0.75M381.0 264.8h0.75M380.8 266.0h0.75M375.2 265.5h0.75M376.2 267.3h0.75M373.4 266.1h0.75M382.3 266.0h0.75M371.9 267.7h0.75M381.3 267.7h0.75M378.0 262.1h0.75M378.1 269.3h0.75M368.8 266.9h0.75M366.1 265.4h0.75M364.7 269.5h0.75M366.0 268.8h0.75M378.4 266.7h0.75M372.0 267.9h0.75M393.4 271.3h0.75M376.0 268.4h0.75M383.8 268.0h0.75M368.3 269.7h0.75M372.5 271.3h0.75M383.2 267.1h0.75M356.0 267.3h0.75M363.7 269.8h0.75M396.8 269.1h0.75M377.9 267.7h0.75M371.4 268.7h0.75M375.2 262.9h0.75M364.7 266.9h0.75M367.4 263.8h0.75M370.3 267.0h0.75M376.7 270.5h0.75M365.1 264.9h0.75M376.8 265.9h0.75M367.4 265.8h0.75M375.9 274.9h0.75M365.9 267.0h0.75M370.5 265.7h0.75M388.1 268.6h0.75M374.3 265.2h0.75M365.5 261.4h0.75M356.5 268.1h0.75M364.1 269.8h0.75M371.0 266.0h0.75M373.1 266.7h0.75M377.2 270.1h0.75M362.2 271.4h0.75M376.4 264.2h0.75M368.6 266.6h0.75M371.2 258.5h0.75M364.6 260.6h0.75M379.3 268.5h0.75M364.6 268.5h0.75M363.1 262.3h0.75M372.8 268.9h0.75M387.7 263.6h0.75M379.4 268.8h0.75M392.7 262.7h0.75M380.3 270.0h0.75M378.7 270.1h0.75M385.0 266.5h0.75M365.7 268.3h0.75M388.8 269.0h0.75M378.7 269.4h0.75M375.4 262.7h0.75M364.6 263.2h0.75M366.1 266.0h0.75M391.5 266.6h0.75M378.2 264.2h0.75M369.7 261.4h0.75M363.9 266.5h0.75M376.4 267.9h0.75M362.5 261.2h0.75M375.8 266.6h0.75M363.7 268.9h0.75M392.5 266.3h0.75M395.2 272.1h0.75M365.0 264.8h0.75M372.9 261.0h0.75M370.2 271.9h0.75M372.0 261.3h0.75M376.3 267.5h0.75M367.3 263.9h0.75M374.3 267.7h0.75M364.1 268.6h0.75M381.2 263.1h0.75M378.1 269.7h0.75M390.0 266.0h0.75M370.9 265.2h0.75" stroke="#000" stroke-width="0.75" fill="none" stroke-opacity="0.4"/>
<ellipse cx="365.3" cy="267.6" rx="4.2" ry="3.4" transform="rotate(0 365.3 267.6)" fill="#000" fill-opacity="0.88" filter="url(#bl8)"/>
<ellipse cx="379.0" cy="268.3" rx="13.5" ry="2.6" transform="rotate(0 379.0 268.3)" fill="#000" fill-opacity="0.6" filter="url(#bl9)"/>
<ellipse cx="378.0" cy="259.0" rx="11.0" ry="6.0" transform="rotate(0 378.0 259.0)" fill="#000" fill-opacity="0.14" filter="url(#bl20)"/>
<rect x="352.5" y="260.4" width="15.8" height="16.2" fill="none" stroke="#111" stroke-width="1.3"/>
<text x="360.4" y="285.6" font-size="6.8" fill="#333" text-anchor="middle">33.2</text>
<rect x="358.8" y="292.3" width="4" height="1.6" fill="#222"/>
<rect x="340.6" y="268.2" width="1.8" height="3.6" fill="#222"/>
<rect x="436.4" y="230.8" width="64.80000000000001" height="62.19999999999999" fill="none" stroke="#b5b5b5" stroke-width="0.9"/>
<line x1="436.4" y1="230.8" x2="436.4" y2="293.0" stroke="#8a8a8a" stroke-width="1"/>
<line x1="436.4" y1="293.0" x2="501.2" y2="293.0" stroke="#8a8a8a" stroke-width="1"/>
<line x1="434.59999999999997" y1="231.8" x2="436.4" y2="231.8" stroke="#777" stroke-width="0.8"/>
<text x="431.5" y="233.8" font-size="6.4" fill="#333" text-anchor="end">10<tspan font-size="3.8" dy="-2.8">5</tspan></text>
<line x1="434.59999999999997" y1="251.20000000000002" x2="436.4" y2="251.20000000000002" stroke="#777" stroke-width="0.8"/>
<text x="431.5" y="253.2" font-size="6.4" fill="#333" text-anchor="end">10<tspan font-size="3.8" dy="-2.8">4</tspan></text>
<line x1="434.59999999999997" y1="270.0" x2="436.4" y2="270.0" stroke="#777" stroke-width="0.8"/>
<text x="431.5" y="272.0" font-size="6.4" fill="#333" text-anchor="end">0</text>
<line x1="434.59999999999997" y1="288.7" x2="436.4" y2="288.7" stroke="#777" stroke-width="0.8"/>
<text x="431.5" y="290.7" font-size="6.4" fill="#333" text-anchor="end">-10<tspan font-size="3.8" dy="-2.8">4</tspan></text>
<line x1="440.8" y1="293.0" x2="440.8" y2="294.8" stroke="#777" stroke-width="0.8"/>
<text x="440.8" y="302.6" font-size="6.4" fill="#333" text-anchor="middle">-10<tspan font-size="3.8" dy="-2.8">4</tspan></text>
<line x1="455.6" y1="293.0" x2="455.6" y2="294.8" stroke="#777" stroke-width="0.8"/>
<text x="455.6" y="302.6" font-size="6.4" fill="#333" text-anchor="middle">0</text>
<line x1="471.1" y1="293.0" x2="471.1" y2="294.8" stroke="#777" stroke-width="0.8"/>
<text x="471.1" y="302.6" font-size="6.4" fill="#333" text-anchor="middle">10<tspan font-size="3.8" dy="-2.8">4</tspan></text>
<line x1="487.3" y1="293.0" x2="487.3" y2="294.8" stroke="#777" stroke-width="0.8"/>
<text x="487.3" y="302.6" font-size="6.4" fill="#333" text-anchor="middle">10<tspan font-size="3.8" dy="-2.8">5</tspan></text>
<line x1="500.7" y1="293.0" x2="500.7" y2="294.8" stroke="#777" stroke-width="0.8"/>
<text x="500.7" y="302.6" font-size="6.4" fill="#333" text-anchor="middle">10<tspan font-size="3.8" dy="-2.8">6</tspan></text>
<text x="454.0" y="225.6" font-size="8.6" fill="#222" textLength="28.4" lengthAdjust="spacingAndGlyphs">Week 8</text>
<path d="M482.9 260.3h0.7M479.1 257.9h0.7M477.1 267.9h0.7M470.5 270.3h0.7M467.6 267.3h0.7M472.4 270.2h0.7M474.1 265.3h0.7M472.0 267.2h0.7M469.2 268.3h0.7M462.7 267.9h0.7M469.2 267.7h0.7M472.9 267.7h0.7M466.4 269.5h0.7M488.6 256.8h0.7M492.5 254.4h0.7M471.7 269.0h0.7M472.4 269.1h0.7M492.8 254.0h0.7M471.3 270.4h0.7M488.2 268.4h0.7M486.3 270.7h0.7M480.6 264.8h0.7M479.4 255.0h0.7M477.6 270.3h0.7M475.1 267.1h0.7M482.5 253.3h0.7M467.4 262.7h0.7M486.3 246.3h0.7M472.6 260.1h0.7M484.0 271.5h0.7M481.2 248.7h0.7M491.2 263.6h0.7M480.5 253.7h0.7M471.7 268.2h0.7M470.8 270.0h0.7M477.8 269.5h0.7M488.4 261.9h0.7M463.4 268.0h0.7M464.8 268.7h0.7M490.1 254.1h0.7M464.9 265.8h0.7M493.3 278.1h0.7M468.3 258.0h0.7M475.4 252.8h0.7M466.7 267.5h0.7M484.2 249.6h0.7M464.2 268.5h0.7M479.4 260.1h0.7M477.0 256.7h0.7M494.7 248.8h0.7M477.8 256.2h0.7M484.5 266.4h0.7M482.9 254.9h0.7M480.8 259.7h0.7M488.2 262.9h0.7M483.9 279.8h0.7M464.3 257.1h0.7M474.0 277.2h0.7M496.1 264.1h0.7M490.5 250.1h0.7M470.7 258.4h0.7M478.8 272.0h0.7M478.7 253.9h0.7M473.8 279.9h0.7M495.6 276.2h0.7M460.2 260.8h0.7M467.2 253.1h0.7M497.5 256.3h0.7M470.1 250.1h0.7M494.7 270.3h0.7M470.9 269.1h0.7M485.2 264.6h0.7M470.9 262.8h0.7M489.6 248.5h0.7M489.6 261.2h0.7M473.3 267.7h0.7M462.3 268.8h0.7M473.9 269.8h0.7M483.2 276.7h0.7M493.1 256.8h0.7M476.7 260.6h0.7M487.8 258.1h0.7M469.2 268.9h0.7M490.3 251.3h0.7M482.6 277.1h0.7M485.4 253.2h0.7M472.4 254.7h0.7M461.0 259.8h0.7M472.2 269.0h0.7M471.3 270.6h0.7M467.9 269.4h0.7M484.4 275.7h0.7M482.3 248.3h0.7M479.7 260.3h0.7M471.1 266.1h0.7M487.2 264.0h0.7M479.1 261.4h0.7M486.0 257.4h0.7M471.1 267.4h0.7M481.6 256.3h0.7M483.7 274.9h0.7M471.7 248.5h0.7M476.3 253.9h0.7M479.8 257.2h0.7M471.4 270.3h0.7M497.1 260.8h0.7M482.9 262.0h0.7M460.9 270.0h0.7M500.0 250.3h0.7M488.7 276.2h0.7M485.5 276.8h0.7M480.3 255.1h0.7M494.0 256.5h0.7M486.0 264.3h0.7M469.7 268.4h0.7M462.0 240.2h0.7M468.5 261.4h0.7M468.5 267.1h0.7M476.8 254.3h0.7M478.5 252.5h0.7M492.3 252.4h0.7M483.1 256.1h0.7M494.9 243.8h0.7M479.6 259.0h0.7M481.6 258.7h0.7M476.0 273.5h0.7M476.6 255.2h0.7M472.7 255.7h0.7M466.8 267.6h0.7M481.1 252.6h0.7M469.1 250.0h0.7M495.6 259.2h0.7M484.5 257.0h0.7M471.4 269.7h0.7M475.8 254.0h0.7M465.6 250.8h0.7M500.3 250.3h0.7M489.3 259.0h0.7M461.5 269.3h0.7M483.7 258.3h0.7M473.7 259.4h0.7M463.4 270.0h0.7M476.6 267.8h0.7M469.4 267.7h0.7M493.1 247.8h0.7M482.1 255.8h0.7M469.4 259.9h0.7M486.1 271.4h0.7M483.4 261.7h0.7M482.7 283.8h0.7M470.7 268.7h0.7M471.9 253.5h0.7M470.9 270.6h0.7M495.1 253.9h0.7M479.4 252.9h0.7M492.0 249.7h0.7M493.2 254.5h0.7M474.8 273.9h0.7M468.0 270.1h0.7M467.3 253.7h0.7M481.4 261.2h0.7M487.3 276.1h0.7M468.6 269.2h0.7M482.1 271.3h0.7M452.5 266.9h0.7M487.3 249.7h0.7M472.7 267.6h0.7M473.9 249.5h0.7M487.1 261.4h0.7M469.0 255.2h0.7M486.2 251.9h0.7M469.3 268.2h0.7M465.1 266.6h0.7M486.0 274.8h0.7M473.9 269.0h0.7M495.5 256.8h0.7M475.5 270.7h0.7M485.4 276.9h0.7M463.9 268.2h0.7M469.4 268.1h0.7M470.8 269.0h0.7M491.4 264.0h0.7M462.0 245.4h0.7M481.7 259.3h0.7M482.7 249.9h0.7M468.1 267.7h0.7M463.5 256.9h0.7M484.8 248.1h0.7M488.0 257.6h0.7M491.7 278.8h0.7M495.2 277.0h0.7M491.3 261.3h0.7M475.0 261.3h0.7M474.1 267.4h0.7M498.8 251.1h0.7M473.0 251.0h0.7M482.8 253.3h0.7M472.4 268.7h0.7M476.9 263.2h0.7M462.5 268.2h0.7M480.5 250.8h0.7M475.4 265.0h0.7M474.9 267.4h0.7M486.4 281.2h0.7M468.8 268.3h0.7M468.7 269.0h0.7M473.1 267.7h0.7M467.0 266.2h0.7M473.9 266.2h0.7M485.3 273.4h0.7" stroke="#000" stroke-width="0.7" fill="none" stroke-opacity="0.28"/>
<path d="M480.3 270.0h0.7M484.7 252.2h0.7M467.4 267.3h0.7M456.0 256.8h0.7M463.7 268.6h0.7M481.8 277.0h0.7M484.5 263.1h0.7M481.8 257.0h0.7M461.9 257.1h0.7M470.0 257.9h0.7M488.2 274.0h0.7M489.6 249.4h0.7M482.6 277.1h0.7M482.7 267.9h0.7M467.6 252.9h0.7M493.2 277.0h0.7M462.3 245.4h0.7M499.4 248.8h0.7M477.0 258.3h0.7M475.4 268.7h0.7M482.8 248.3h0.7M469.6 257.9h0.7M465.0 269.3h0.7M482.4 261.5h0.7M489.5 255.3h0.7M483.9 262.8h0.7M473.6 255.9h0.7M466.7 268.7h0.7M477.1 257.6h0.7M463.3 267.6h0.7M483.5 261.9h0.7M480.7 248.4h0.7M468.9 261.9h0.7M479.1 261.4h0.7M492.7 254.7h0.7M485.5 267.0h0.7M474.4 267.9h0.7M479.4 247.7h0.7M464.6 269.1h0.7M490.4 273.1h0.7M479.3 248.3h0.7M487.6 246.8h0.7M494.1 276.3h0.7M483.4 275.7h0.7M485.3 254.2h0.7M485.6 248.4h0.7M467.1 266.9h0.7M486.0 240.3h0.7M480.0 282.2h0.7M495.6 263.7h0.7M467.8 266.8h0.7M490.0 251.9h0.7M492.2 262.6h0.7M469.2 258.7h0.7M490.5 259.6h0.7M471.4 269.2h0.7M486.2 275.4h0.7M482.3 270.3h0.7M475.0 258.6h0.7M469.1 266.9h0.7M488.3 274.5h0.7M497.3 270.4h0.7M474.4 275.4h0.7M479.9 259.9h0.7M473.8 260.8h0.7M471.7 269.1h0.7M473.0 261.3h0.7M473.5 251.2h0.7M492.0 274.5h0.7M486.1 258.1h0.7M471.6 267.8h0.7M485.3 265.0h0.7M477.9 256.8h0.7M481.2 254.6h0.7M470.1 265.1h0.7M478.9 260.3h0.7M486.9 260.3h0.7M468.0 268.4h0.7M473.3 269.8h0.7M476.5 260.7h0.7M469.9 267.7h0.7M474.5 282.9h0.7M473.2 268.4h0.7M460.6 255.4h0.7M477.8 252.0h0.7M466.6 258.7h0.7M486.9 272.6h0.7M468.8 270.3h0.7M478.0 273.0h0.7M496.0 257.9h0.7M474.2 256.7h0.7M484.7 236.2h0.7M480.0 252.7h0.7M468.0 268.9h0.7M472.5 270.8h0.7M483.2 261.2h0.7M471.7 267.2h0.7M475.6 256.0h0.7M493.7 268.6h0.7M483.5 254.2h0.7M480.9 268.0h0.7M484.9 250.9h0.7M473.6 268.9h0.7M487.8 274.9h0.7M468.8 268.8h0.7M475.9 257.5h0.7M479.5 258.7h0.7M480.2 252.6h0.7M478.6 270.4h0.7M470.5 261.8h0.7M475.2 251.1h0.7M475.2 243.2h0.7M476.1 266.2h0.7M484.6 253.3h0.7M486.1 275.0h0.7M468.4 269.3h0.7M480.1 262.6h0.7M465.4 268.2h0.7M473.4 268.1h0.7M486.1 277.9h0.7M498.5 250.5h0.7M488.3 245.7h0.7M493.3 251.6h0.7M472.3 253.1h0.7M479.7 245.0h0.7M470.7 262.6h0.7M481.4 254.4h0.7M494.4 257.2h0.7M500.1 257.2h0.7M486.9 264.1h0.7M482.3 276.7h0.7M467.7 260.4h0.7M476.2 261.6h0.7M480.3 259.2h0.7M466.4 268.7h0.7M482.5 260.6h0.7M488.3 262.2h0.7M473.9 250.2h0.7M479.3 249.5h0.7M472.2 266.4h0.7M477.3 261.1h0.7M499.2 251.3h0.7M499.7 257.0h0.7M486.7 252.6h0.7M475.8 269.6h0.7M467.1 253.1h0.7M486.4 274.4h0.7M488.4 253.7h0.7M483.8 254.5h0.7M485.5 252.8h0.7M459.3 267.6h0.7M480.9 259.8h0.7M487.1 276.0h0.7M471.5 259.4h0.7M487.0 281.3h0.7M473.9 271.0h0.7M466.6 256.2h0.7M473.6 268.1h0.7M486.3 255.4h0.7M470.1 269.2h0.7M487.6 261.7h0.7M466.9 266.7h0.7M480.5 241.8h0.7M483.9 251.6h0.7M476.0 253.5h0.7M471.5 266.8h0.7M468.0 243.4h0.7M490.5 277.1h0.7M482.2 261.4h0.7M486.6 248.8h0.7M488.5 246.9h0.7M485.3 253.7h0.7M469.7 268.5h0.7M456.8 253.7h0.7M471.6 270.7h0.7M477.5 258.1h0.7M457.0 267.0h0.7M493.4 273.5h0.7M488.8 274.4h0.7M472.8 246.1h0.7M480.3 251.1h0.7M480.9 250.8h0.7M459.6 264.8h0.7M484.4 274.0h0.7M487.3 262.1h0.7M476.1 266.7h0.7M482.6 254.1h0.7M490.0 250.1h0.7M471.2 251.5h0.7M476.9 262.3h0.7M467.7 269.3h0.7M479.3 253.9h0.7M468.8 266.1h0.7M486.0 257.3h0.7M495.6 254.2h0.7M465.9 268.7h0.7M497.4 261.2h0.7M482.3 262.8h0.7M466.4 264.5h0.7M474.5 266.8h0.7M494.6 277.5h0.7M478.6 268.8h0.7M488.5 247.4h0.7M490.0 252.3h0.7M471.2 263.1h0.7M480.6 257.1h0.7M491.3 257.3h0.7M481.5 254.9h0.7M474.6 268.9h0.7M476.4 268.9h0.7" stroke="#000" stroke-width="0.7" fill="none" stroke-opacity="0.28"/>
<path d="M488.4 277.7h0.7M484.5 253.9h0.7M478.1 258.2h0.7M478.8 259.1h0.7M488.4 279.7h0.7M471.6 264.0h0.7M479.8 263.4h0.7M462.2 267.8h0.7M460.6 250.3h0.7M469.8 266.0h0.7M462.4 266.7h0.7M476.7 253.8h0.7M466.9 269.4h0.7M474.1 267.2h0.7M478.2 257.0h0.7M484.2 265.2h0.7M471.3 269.3h0.7M489.7 272.7h0.7M485.2 256.2h0.7M490.5 275.6h0.7M469.3 269.7h0.7M494.8 257.4h0.7M474.0 268.5h0.7M482.0 256.0h0.7M473.7 256.4h0.7M498.5 254.7h0.7M474.5 268.7h0.7M483.2 263.4h0.7M485.5 263.1h0.7M474.7 270.7h0.7M467.8 268.8h0.7M475.3 247.7h0.7M473.5 245.9h0.7M468.9 246.3h0.7M471.2 258.5h0.7M467.8 262.5h0.7M479.9 252.6h0.7M484.9 274.0h0.7M474.9 266.0h0.7M465.6 267.7h0.7M466.5 261.6h0.7M489.3 252.6h0.7M482.0 250.6h0.7M488.6 257.1h0.7M481.9 259.1h0.7M469.8 255.1h0.7M490.7 253.0h0.7M487.1 260.8h0.7M495.3 265.2h0.7M464.3 270.3h0.7M491.2 247.5h0.7M473.9 269.8h0.7M466.9 269.8h0.7M493.9 270.1h0.7M470.0 267.1h0.7M478.2 276.0h0.7M484.9 278.8h0.7M484.5 243.0h0.7M491.6 272.8h0.7M474.3 263.4h0.7M477.1 257.4h0.7M472.1 270.0h0.7M490.9 278.1h0.7M459.0 251.6h0.7M489.0 262.5h0.7M484.5 266.6h0.7M481.9 261.7h0.7M475.4 261.9h0.7M474.2 267.3h0.7M482.3 260.9h0.7M474.0 268.5h0.7M469.6 269.3h0.7M477.5 256.0h0.7M490.6 254.4h0.7M483.4 278.0h0.7M473.6 270.9h0.7M479.5 249.4h0.7M454.2 255.7h0.7M481.3 249.5h0.7M485.4 257.4h0.7M471.0 269.6h0.7M453.2 262.4h0.7M469.5 266.4h0.7M479.9 252.1h0.7M480.4 258.5h0.7M478.3 273.2h0.7M480.9 250.7h0.7M468.2 265.3h0.7M477.1 268.0h0.7M464.0 267.0h0.7M466.0 268.5h0.7M474.7 270.3h0.7M482.8 249.4h0.7M485.2 267.1h0.7M467.5 267.6h0.7M481.5 244.8h0.7M483.3 276.4h0.7M495.4 251.1h0.7M499.1 272.8h0.7M497.0 257.9h0.7M466.1 269.2h0.7M471.9 269.6h0.7M474.1 267.9h0.7M473.1 271.9h0.7M482.5 256.1h0.7M469.4 266.3h0.7M489.2 269.9h0.7M484.8 264.0h0.7M479.8 259.4h0.7M478.8 256.7h0.7M491.5 267.6h0.7M486.1 278.8h0.7M487.5 271.0h0.7M498.7 259.3h0.7M486.9 251.6h0.7M487.2 263.1h0.7M471.1 266.0h0.7M478.0 250.9h0.7M468.6 267.6h0.7M475.3 269.2h0.7M489.2 272.9h0.7M491.0 256.1h0.7M476.4 256.9h0.7M465.0 268.2h0.7M465.9 270.5h0.7M487.8 243.3h0.7M466.3 269.6h0.7M489.7 277.1h0.7M466.7 268.4h0.7M484.5 252.0h0.7M464.5 256.2h0.7M491.8 269.7h0.7M491.6 259.6h0.7M471.7 267.2h0.7M493.5 257.4h0.7M475.7 256.1h0.7M483.7 278.4h0.7M472.3 261.1h0.7M487.6 245.9h0.7M461.6 270.5h0.7M471.1 273.8h0.7M470.2 268.6h0.7M491.6 257.1h0.7M480.8 273.2h0.7M471.3 269.2h0.7M484.2 274.8h0.7M494.6 273.1h0.7M484.6 246.9h0.7M463.3 267.4h0.7M490.5 256.3h0.7M489.8 260.2h0.7M483.9 253.9h0.7M483.3 259.1h0.7M491.0 247.9h0.7M481.9 271.5h0.7M489.8 255.9h0.7M485.6 256.2h0.7M480.8 280.7h0.7M489.5 250.3h0.7M474.8 255.6h0.7M462.7 267.3h0.7M471.3 249.6h0.7M462.8 260.3h0.7M479.4 267.5h0.7M499.4 275.8h0.7M478.8 250.2h0.7M492.8 276.0h0.7M466.5 270.7h0.7M484.2 275.4h0.7M462.3 270.1h0.7M478.7 268.1h0.7M468.3 270.1h0.7M475.7 246.7h0.7M468.5 268.7h0.7M478.9 253.5h0.7M467.2 267.9h0.7M465.9 262.9h0.7M484.0 246.7h0.7M484.8 258.1h0.7M463.5 269.2h0.7M475.6 254.9h0.7M471.3 267.2h0.7M480.9 250.9h0.7M477.6 255.3h0.7M469.2 268.5h0.7M480.7 262.0h0.7M486.3 256.2h0.7M466.7 270.0h0.7M462.1 258.4h0.7M488.1 253.0h0.7M472.2 251.5h0.7M485.2 254.1h0.7M469.6 263.8h0.7M471.6 269.9h0.7M472.2 258.7h0.7M484.7 262.8h0.7M482.5 253.2h0.7M482.4 247.3h0.7M491.2 256.9h0.7M466.3 267.7h0.7M470.5 268.1h0.7M486.4 258.7h0.7M481.1 267.1h0.7M466.6 269.7h0.7M464.0 270.0h0.7M468.5 269.7h0.7M470.0 268.6h0.7M470.9 266.6h0.7M467.9 269.1h0.7M491.6 258.6h0.7" stroke="#000" stroke-width="0.7" fill="none" stroke-opacity="0.28"/>
<path d="M489.6 264.8h0.75M488.6 266.4h0.75M489.4 269.1h0.75M487.0 268.7h0.75M481.5 264.0h0.75M482.1 269.9h0.75M470.3 266.6h0.75M483.4 264.7h0.75M489.1 271.6h0.75M491.2 269.2h0.75M487.3 270.0h0.75M486.2 266.7h0.75M485.2 266.0h0.75M456.2 261.9h0.75M476.7 268.7h0.75M493.6 267.2h0.75M491.2 268.3h0.75M492.5 268.8h0.75M455.0 264.9h0.75M482.1 265.9h0.75M492.3 268.4h0.75M479.2 270.8h0.75M479.8 267.0h0.75M452.8 270.9h0.75M492.2 268.5h0.75M465.9 267.4h0.75M499.6 268.2h0.75M454.4 265.7h0.75M491.9 273.4h0.75M481.0 265.5h0.75M474.2 268.4h0.75M457.8 271.6h0.75M456.7 271.3h0.75M481.5 268.6h0.75M458.0 266.9h0.75M458.1 269.4h0.75M491.1 267.1h0.75M487.1 267.6h0.75M480.5 267.1h0.75M458.2 266.6h0.75M493.3 264.4h0.75M460.6 264.3h0.75M491.6 272.2h0.75M486.6 267.6h0.75M473.8 265.0h0.75M480.7 270.0h0.75M483.0 266.3h0.75M485.1 265.7h0.75M459.8 269.6h0.75M491.4 269.0h0.75M493.8 269.4h0.75M488.4 264.1h0.75M491.4 265.8h0.75M489.3 272.6h0.75M490.4 272.3h0.75M480.7 268.4h0.75M482.4 262.9h0.75M497.9 266.3h0.75M457.3 266.4h0.75M481.5 264.8h0.75M491.8 265.7h0.75M482.3 272.7h0.75M462.1 263.0h0.75M482.3 272.3h0.75M497.0 271.5h0.75M477.8 266.6h0.75M488.4 266.5h0.75M487.8 266.3h0.75M455.8 268.1h0.75M488.0 264.9h0.75M476.6 265.7h0.75M491.0 267.1h0.75M484.2 266.8h0.75M487.2 269.5h0.75M481.1 267.9h0.75M483.7 267.4h0.75M485.1 266.0h0.75M486.0 268.8h0.75M481.7 271.9h0.75M492.2 267.5h0.75M496.6 267.1h0.75M497.8 269.3h0.75M499.2 266.5h0.75M485.5 263.0h0.75M482.1 269.7h0.75M485.4 272.9h0.75M486.3 267.2h0.75M475.1 266.3h0.75M485.7 273.8h0.75M486.6 265.4h0.75M458.4 266.3h0.75M478.2 263.8h0.75M499.6 268.7h0.75M489.2 264.8h0.75M490.6 267.0h0.75M475.6 265.4h0.75M484.1 270.5h0.75M487.4 271.0h0.75M470.4 271.6h0.75M455.6 268.2h0.75M486.9 269.5h0.75M487.6 267.6h0.75M483.7 268.0h0.75M488.3 267.8h0.75M490.2 266.3h0.75M482.5 271.1h0.75M476.6 268.0h0.75M487.5 265.6h0.75M482.7 268.5h0.75M456.4 268.6h0.75M487.2 273.0h0.75M457.2 271.0h0.75M491.1 273.4h0.75M491.1 263.5h0.75M485.1 265.5h0.75M455.3 268.0h0.75M488.5 269.5h0.75M458.7 267.0h0.75M475.8 262.4h0.75M454.2 267.0h0.75M458.1 262.3h0.75M488.9 267.2h0.75M478.9 264.3h0.75M486.5 268.5h0.75M482.6 272.3h0.75M478.4 271.8h0.75M457.4 275.0h0.75M484.9 270.2h0.75M472.8 265.4h0.75M497.7 271.3h0.75M488.0 264.9h0.75M491.1 265.7h0.75M494.3 266.9h0.75M457.7 266.0h0.75M495.1 269.5h0.75M481.6 264.4h0.75M477.0 265.9h0.75M480.2 268.0h0.75M490.2 266.4h0.75M492.6 267.3h0.75M479.2 267.9h0.75M477.8 267.9h0.75M481.4 273.2h0.75M482.6 272.0h0.75M485.3 264.5h0.75M483.9 265.2h0.75M488.9 270.3h0.75M492.6 267.6h0.75M484.8 263.4h0.75M489.8 263.4h0.75M457.5 267.8h0.75M451.6 267.2h0.75M487.9 271.9h0.75M486.4 269.7h0.75M485.3 267.7h0.75M459.3 268.1h0.75M456.9 262.6h0.75M493.2 268.1h0.75M487.4 266.2h0.75M487.3 266.7h0.75M476.9 270.7h0.75M484.6 267.9h0.75M452.8 265.4h0.75M490.8 269.5h0.75M481.1 263.2h0.75M479.0 264.1h0.75M479.6 267.1h0.75M457.4 267.3h0.75M484.4 269.3h0.75M457.4 269.9h0.75M485.4 269.2h0.75M490.6 268.6h0.75M455.3 267.6h0.75M455.4 270.1h0.75M497.1 266.6h0.75M487.3 269.9h0.75M484.9 267.5h0.75M481.3 268.9h0.75M474.7 266.7h0.75M495.2 270.6h0.75M488.4 269.1h0.75M488.9 263.1h0.75M485.9 267.7h0.75M475.7 269.4h0.75M491.3 267.6h0.75M491.4 267.1h0.75M479.6 266.9h0.75M494.7 268.1h0.75M480.0 266.7h0.75M454.9 265.4h0.75M455.5 264.9h0.75M478.6 263.2h0.75M490.6 266.0h0.75M485.0 268.7h0.75M493.8 263.6h0.75M480.6 269.2h0.75M479.4 268.6h0.75M490.1 261.6h0.75M456.4 269.4h0.75M489.6 265.2h0.75M491.7 267.3h0.75M484.0 262.4h0.75M484.9 265.4h0.75M492.4 269.2h0.75M457.5 268.9h0.75M484.5 266.4h0.75M491.0 268.5h0.75M472.0 265.0h0.75M490.3 266.4h0.75M479.9 265.8h0.75M489.3 270.3h0.75M456.0 265.2h0.75M483.6 271.9h0.75" stroke="#000" stroke-width="0.75" fill="none" stroke-opacity="0.38"/>
<path d="M490.4 270.3h0.75M490.2 270.6h0.75M493.3 269.5h0.75M492.1 266.6h0.75M483.3 271.6h0.75M479.4 267.2h0.75M489.2 264.3h0.75M458.1 266.5h0.75M486.7 268.1h0.75M489.9 264.5h0.75M477.4 265.7h0.75M491.2 273.1h0.75M483.7 268.8h0.75M454.2 269.8h0.75M481.6 267.5h0.75M486.7 271.4h0.75M482.4 270.7h0.75M497.1 273.5h0.75M453.6 264.6h0.75M488.5 268.1h0.75M491.9 267.2h0.75M489.8 266.3h0.75M459.4 262.0h0.75M492.2 265.9h0.75M457.5 269.3h0.75M484.7 267.3h0.75M492.8 269.4h0.75M482.5 265.8h0.75M489.2 265.6h0.75M493.9 267.6h0.75M458.0 265.9h0.75M483.2 264.8h0.75M481.2 267.0h0.75M492.7 267.1h0.75M478.0 265.0h0.75M486.2 268.9h0.75M490.6 266.5h0.75M488.6 263.0h0.75M455.8 263.6h0.75M487.2 267.4h0.75M486.7 264.6h0.75M479.1 264.0h0.75M479.4 263.8h0.75M456.1 269.4h0.75M481.6 266.4h0.75M488.2 268.0h0.75M460.2 269.0h0.75M488.6 268.4h0.75M493.5 268.1h0.75M488.4 266.0h0.75M478.8 266.8h0.75M496.0 267.5h0.75M486.9 269.7h0.75M458.8 267.5h0.75M494.2 267.6h0.75M490.4 269.0h0.75M484.1 269.7h0.75M481.7 267.7h0.75M487.8 267.9h0.75M487.5 270.8h0.75M493.4 266.7h0.75M494.6 265.6h0.75M495.6 266.6h0.75M489.0 266.1h0.75M495.5 271.3h0.75M478.5 268.6h0.75M500.6 269.4h0.75M492.6 268.5h0.75M482.9 269.5h0.75M485.2 269.9h0.75M487.5 269.7h0.75M488.2 269.3h0.75M482.9 261.5h0.75M475.8 273.4h0.75M493.1 262.6h0.75M484.9 266.5h0.75M493.5 265.8h0.75M489.5 269.2h0.75M494.8 265.9h0.75M454.4 269.7h0.75M487.8 271.0h0.75M487.9 271.4h0.75M456.3 271.8h0.75M460.3 269.4h0.75M492.4 272.3h0.75M490.5 263.8h0.75M483.4 266.3h0.75M495.4 263.8h0.75M453.9 263.2h0.75M458.0 268.4h0.75M483.3 264.9h0.75M471.7 272.1h0.75M457.5 270.8h0.75M484.7 268.1h0.75M488.5 268.6h0.75M499.0 264.7h0.75M454.2 268.9h0.75M480.3 262.2h0.75M459.7 269.6h0.75M490.4 263.0h0.75M483.5 263.6h0.75M454.2 263.7h0.75M470.6 268.2h0.75M485.0 265.7h0.75M483.6 269.0h0.75M481.3 270.3h0.75M481.9 268.6h0.75M489.2 265.9h0.75M497.6 271.0h0.75M460.5 270.7h0.75M473.3 267.3h0.75M460.6 262.6h0.75M460.8 265.1h0.75M491.3 268.7h0.75M486.7 269.7h0.75M492.5 268.3h0.75M479.3 268.8h0.75M457.8 263.5h0.75M482.3 267.7h0.75M484.6 271.1h0.75M481.6 271.2h0.75M457.9 266.1h0.75M482.3 272.1h0.75M484.2 266.2h0.75M478.8 267.1h0.75M454.8 267.5h0.75M493.4 267.3h0.75M493.9 270.7h0.75M499.9 262.8h0.75M492.7 270.4h0.75M457.6 269.7h0.75M454.8 269.2h0.75M478.5 267.5h0.75M487.9 268.5h0.75M479.8 273.1h0.75M480.1 263.9h0.75M491.1 269.4h0.75M486.9 271.2h0.75M468.8 268.2h0.75M458.8 269.5h0.75M466.2 266.4h0.75M476.9 268.6h0.75M483.1 266.9h0.75M456.0 265.8h0.75M460.9 264.7h0.75M461.2 263.8h0.75M478.4 269.6h0.75M482.4 264.4h0.75M483.3 267.8h0.75M491.2 270.8h0.75M482.6 267.9h0.75M484.4 266.9h0.75M486.7 268.6h0.75M478.6 269.3h0.75M482.5 272.0h0.75M487.4 265.6h0.75M485.9 271.6h0.75M451.8 267.6h0.75M457.4 266.1h0.75M459.6 263.1h0.75M486.3 267.5h0.75M497.0 268.5h0.75M459.9 270.6h0.75M488.3 269.6h0.75M485.6 269.4h0.75M481.6 270.4h0.75M492.6 267.4h0.75M495.9 264.5h0.75M491.2 270.7h0.75M491.6 266.7h0.75M491.6 265.7h0.75M484.4 273.0h0.75M476.7 267.3h0.75M489.3 268.6h0.75M494.5 267.5h0.75M481.8 269.3h0.75M460.5 266.8h0.75M455.3 267.0h0.75M483.6 267.5h0.75M484.5 269.9h0.75M489.9 266.9h0.75M485.3 268.8h0.75M491.3 267.4h0.75M487.3 270.1h0.75M481.1 268.0h0.75M494.4 270.4h0.75M491.2 264.9h0.75M487.6 268.8h0.75M475.4 266.4h0.75M493.8 269.0h0.75M480.4 268.8h0.75M457.2 269.1h0.75M491.8 270.8h0.75M490.9 269.8h0.75M472.7 267.2h0.75M485.2 266.9h0.75M491.6 269.3h0.75M484.4 270.5h0.75M470.7 266.7h0.75M454.9 266.6h0.75M482.6 269.7h0.75M493.0 271.2h0.75M492.2 269.4h0.75M498.6 270.8h0.75M473.0 273.5h0.75M476.1 268.6h0.75M491.5 267.7h0.75M459.4 265.8h0.75M482.2 268.9h0.75M451.7 267.5h0.75M453.4 269.8h0.75M479.5 266.7h0.75M492.2 268.5h0.75" stroke="#000" stroke-width="0.75" fill="none" stroke-opacity="0.38"/>
<path d="M487.9 265.8h0.75M491.2 268.3h0.75M488.1 270.8h0.75M469.2 267.5h0.75M482.5 270.3h0.75M458.7 261.7h0.75M470.6 269.7h0.75M493.3 263.3h0.75M454.0 262.5h0.75M481.2 265.7h0.75M486.0 265.2h0.75M457.4 271.7h0.75M489.3 266.3h0.75M489.5 270.1h0.75M491.9 270.7h0.75M482.6 269.1h0.75M487.9 271.0h0.75M487.9 265.9h0.75M481.0 269.4h0.75M493.6 266.4h0.75M487.2 267.0h0.75M480.7 266.1h0.75M491.8 273.3h0.75M487.3 267.8h0.75M453.2 272.3h0.75M488.3 274.3h0.75M482.8 268.7h0.75M491.8 268.9h0.75M492.2 272.0h0.75M457.8 267.8h0.75M481.5 269.1h0.75M454.5 268.4h0.75M485.0 265.4h0.75M477.4 269.4h0.75M455.2 263.0h0.75M490.0 271.3h0.75M489.1 267.5h0.75M460.0 265.1h0.75M484.2 271.9h0.75M485.3 266.7h0.75M456.3 269.2h0.75M495.7 266.3h0.75M456.9 265.8h0.75M459.6 267.2h0.75M478.2 269.0h0.75M493.0 262.2h0.75M477.3 270.9h0.75M474.2 270.8h0.75M483.8 272.0h0.75M470.5 268.9h0.75M455.2 269.9h0.75M477.9 264.5h0.75M453.1 269.1h0.75M475.6 270.7h0.75M458.3 264.0h0.75M456.3 268.4h0.75M485.6 265.5h0.75M486.1 269.5h0.75M486.5 269.9h0.75M481.0 270.6h0.75M468.0 263.5h0.75M474.6 265.6h0.75M485.5 266.9h0.75M483.6 272.5h0.75M487.9 268.8h0.75M479.3 271.5h0.75M459.6 259.5h0.75M487.6 265.4h0.75M483.8 267.1h0.75M491.0 265.2h0.75M481.7 268.9h0.75M483.5 270.5h0.75M494.5 268.4h0.75M456.6 260.4h0.75M456.7 266.7h0.75M483.5 270.7h0.75M463.2 266.7h0.75M500.3 268.3h0.75M473.4 267.2h0.75M481.9 266.1h0.75M481.2 265.5h0.75M486.3 265.2h0.75M492.4 268.5h0.75M491.7 268.2h0.75M471.7 272.4h0.75M482.5 268.2h0.75M486.6 271.1h0.75M486.8 268.7h0.75M481.0 266.9h0.75M489.3 269.0h0.75M488.5 269.1h0.75M487.7 271.6h0.75M476.3 269.3h0.75M490.9 269.1h0.75M491.6 268.0h0.75M476.6 266.8h0.75M480.3 267.5h0.75M484.3 269.6h0.75M477.4 263.0h0.75M480.2 267.2h0.75M481.1 269.8h0.75M488.2 267.6h0.75M487.2 264.4h0.75M490.2 269.9h0.75M458.9 265.2h0.75M485.5 266.4h0.75M456.3 264.4h0.75M497.7 266.1h0.75M479.5 268.1h0.75M485.7 264.2h0.75M455.9 266.0h0.75M488.6 264.6h0.75M475.0 264.5h0.75M488.6 270.2h0.75M488.5 264.9h0.75M456.2 270.2h0.75M483.6 267.7h0.75M494.4 269.2h0.75M492.6 267.2h0.75M493.8 268.2h0.75M484.5 268.4h0.75M455.8 265.5h0.75M494.5 268.0h0.75M459.4 270.5h0.75M479.1 267.7h0.75M459.0 262.9h0.75M477.8 272.2h0.75M454.7 268.3h0.75M456.2 269.4h0.75M491.0 269.0h0.75M489.4 274.0h0.75M489.1 269.8h0.75M459.2 266.3h0.75M486.3 265.5h0.75M485.8 268.3h0.75M472.7 266.1h0.75M457.1 266.5h0.75M461.4 265.4h0.75M492.3 269.1h0.75M482.0 267.0h0.75M487.6 266.5h0.75M476.5 270.5h0.75M456.6 270.0h0.75M494.9 267.3h0.75M497.8 268.1h0.75M479.6 267.9h0.75M494.8 266.8h0.75M494.5 264.6h0.75M478.3 260.2h0.75M489.4 269.7h0.75M480.7 268.4h0.75M498.0 264.6h0.75M492.8 267.3h0.75M484.2 270.6h0.75M484.6 263.3h0.75M484.7 270.2h0.75M485.4 273.1h0.75M480.9 270.3h0.75M487.3 266.4h0.75M496.1 266.6h0.75M487.0 266.4h0.75M453.9 270.1h0.75M493.0 265.9h0.75M499.4 266.2h0.75M500.4 267.7h0.75M457.3 260.8h0.75M483.6 265.8h0.75M484.4 267.8h0.75M484.8 267.5h0.75M481.1 264.6h0.75M488.5 263.9h0.75M479.8 267.6h0.75M494.1 271.4h0.75M459.1 267.2h0.75M483.4 268.8h0.75M486.2 263.0h0.75M483.8 270.3h0.75M495.9 268.1h0.75M484.9 264.2h0.75M481.4 266.8h0.75M475.6 268.0h0.75M472.8 269.2h0.75M473.4 267.4h0.75M484.0 268.9h0.75M484.6 267.4h0.75M497.5 265.7h0.75M488.5 265.6h0.75M484.1 269.3h0.75M482.9 267.6h0.75M482.6 270.6h0.75M453.5 263.6h0.75M498.8 270.2h0.75M454.8 265.8h0.75M492.5 263.8h0.75M460.5 267.7h0.75M479.1 267.0h0.75M454.3 267.0h0.75M490.5 265.9h0.75M492.5 270.0h0.75M483.7 269.7h0.75M459.1 267.9h0.75M484.0 265.3h0.75M478.9 270.9h0.75M484.0 265.1h0.75M481.4 269.2h0.75M493.4 266.2h0.75M483.4 265.3h0.75M493.9 268.8h0.75M480.6 267.9h0.75M488.8 268.4h0.75M500.5 270.8h0.75M486.7 269.4h0.75" stroke="#000" stroke-width="0.75" fill="none" stroke-opacity="0.38"/>
<path d="M493.0 269.9h0.75M457.9 260.7h0.75M458.4 268.5h0.75M488.2 267.9h0.75M485.8 266.4h0.75M478.2 268.1h0.75M459.2 269.9h0.75M480.6 267.6h0.75M458.7 267.4h0.75M498.4 264.2h0.75M455.2 263.3h0.75M490.4 266.2h0.75M476.2 267.0h0.75M485.6 267.7h0.75M497.5 265.6h0.75M470.0 270.3h0.75M458.6 271.0h0.75M482.7 263.3h0.75M481.3 268.2h0.75M471.6 268.2h0.75M476.7 266.7h0.75M454.9 267.6h0.75M481.8 272.7h0.75M490.6 269.7h0.75M485.6 267.8h0.75M495.0 263.0h0.75M480.5 270.8h0.75M490.7 265.3h0.75M480.1 268.6h0.75M480.5 268.6h0.75M492.3 269.6h0.75M493.1 267.0h0.75M474.9 268.1h0.75M481.2 265.9h0.75M483.3 269.5h0.75M458.0 266.4h0.75M481.3 269.5h0.75M485.3 265.2h0.75M479.8 274.1h0.75M454.0 268.3h0.75M479.4 269.1h0.75M474.9 271.5h0.75M494.4 269.0h0.75M458.7 269.0h0.75M493.8 267.2h0.75M483.5 266.4h0.75M484.6 269.4h0.75M487.5 269.5h0.75M483.5 267.7h0.75M490.9 272.9h0.75M486.1 267.8h0.75M491.1 272.3h0.75M490.1 266.7h0.75M485.6 268.7h0.75M478.1 270.1h0.75M484.6 272.1h0.75M485.1 265.1h0.75M500.3 265.6h0.75M491.9 262.6h0.75M478.2 263.6h0.75M459.2 265.8h0.75M484.8 269.7h0.75M457.8 261.7h0.75M499.3 267.3h0.75M499.7 265.5h0.75M486.4 270.0h0.75M494.7 268.7h0.75M495.8 267.1h0.75M484.6 267.1h0.75M488.1 269.1h0.75M475.3 268.2h0.75M490.9 267.8h0.75M455.7 266.3h0.75M485.0 266.6h0.75M452.7 268.5h0.75M479.0 267.6h0.75M498.0 267.9h0.75M487.2 263.3h0.75M482.1 266.9h0.75M493.4 268.1h0.75M480.2 271.1h0.75M484.8 271.8h0.75M486.4 267.0h0.75M477.5 268.8h0.75M455.5 270.0h0.75M498.3 270.9h0.75M458.7 268.9h0.75M481.7 268.2h0.75M495.2 268.8h0.75M481.4 262.6h0.75M482.6 269.9h0.75M485.0 264.9h0.75M486.1 271.1h0.75M489.4 267.7h0.75M467.0 270.3h0.75M492.8 271.1h0.75M488.1 270.9h0.75M473.9 273.3h0.75M487.1 269.6h0.75M477.9 263.4h0.75M486.9 269.0h0.75M489.6 270.5h0.75M458.4 262.1h0.75M476.4 268.8h0.75M490.1 266.8h0.75M491.2 266.2h0.75M460.2 266.8h0.75M484.4 267.5h0.75M488.5 266.3h0.75M455.2 263.5h0.75M497.3 270.8h0.75M489.3 266.5h0.75M454.6 266.2h0.75M483.8 265.6h0.75M475.1 267.1h0.75M484.1 270.0h0.75M481.1 266.6h0.75M495.2 267.0h0.75M485.7 264.8h0.75M483.2 264.6h0.75M453.8 274.6h0.75M480.9 267.9h0.75M491.9 268.9h0.75M497.3 274.5h0.75M490.2 265.4h0.75M494.1 265.3h0.75M485.7 264.0h0.75M456.5 271.4h0.75M496.2 267.1h0.75M486.6 266.6h0.75M480.3 267.0h0.75M491.7 268.3h0.75M490.0 266.5h0.75M487.0 268.8h0.75M492.9 265.3h0.75M483.3 272.0h0.75M478.5 265.4h0.75M490.3 274.4h0.75M483.0 269.7h0.75M492.1 261.1h0.75M487.5 271.2h0.75M484.1 262.4h0.75M455.1 267.9h0.75M486.1 266.9h0.75M485.7 270.4h0.75M454.1 269.6h0.75M492.4 268.3h0.75M493.9 265.1h0.75M479.5 267.9h0.75M489.8 274.2h0.75M493.1 271.4h0.75M487.6 265.5h0.75M485.4 266.9h0.75M495.9 270.4h0.75M490.0 263.5h0.75M490.9 272.9h0.75M489.8 266.8h0.75M476.0 267.1h0.75M487.2 268.9h0.75M495.5 265.0h0.75M456.5 267.5h0.75M484.4 269.9h0.75M474.8 267.0h0.75M496.7 265.3h0.75M490.9 267.7h0.75M454.0 270.7h0.75M500.1 269.8h0.75M479.2 267.1h0.75M487.2 267.3h0.75M489.4 270.7h0.75M475.0 269.9h0.75M469.9 268.7h0.75M490.3 269.5h0.75M482.5 269.0h0.75M498.8 269.7h0.75M483.5 265.4h0.75M485.9 267.0h0.75M491.9 269.6h0.75M473.8 267.8h0.75M481.2 266.7h0.75M488.0 272.5h0.75M455.8 266.5h0.75M486.8 266.4h0.75M496.7 271.6h0.75M456.7 268.5h0.75M487.6 263.4h0.75M488.9 272.3h0.75M483.4 268.4h0.75M491.4 265.1h0.75M487.4 266.6h0.75M477.0 265.7h0.75M492.0 268.7h0.75M494.0 265.3h0.75M483.6 266.1h0.75M483.4 264.5h0.75M477.5 268.2h0.75M495.5 267.6h0.75M488.6 269.9h0.75M483.2 265.3h0.75M493.5 263.1h0.75M486.8 268.6h0.75M491.6 263.5h0.75M459.1 269.9h0.75M469.0 266.9h0.75M495.5 262.0h0.75M474.8 267.8h0.75M476.4 270.4h0.75M483.0 270.1h0.75M482.6 269.8h0.75M480.6 269.3h0.75M487.6 262.6h0.75M462.9 265.1h0.75" stroke="#000" stroke-width="0.75" fill="none" stroke-opacity="0.38"/>
<ellipse cx="487.0" cy="268.2" rx="9.5" ry="3.1" transform="rotate(0 487.0 268.2)" fill="#000" fill-opacity="1.0" filter="url(#bl8)"/>
<ellipse cx="456.8" cy="266.8" rx="2.2" ry="2.8" transform="rotate(0 456.8 266.8)" fill="#000" fill-opacity="0.25" filter="url(#bl8)"/>
<rect x="448.3" y="260.4" width="16.1" height="16.2" fill="none" stroke="#111" stroke-width="1.3"/>
<text x="456.4" y="285.6" font-size="6.8" fill="#333" text-anchor="middle">6.77</text>
<rect x="453.6" y="292.2" width="4" height="1.6" fill="#222"/>
<rect x="435.5" y="268.3" width="1.8" height="3.6" fill="#222"/>
<line x1="467.0" y1="338.4" x2="467.0" y2="401.1" stroke="#c8c8c8" stroke-width="1"/>
<line x1="438.0" y1="378.9" x2="500.7" y2="378.9" stroke="#c8c8c8" stroke-width="1"/>
<rect x="438.0" y="338.4" width="62.69999999999999" height="62.700000000000045" fill="none" stroke="#b5b5b5" stroke-width="0.9"/>
<line x1="438.0" y1="338.4" x2="438.0" y2="401.1" stroke="#8a8a8a" stroke-width="1"/>
<line x1="438.0" y1="401.1" x2="500.7" y2="401.1" stroke="#8a8a8a" stroke-width="1"/>
<line x1="436.2" y1="344.2" x2="438.0" y2="344.2" stroke="#777" stroke-width="0.8"/>
<text x="434.0" y="346.2" font-size="6.4" fill="#333" text-anchor="end">10<tspan font-size="3.8" dy="-2.8">5</tspan></text>
<line x1="436.2" y1="356.4" x2="438.0" y2="356.4" stroke="#777" stroke-width="0.8"/>
<text x="434.0" y="358.4" font-size="6.4" fill="#333" text-anchor="end">10<tspan font-size="3.8" dy="-2.8">4</tspan></text>
<line x1="436.2" y1="369.6" x2="438.0" y2="369.6" stroke="#777" stroke-width="0.8"/>
<text x="434.0" y="371.6" font-size="6.4" fill="#333" text-anchor="end">10<tspan font-size="3.8" dy="-2.8">3</tspan></text>
<line x1="436.2" y1="382.8" x2="438.0" y2="382.8" stroke="#777" stroke-width="0.8"/>
<text x="434.0" y="384.8" font-size="6.4" fill="#333" text-anchor="end">10<tspan font-size="3.8" dy="-2.8">2</tspan></text>
<line x1="436.2" y1="395.4" x2="438.0" y2="395.4" stroke="#777" stroke-width="0.8"/>
<text x="434.0" y="397.4" font-size="6.4" fill="#333" text-anchor="end">0</text>
<line x1="443.8" y1="401.1" x2="443.8" y2="402.90000000000003" stroke="#777" stroke-width="0.8"/>
<text x="443.8" y="410.7" font-size="6.4" fill="#333" text-anchor="middle">0</text>
<line x1="454.6" y1="401.1" x2="454.6" y2="402.90000000000003" stroke="#777" stroke-width="0.8"/>
<text x="454.6" y="410.7" font-size="6.4" fill="#333" text-anchor="middle">10<tspan font-size="3.8" dy="-2.8">2</tspan></text>
<line x1="468.3" y1="401.1" x2="468.3" y2="402.90000000000003" stroke="#777" stroke-width="0.8"/>
<text x="468.3" y="410.7" font-size="6.4" fill="#333" text-anchor="middle">10<tspan font-size="3.8" dy="-2.8">3</tspan></text>
<line x1="481.9" y1="401.1" x2="481.9" y2="402.90000000000003" stroke="#777" stroke-width="0.8"/>
<text x="481.9" y="410.7" font-size="6.4" fill="#333" text-anchor="middle">10<tspan font-size="3.8" dy="-2.8">4</tspan></text>
<line x1="494.5" y1="401.1" x2="494.5" y2="402.90000000000003" stroke="#777" stroke-width="0.8"/>
<text x="494.5" y="410.7" font-size="6.4" fill="#333" text-anchor="middle">10<tspan font-size="3.8" dy="-2.8">5</tspan></text>
<rect x="441.2" y="400.3" width="3" height="1.6" fill="#222"/>
<rect x="437.2" y="393.6" width="1.6" height="3" fill="#222"/>
<path d="M451.8 382.8h0.7M450.4 387.5h0.7M453.2 366.6h0.7M467.9 380.3h0.7M467.6 375.5h0.7M460.9 388.3h0.7M466.7 375.0h0.7M475.9 377.3h0.7M445.6 371.3h0.7M457.2 372.1h0.7M461.3 379.9h0.7M468.1 379.4h0.7M449.6 372.0h0.7M475.0 381.8h0.7M468.2 381.5h0.7M453.6 379.2h0.7M452.3 380.7h0.7M447.4 373.7h0.7M460.5 369.1h0.7M468.3 378.1h0.7M456.8 375.2h0.7M457.0 388.2h0.7M496.3 378.4h0.7M467.9 376.8h0.7M464.1 379.6h0.7M448.0 371.1h0.7M451.8 372.8h0.7M464.4 387.8h0.7M474.0 377.1h0.7M484.0 373.0h0.7M457.6 387.0h0.7M441.2 373.6h0.7M477.1 374.0h0.7M475.1 377.7h0.7M463.6 382.8h0.7M470.7 373.1h0.7M457.8 389.7h0.7M445.1 380.1h0.7M455.0 388.2h0.7M465.5 379.5h0.7M478.7 376.5h0.7M438.9 386.5h0.7M464.9 381.2h0.7M465.7 373.9h0.7M469.3 379.0h0.7M467.8 379.1h0.7M476.2 372.2h0.7M481.4 370.3h0.7M469.9 378.9h0.7M479.9 374.8h0.7M451.9 388.2h0.7M462.9 372.9h0.7M462.7 366.4h0.7M469.6 381.7h0.7M473.6 389.5h0.7M452.2 377.9h0.7M473.6 376.4h0.7M464.1 382.4h0.7M450.7 369.8h0.7M482.7 376.2h0.7M449.2 369.9h0.7M460.7 376.6h0.7M444.1 368.6h0.7M443.7 366.3h0.7M451.3 379.6h0.7M450.5 391.5h0.7M461.0 384.3h0.7M477.8 375.7h0.7M459.9 385.3h0.7M449.2 366.8h0.7M481.4 373.3h0.7M457.7 390.1h0.7M472.0 382.0h0.7M449.2 373.1h0.7M459.8 376.5h0.7M451.3 371.9h0.7M445.0 388.9h0.7M457.6 388.4h0.7M457.0 383.5h0.7M467.8 380.3h0.7M472.4 375.6h0.7M441.7 371.4h0.7M458.4 381.8h0.7M444.4 369.9h0.7M445.6 369.2h0.7M463.0 384.6h0.7M492.4 377.7h0.7M467.6 376.1h0.7M469.2 377.3h0.7M447.7 371.3h0.7M460.2 377.5h0.7M460.2 370.9h0.7M478.1 372.2h0.7M470.5 379.6h0.7M486.5 374.3h0.7M462.2 388.1h0.7M457.7 378.8h0.7M464.7 375.5h0.7M469.2 379.2h0.7M462.4 389.1h0.7M475.4 376.8h0.7M444.4 372.5h0.7M472.8 380.3h0.7M457.7 377.8h0.7M451.8 388.3h0.7M468.4 379.4h0.7M455.8 368.8h0.7M466.7 376.7h0.7M467.1 383.3h0.7M452.8 368.2h0.7M454.4 389.4h0.7M465.4 382.0h0.7M453.8 366.9h0.7M474.8 373.4h0.7M466.5 377.1h0.7M477.7 375.2h0.7M464.8 373.9h0.7M440.4 390.3h0.7M451.1 370.4h0.7M472.3 388.1h0.7M461.9 381.8h0.7M450.0 392.3h0.7M470.0 380.8h0.7M465.7 371.6h0.7M453.8 388.2h0.7M488.9 375.3h0.7M446.3 370.1h0.7M495.9 379.2h0.7M477.7 373.9h0.7M441.4 369.0h0.7M459.7 388.7h0.7M459.0 386.4h0.7M453.1 366.8h0.7M460.9 378.7h0.7M478.3 377.2h0.7M446.0 373.3h0.7M447.8 390.8h0.7M461.6 378.5h0.7M465.3 384.1h0.7M450.2 384.6h0.7M480.1 380.5h0.7M479.1 384.3h0.7M470.6 379.9h0.7M486.3 376.9h0.7M453.9 386.8h0.7M451.5 388.4h0.7M477.3 381.0h0.7M464.7 381.4h0.7M481.3 372.9h0.7M467.3 380.7h0.7M448.5 367.4h0.7M463.5 377.1h0.7M492.3 382.8h0.7M467.2 373.8h0.7M457.0 388.2h0.7M472.7 374.0h0.7M476.6 376.4h0.7M452.1 390.6h0.7M476.1 381.0h0.7M446.0 390.7h0.7M465.8 383.5h0.7M477.0 384.7h0.7M467.0 376.7h0.7M476.4 388.3h0.7M450.6 373.1h0.7M445.8 386.2h0.7M449.5 370.0h0.7M476.8 375.7h0.7M462.5 389.3h0.7M464.1 387.7h0.7M482.9 375.4h0.7M487.7 374.2h0.7M480.4 373.3h0.7M445.5 389.9h0.7M452.3 369.6h0.7M477.0 377.1h0.7M448.1 384.7h0.7M455.2 380.0h0.7M481.4 381.7h0.7M465.4 376.1h0.7M471.4 377.8h0.7M459.5 390.2h0.7M463.3 376.0h0.7M444.4 388.3h0.7M473.3 376.7h0.7M490.9 375.2h0.7M497.3 378.1h0.7M449.5 369.8h0.7M456.6 369.2h0.7M463.4 367.1h0.7M454.1 390.1h0.7M448.3 379.4h0.7M448.3 369.9h0.7M476.7 374.0h0.7M465.9 389.6h0.7M456.6 370.0h0.7M479.9 383.2h0.7M470.2 388.6h0.7M466.7 378.7h0.7M452.1 372.4h0.7M461.4 387.3h0.7M467.9 385.3h0.7M470.9 389.4h0.7M477.2 380.3h0.7M474.9 378.3h0.7M464.8 370.1h0.7M456.3 370.0h0.7M465.3 381.5h0.7M479.8 383.5h0.7M448.4 376.2h0.7M441.1 371.9h0.7M461.0 377.6h0.7M450.8 385.9h0.7M461.9 389.6h0.7M484.1 373.7h0.7M454.1 388.9h0.7M472.1 382.6h0.7M487.7 372.9h0.7M467.0 377.5h0.7M453.0 372.3h0.7M474.5 378.6h0.7M476.0 373.1h0.7M479.6 375.6h0.7M450.7 367.6h0.7M487.6 376.4h0.7M451.2 390.2h0.7M452.5 387.8h0.7M467.3 381.2h0.7M456.2 387.8h0.7M446.4 370.5h0.7" stroke="#000" stroke-width="0.7" fill="none" stroke-opacity="0.3"/>
<path d="M449.1 380.6h0.7M495.9 379.0h0.7M485.9 376.1h0.7M448.5 380.1h0.7M453.6 390.9h0.7M470.3 374.7h0.7M452.4 386.6h0.7M442.6 392.0h0.7M469.2 388.9h0.7M492.9 376.8h0.7M449.5 370.4h0.7M471.5 376.8h0.7M490.4 376.3h0.7M460.2 392.5h0.7M453.8 380.4h0.7M484.8 374.7h0.7M461.9 373.8h0.7M456.3 381.1h0.7M478.8 378.5h0.7M472.4 374.1h0.7M452.1 389.7h0.7M463.1 377.9h0.7M447.7 370.4h0.7M467.3 380.9h0.7M456.9 383.7h0.7M467.0 378.5h0.7M461.8 370.5h0.7M474.9 380.9h0.7M440.9 373.5h0.7M450.8 385.3h0.7M455.5 378.7h0.7M476.2 386.2h0.7M462.0 375.3h0.7M463.5 380.9h0.7M481.6 376.0h0.7M442.7 371.8h0.7M471.5 379.6h0.7M455.9 382.6h0.7M471.8 375.5h0.7M446.0 369.8h0.7M486.7 378.3h0.7M482.5 380.9h0.7M450.5 391.4h0.7M471.0 380.5h0.7M464.4 376.8h0.7M452.9 371.5h0.7M467.6 387.0h0.7M470.1 388.1h0.7M477.3 374.4h0.7M453.2 374.2h0.7M455.5 371.8h0.7M470.0 381.2h0.7M450.2 375.4h0.7M471.3 379.1h0.7M480.3 380.2h0.7M465.6 373.1h0.7M477.3 375.8h0.7M457.4 389.1h0.7M465.7 389.2h0.7M478.6 376.7h0.7M480.3 375.2h0.7M465.0 379.6h0.7M450.6 387.2h0.7M459.0 388.9h0.7M459.7 390.1h0.7M479.8 379.3h0.7M459.3 387.1h0.7M446.7 392.4h0.7M454.6 391.3h0.7M452.8 370.0h0.7M456.9 387.8h0.7M464.6 373.3h0.7M464.0 387.7h0.7M481.2 371.4h0.7M452.5 381.9h0.7M468.9 377.9h0.7M455.4 385.5h0.7M461.8 388.2h0.7M459.8 388.4h0.7M453.5 380.1h0.7M457.4 388.5h0.7M452.9 389.2h0.7M445.5 370.0h0.7M461.0 379.1h0.7M479.4 373.8h0.7M468.7 377.6h0.7M454.8 384.4h0.7M464.8 380.9h0.7M469.0 377.8h0.7M449.2 382.0h0.7M454.2 387.2h0.7M451.7 387.3h0.7M459.9 387.7h0.7M466.3 390.2h0.7M458.8 378.3h0.7M453.1 389.9h0.7M445.9 392.3h0.7M464.7 375.6h0.7M467.1 378.4h0.7M453.3 389.0h0.7M469.8 376.1h0.7M455.2 381.4h0.7M448.2 366.0h0.7M460.1 389.4h0.7M450.6 380.3h0.7M455.6 389.5h0.7M466.3 389.6h0.7M455.9 371.6h0.7M481.9 375.8h0.7M461.5 374.3h0.7M464.3 388.5h0.7M457.0 381.1h0.7M469.5 368.1h0.7M465.0 378.1h0.7M452.9 388.7h0.7M469.8 372.6h0.7M481.5 381.3h0.7M487.4 375.5h0.7M463.4 372.0h0.7M480.4 379.1h0.7M453.5 373.8h0.7M460.4 390.3h0.7M485.1 373.6h0.7M462.5 376.5h0.7M483.4 377.6h0.7M469.2 376.0h0.7M468.4 382.2h0.7M456.9 371.2h0.7M440.2 366.8h0.7M439.2 371.1h0.7M446.5 388.4h0.7M464.2 386.5h0.7M448.2 383.6h0.7M465.7 363.9h0.7M445.7 376.1h0.7M481.4 380.1h0.7M468.6 374.8h0.7M455.4 378.7h0.7M457.5 372.1h0.7M457.4 369.0h0.7M447.7 371.0h0.7M453.2 371.7h0.7M464.0 371.6h0.7M474.8 376.7h0.7M439.3 374.8h0.7M459.2 389.9h0.7M448.0 389.5h0.7M460.5 390.0h0.7M468.1 385.2h0.7M475.8 374.0h0.7M449.7 371.6h0.7M458.6 387.0h0.7M482.8 372.1h0.7M456.2 366.5h0.7M452.9 390.1h0.7M456.2 386.4h0.7M471.2 383.3h0.7M477.8 373.9h0.7M481.7 376.5h0.7M469.3 373.9h0.7M450.7 387.9h0.7M449.9 374.8h0.7M465.4 387.5h0.7M475.0 373.5h0.7M464.3 389.0h0.7M476.9 389.7h0.7M474.8 376.1h0.7M468.6 378.6h0.7M458.2 381.2h0.7M452.1 372.2h0.7M447.3 389.0h0.7M470.8 378.4h0.7M445.7 385.1h0.7M471.2 382.9h0.7M457.6 379.2h0.7M468.4 379.9h0.7M482.4 375.6h0.7M454.9 369.3h0.7M473.5 379.8h0.7M462.1 371.3h0.7M478.9 382.4h0.7M480.9 381.0h0.7M470.0 379.9h0.7M452.8 371.1h0.7M459.8 382.1h0.7M477.6 374.9h0.7M448.8 368.4h0.7M458.0 387.0h0.7M483.6 379.4h0.7M446.8 372.6h0.7M449.8 373.5h0.7M472.7 385.0h0.7M468.5 378.8h0.7M460.0 379.7h0.7M462.6 387.1h0.7M472.6 374.5h0.7M462.7 386.1h0.7M477.0 379.2h0.7M453.8 387.7h0.7M468.6 372.3h0.7M451.8 390.0h0.7M463.5 373.4h0.7M453.6 391.1h0.7M465.8 371.7h0.7M465.9 382.0h0.7M461.7 375.3h0.7M456.6 387.0h0.7M473.1 386.5h0.7M457.1 372.0h0.7M462.8 388.1h0.7M486.3 375.9h0.7M457.4 387.0h0.7M465.3 379.0h0.7M464.3 380.7h0.7M477.3 378.9h0.7M461.1 382.3h0.7M480.9 370.1h0.7M462.2 381.9h0.7M460.3 385.8h0.7M459.7 388.4h0.7M443.4 374.6h0.7M450.2 373.4h0.7M460.9 387.4h0.7M461.4 368.0h0.7M472.1 375.1h0.7M455.2 381.1h0.7M455.3 377.2h0.7M458.6 378.0h0.7M460.2 390.6h0.7M469.5 375.8h0.7" stroke="#000" stroke-width="0.7" fill="none" stroke-opacity="0.3"/>
<path d="M451.2 389.5h0.7M472.4 371.8h0.7M468.0 381.0h0.7M467.4 379.5h0.7M458.4 387.3h0.7M474.6 374.4h0.7M456.9 368.2h0.7M444.6 387.6h0.7M465.3 386.8h0.7M469.5 378.2h0.7M458.1 386.0h0.7M460.6 389.0h0.7M457.2 388.0h0.7M482.2 372.3h0.7M475.6 376.0h0.7M466.1 386.5h0.7M440.4 368.0h0.7M457.0 388.1h0.7M476.1 375.0h0.7M477.7 376.0h0.7M455.1 388.9h0.7M450.7 374.8h0.7M454.6 371.2h0.7M447.6 371.9h0.7M469.9 382.0h0.7M489.8 375.2h0.7M460.1 389.2h0.7M456.8 377.9h0.7M461.3 391.1h0.7M465.2 388.4h0.7M462.9 381.9h0.7M477.3 375.3h0.7M475.6 376.0h0.7M483.1 378.1h0.7M444.4 389.6h0.7M464.8 377.1h0.7M464.7 386.9h0.7M461.2 374.9h0.7M491.6 378.0h0.7M490.4 374.7h0.7M462.8 390.4h0.7M467.9 377.4h0.7M484.3 376.4h0.7M480.3 371.0h0.7M471.2 375.5h0.7M469.1 373.7h0.7M451.1 371.4h0.7M487.2 379.9h0.7M440.8 369.6h0.7M487.9 376.9h0.7M456.7 376.4h0.7M473.8 379.2h0.7M480.7 372.8h0.7M458.0 386.9h0.7M465.6 381.0h0.7M453.1 371.3h0.7M450.7 371.8h0.7M462.7 386.8h0.7M453.3 381.2h0.7M483.9 376.3h0.7M459.0 375.8h0.7M470.3 381.1h0.7M473.3 378.2h0.7M440.8 387.5h0.7M446.8 375.3h0.7M467.5 381.7h0.7M472.6 377.6h0.7M443.1 368.8h0.7M470.5 375.5h0.7M456.1 385.3h0.7M454.5 371.3h0.7M453.3 369.6h0.7M486.2 374.1h0.7M445.4 391.2h0.7M467.6 380.3h0.7M463.7 384.5h0.7M466.7 374.2h0.7M465.5 376.6h0.7M459.7 368.8h0.7M452.7 376.2h0.7M465.3 388.5h0.7M468.3 376.1h0.7M464.2 391.3h0.7M476.2 382.6h0.7M459.7 375.7h0.7M462.8 381.0h0.7M461.5 377.1h0.7M492.3 378.3h0.7M452.2 386.4h0.7M484.8 375.5h0.7M448.1 369.8h0.7M461.8 372.5h0.7M470.0 379.6h0.7M484.4 374.8h0.7M461.7 369.1h0.7M457.3 389.6h0.7M445.1 371.1h0.7M479.5 371.8h0.7M447.7 383.2h0.7M449.2 373.4h0.7M451.9 376.2h0.7M449.5 371.1h0.7M466.1 388.0h0.7M471.5 374.2h0.7M487.0 372.3h0.7M453.7 371.2h0.7M474.2 377.3h0.7M457.5 377.1h0.7M453.7 365.8h0.7M450.1 371.6h0.7M456.1 379.4h0.7M442.0 383.4h0.7M461.2 388.8h0.7M465.7 383.2h0.7M448.4 367.9h0.7M458.2 373.6h0.7M472.0 377.6h0.7M459.1 375.1h0.7M453.1 385.8h0.7M463.7 388.0h0.7M454.6 371.1h0.7M453.9 367.1h0.7M471.7 375.0h0.7M480.4 378.8h0.7M470.4 387.1h0.7M474.5 380.8h0.7M468.2 378.6h0.7M483.4 373.9h0.7M458.2 389.4h0.7M474.6 375.7h0.7M456.1 369.8h0.7M455.5 372.8h0.7M471.2 378.2h0.7M485.6 378.5h0.7M461.0 373.1h0.7M440.6 377.8h0.7M476.8 375.1h0.7M473.5 390.7h0.7M480.5 375.2h0.7M474.4 384.5h0.7M462.5 386.7h0.7M463.7 389.1h0.7M460.2 389.1h0.7M460.9 388.0h0.7M472.6 375.5h0.7M481.0 378.4h0.7M463.3 377.0h0.7M472.3 383.4h0.7M496.8 371.2h0.7M446.0 372.3h0.7M454.8 373.1h0.7M438.9 373.8h0.7M441.8 389.0h0.7M463.4 378.3h0.7M465.7 380.7h0.7M465.1 386.8h0.7M451.1 367.1h0.7M443.7 369.4h0.7M468.9 380.2h0.7M473.4 390.4h0.7M447.7 369.6h0.7M443.6 369.5h0.7M460.8 390.3h0.7M449.7 386.1h0.7M487.9 383.6h0.7M479.9 376.4h0.7M446.3 372.5h0.7M467.4 383.2h0.7M471.3 381.4h0.7M460.2 387.6h0.7M479.9 382.3h0.7M480.6 380.0h0.7M455.6 369.8h0.7M475.7 377.1h0.7M463.9 381.8h0.7M456.3 372.5h0.7M468.8 382.1h0.7M472.6 376.2h0.7M451.5 387.9h0.7M488.9 374.8h0.7M477.2 375.4h0.7M478.2 375.9h0.7M483.0 374.0h0.7M460.7 371.7h0.7M461.5 387.5h0.7M472.7 379.9h0.7M440.0 391.7h0.7M468.7 381.7h0.7M464.7 387.1h0.7M469.1 387.0h0.7M472.8 375.4h0.7M457.0 369.6h0.7M459.8 387.1h0.7M448.9 371.4h0.7M468.1 377.3h0.7M454.5 386.6h0.7M469.8 374.1h0.7M475.0 372.0h0.7M478.1 383.6h0.7M483.7 373.9h0.7M450.0 380.6h0.7M451.2 368.8h0.7M457.5 369.3h0.7M463.3 373.7h0.7M477.5 380.1h0.7M461.7 373.9h0.7M464.4 388.9h0.7M458.5 391.3h0.7M485.3 372.5h0.7M479.9 373.6h0.7M444.1 369.9h0.7M473.0 379.9h0.7M495.9 372.5h0.7M448.6 373.9h0.7M456.2 380.7h0.7M478.1 388.4h0.7M464.4 383.5h0.7M478.0 375.5h0.7M454.6 369.2h0.7M452.3 386.2h0.7M461.2 392.2h0.7M475.5 375.0h0.7M479.2 373.0h0.7M493.3 378.2h0.7M481.6 375.4h0.7M451.5 389.0h0.7M439.4 373.2h0.7M453.0 373.1h0.7M451.4 389.3h0.7M461.1 382.2h0.7" stroke="#000" stroke-width="0.7" fill="none" stroke-opacity="0.3"/>
<path d="M474.6 367.5h0.8M493.9 383.8h0.8M473.9 370.5h0.8M472.5 373.8h0.8M480.1 386.8h0.8M470.7 391.9h0.8M464.3 367.4h0.8M473.1 375.1h0.8M487.1 380.7h0.8M464.1 370.4h0.8M478.2 368.7h0.8M486.6 382.4h0.8M483.1 384.2h0.8M478.1 386.3h0.8M472.1 386.4h0.8M450.9 371.6h0.8M480.6 388.4h0.8M482.6 363.3h0.8M470.2 390.6h0.8M473.4 389.9h0.8M463.5 370.2h0.8M472.5 388.3h0.8M484.6 368.7h0.8M485.0 388.8h0.8M469.3 385.7h0.8M463.9 371.2h0.8M480.1 389.5h0.8M460.4 363.3h0.8M481.2 385.6h0.8M485.4 364.6h0.8M474.6 389.0h0.8M490.6 362.6h0.8M483.2 367.5h0.8M484.0 382.1h0.8M477.0 363.1h0.8M483.4 387.6h0.8M462.9 368.3h0.8M472.8 369.0h0.8M471.4 387.3h0.8M474.9 385.0h0.8M478.8 365.3h0.8M474.2 387.6h0.8M469.9 370.5h0.8M486.0 365.9h0.8M488.8 368.3h0.8M478.8 368.0h0.8M475.6 370.9h0.8M472.3 388.9h0.8M491.0 369.7h0.8M479.9 389.1h0.8M485.2 384.5h0.8M475.9 374.8h0.8M484.1 384.4h0.8M481.4 382.9h0.8M483.6 362.6h0.8M481.1 391.1h0.8M473.9 382.9h0.8M490.9 361.8h0.8M469.5 363.8h0.8M483.0 384.8h0.8M485.3 363.7h0.8M478.8 368.3h0.8M479.3 384.4h0.8M471.9 386.1h0.8M479.0 390.5h0.8M479.0 363.6h0.8M480.6 387.9h0.8M470.1 389.2h0.8M472.3 367.8h0.8M467.7 392.3h0.8M475.1 366.8h0.8M473.7 370.5h0.8M486.0 369.6h0.8M488.9 385.2h0.8M485.3 389.3h0.8M488.4 365.4h0.8M481.1 386.8h0.8M492.5 368.0h0.8M480.7 386.5h0.8M463.7 372.7h0.8M474.1 364.4h0.8M474.5 368.0h0.8M453.8 365.6h0.8M491.4 368.6h0.8M483.7 385.9h0.8M484.4 386.9h0.8M484.5 384.2h0.8M456.9 367.7h0.8M467.3 371.5h0.8M471.8 366.6h0.8M457.2 368.6h0.8M472.7 387.5h0.8M479.7 386.0h0.8M477.5 369.6h0.8M480.3 366.9h0.8M470.0 385.4h0.8M483.1 387.1h0.8M489.7 384.0h0.8M471.5 386.0h0.8M466.4 368.6h0.8M470.6 371.8h0.8M481.5 367.6h0.8M473.6 391.6h0.8M478.7 368.7h0.8M482.6 364.1h0.8M486.1 385.7h0.8M477.2 386.5h0.8M494.4 381.9h0.8M476.1 366.0h0.8M475.8 389.1h0.8M466.4 388.1h0.8M486.3 369.0h0.8M472.7 388.6h0.8M472.7 367.6h0.8M478.2 387.1h0.8M481.8 391.0h0.8M460.4 388.0h0.8M490.7 387.2h0.8M478.3 362.9h0.8M485.3 362.4h0.8M485.8 386.9h0.8M489.5 365.3h0.8M489.0 384.5h0.8M479.1 383.1h0.8M468.0 367.5h0.8M484.4 369.6h0.8M472.6 371.6h0.8M485.9 385.2h0.8M474.7 362.6h0.8M480.2 370.7h0.8M466.8 390.6h0.8M488.9 387.3h0.8M487.4 382.0h0.8M474.7 389.7h0.8M477.2 388.3h0.8M480.7 367.5h0.8M463.1 368.5h0.8M476.9 387.8h0.8M469.0 370.4h0.8M482.7 374.2h0.8M497.7 380.8h0.8M470.0 372.2h0.8M480.4 391.6h0.8M470.1 371.2h0.8M477.7 366.4h0.8M496.9 382.6h0.8M473.9 367.5h0.8M486.6 368.2h0.8M486.0 367.8h0.8M479.4 384.7h0.8M481.6 388.1h0.8M485.6 372.5h0.8M486.6 362.1h0.8M478.3 369.7h0.8M473.6 389.9h0.8M475.5 384.3h0.8M495.5 366.0h0.8M476.8 367.2h0.8M482.2 387.9h0.8M479.0 366.6h0.8M474.1 387.4h0.8M471.0 388.1h0.8M491.0 383.9h0.8M475.3 366.2h0.8M466.9 371.2h0.8M477.7 387.5h0.8M472.8 389.6h0.8M475.9 389.3h0.8M488.1 381.4h0.8M499.2 385.9h0.8M457.1 367.8h0.8M461.6 368.1h0.8M493.7 362.8h0.8M485.4 381.4h0.8M484.0 365.8h0.8M478.1 385.6h0.8M495.6 367.2h0.8M479.4 372.1h0.8M466.8 367.3h0.8M494.2 387.8h0.8M482.0 385.3h0.8M488.2 384.6h0.8M477.2 370.5h0.8M500.0 382.9h0.8M492.7 365.6h0.8M482.9 384.8h0.8M465.2 395.4h0.8M478.4 387.8h0.8M496.7 367.3h0.8M465.9 369.3h0.8M479.6 386.9h0.8M475.1 365.5h0.8M478.0 369.0h0.8M480.3 383.6h0.8M490.0 384.9h0.8M472.1 388.2h0.8M482.2 369.9h0.8M482.9 372.1h0.8M475.0 363.3h0.8M472.4 368.4h0.8M469.0 389.5h0.8M476.7 366.2h0.8M480.4 369.5h0.8M491.7 365.2h0.8M496.7 362.6h0.8M470.2 367.7h0.8M475.5 370.1h0.8M489.0 382.0h0.8M492.3 365.1h0.8M468.1 372.4h0.8M477.4 367.7h0.8M482.8 371.4h0.8M499.2 365.3h0.8M483.0 366.4h0.8M498.1 365.5h0.8M474.8 386.6h0.8M493.2 364.1h0.8M491.4 382.9h0.8M494.9 384.9h0.8M485.2 387.5h0.8M477.9 367.3h0.8M480.4 368.0h0.8M469.0 371.2h0.8M475.1 390.4h0.8M484.6 384.9h0.8M484.5 385.9h0.8M486.7 370.3h0.8M470.3 366.7h0.8M485.5 384.2h0.8M481.3 361.4h0.8M488.4 364.9h0.8M491.5 385.5h0.8M490.1 389.0h0.8M477.4 365.4h0.8M475.0 368.1h0.8M475.2 362.3h0.8M492.2 363.4h0.8M457.6 393.7h0.8M461.9 369.9h0.8M467.9 368.7h0.8M476.0 387.3h0.8M468.9 369.0h0.8M472.0 370.9h0.8M498.7 383.1h0.8M470.0 367.6h0.8M492.3 366.2h0.8M474.0 390.7h0.8M497.9 385.4h0.8M471.9 386.1h0.8M475.5 387.0h0.8M469.7 373.2h0.8M480.9 388.1h0.8M462.5 370.4h0.8M487.3 364.3h0.8M476.0 387.5h0.8M491.0 364.0h0.8M474.2 367.2h0.8M485.5 388.5h0.8M475.4 391.1h0.8M483.7 367.1h0.8M472.5 372.1h0.8M472.7 369.8h0.8M465.8 369.2h0.8M475.9 389.2h0.8M482.9 362.7h0.8M479.6 381.2h0.8M484.4 364.4h0.8M480.6 370.4h0.8M482.1 378.9h0.8M471.2 368.4h0.8M471.7 388.7h0.8M468.4 368.7h0.8M488.9 362.9h0.8M483.8 368.0h0.8M495.6 365.0h0.8M473.8 365.6h0.8M493.1 378.6h0.8M477.9 362.8h0.8M467.3 387.7h0.8M462.7 391.2h0.8M469.9 371.8h0.8M475.9 389.1h0.8M470.6 367.0h0.8M473.3 387.4h0.8M471.0 386.8h0.8M485.7 381.4h0.8M483.0 368.2h0.8M484.4 366.8h0.8M498.7 383.9h0.8M486.1 369.8h0.8M488.0 365.3h0.8M494.7 365.0h0.8M478.0 389.5h0.8M478.1 366.7h0.8M491.2 373.1h0.8M474.1 388.6h0.8M477.7 368.1h0.8M488.2 380.5h0.8M484.4 366.6h0.8M482.5 385.7h0.8M476.7 386.6h0.8M493.4 380.3h0.8M472.3 371.1h0.8M470.0 391.0h0.8M476.9 365.4h0.8M477.9 368.6h0.8M478.9 370.6h0.8M488.2 387.4h0.8M483.8 385.7h0.8M487.2 389.3h0.8M474.5 368.7h0.8M462.2 370.0h0.8M478.4 384.3h0.8M484.9 365.0h0.8M481.9 371.7h0.8M481.3 364.2h0.8M481.8 364.0h0.8M481.3 386.2h0.8M461.7 369.8h0.8M470.1 367.5h0.8M480.5 368.7h0.8M463.6 374.0h0.8M475.0 384.2h0.8M476.6 388.0h0.8M477.0 387.0h0.8M475.2 389.8h0.8M484.9 366.2h0.8M469.8 371.0h0.8M474.2 367.5h0.8M472.2 366.8h0.8M462.3 388.7h0.8M457.2 374.8h0.8M498.1 383.7h0.8M489.2 388.0h0.8M464.8 372.5h0.8M493.2 385.1h0.8M483.0 383.9h0.8M470.6 392.9h0.8M487.3 384.1h0.8M467.9 369.8h0.8M471.2 391.2h0.8M480.4 364.7h0.8M476.0 364.5h0.8M473.9 389.3h0.8M472.9 364.4h0.8M486.6 385.9h0.8M465.0 366.6h0.8M479.5 366.5h0.8M459.9 368.8h0.8M470.2 366.0h0.8M467.6 365.5h0.8M491.5 385.6h0.8M483.2 368.2h0.8M484.4 369.1h0.8M475.1 388.3h0.8M475.6 388.1h0.8M490.8 382.7h0.8M498.0 370.9h0.8M462.1 369.7h0.8M480.7 366.6h0.8M478.7 367.0h0.8M486.6 384.8h0.8M485.7 388.5h0.8M472.0 369.7h0.8M478.6 384.3h0.8M469.9 369.6h0.8M484.1 388.6h0.8M476.3 388.8h0.8M493.6 380.1h0.8M477.8 369.1h0.8M474.6 368.4h0.8M463.6 368.8h0.8M476.1 369.3h0.8M487.3 386.2h0.8M467.5 366.3h0.8M460.4 366.0h0.8M483.2 385.4h0.8M483.3 365.4h0.8M492.4 382.7h0.8M471.3 391.4h0.8M477.2 366.4h0.8M479.2 390.0h0.8M484.5 387.5h0.8M483.1 383.6h0.8M491.7 371.1h0.8M472.0 392.5h0.8M478.7 388.3h0.8M477.9 368.6h0.8M485.2 380.8h0.8M487.0 368.4h0.8M476.9 388.3h0.8M491.5 387.3h0.8M475.3 387.9h0.8M480.7 386.6h0.8M452.8 365.2h0.8M481.2 390.5h0.8M492.0 366.7h0.8M468.0 363.6h0.8M483.5 369.5h0.8M453.3 367.3h0.8M483.9 386.4h0.8M491.0 384.4h0.8M487.1 365.7h0.8M472.7 387.8h0.8M476.0 385.9h0.8M492.0 366.8h0.8M479.7 389.4h0.8M478.2 389.7h0.8M479.3 386.7h0.8M473.4 367.1h0.8M478.4 387.6h0.8M473.2 386.7h0.8M484.8 383.0h0.8M486.4 390.7h0.8M488.0 386.0h0.8M487.6 385.9h0.8M484.0 369.4h0.8M469.7 392.6h0.8M490.9 380.4h0.8M488.1 386.4h0.8M479.3 388.1h0.8M472.8 367.0h0.8M477.7 362.4h0.8M482.2 365.3h0.8M473.8 369.6h0.8" stroke="#000" stroke-width="0.8" fill="none" stroke-opacity="0.45"/>
<path d="M489.1 386.7h0.8M469.3 372.3h0.8M470.0 367.2h0.8M481.1 385.0h0.8M478.3 383.6h0.8M468.5 385.1h0.8M489.7 366.9h0.8M461.0 388.5h0.8M486.2 388.6h0.8M486.0 383.7h0.8M482.2 388.1h0.8M471.3 387.4h0.8M468.5 365.9h0.8M476.8 365.7h0.8M494.4 383.4h0.8M493.2 368.4h0.8M494.4 386.4h0.8M474.5 367.4h0.8M483.9 365.3h0.8M477.7 386.4h0.8M482.9 366.0h0.8M472.4 384.4h0.8M478.9 386.3h0.8M473.6 364.4h0.8M478.4 366.7h0.8M475.1 364.4h0.8M477.6 369.9h0.8M471.1 388.5h0.8M479.9 369.7h0.8M456.9 365.1h0.8M489.2 387.4h0.8M474.0 367.2h0.8M490.4 368.8h0.8M482.6 384.6h0.8M466.5 390.7h0.8M484.7 365.5h0.8M493.2 363.5h0.8M473.5 390.6h0.8M467.8 368.5h0.8M484.6 370.1h0.8M484.8 367.5h0.8M486.2 382.8h0.8M471.0 394.1h0.8M484.8 367.3h0.8M486.8 358.5h0.8M488.0 359.7h0.8M466.6 366.1h0.8M496.8 368.0h0.8M481.7 386.1h0.8M493.7 383.0h0.8M475.6 386.6h0.8M483.6 364.0h0.8M480.9 361.1h0.8M488.0 385.8h0.8M481.5 362.2h0.8M469.8 387.1h0.8M475.3 387.1h0.8M474.1 364.8h0.8M462.4 365.2h0.8M477.5 368.5h0.8M485.4 382.8h0.8M462.4 371.2h0.8M489.8 383.2h0.8M468.8 372.9h0.8M469.2 392.0h0.8M477.8 391.9h0.8M482.2 388.2h0.8M473.1 386.6h0.8M457.8 372.2h0.8M477.4 367.4h0.8M473.1 387.2h0.8M486.3 385.7h0.8M475.0 372.0h0.8M489.3 388.8h0.8M471.1 366.3h0.8M472.9 365.7h0.8M482.5 386.7h0.8M464.7 371.4h0.8M468.2 368.7h0.8M488.3 385.4h0.8M486.2 389.4h0.8M459.4 367.3h0.8M475.5 366.5h0.8M476.5 367.3h0.8M480.3 370.2h0.8M462.6 366.5h0.8M455.1 374.1h0.8M476.2 389.0h0.8M475.2 387.0h0.8M473.2 366.9h0.8M479.1 383.2h0.8M471.6 387.8h0.8M469.2 388.3h0.8M494.0 383.7h0.8M485.3 366.6h0.8M471.6 391.5h0.8M481.5 368.0h0.8M482.9 369.0h0.8M475.8 387.2h0.8M473.4 371.0h0.8M469.8 368.6h0.8M492.2 364.6h0.8M481.1 384.6h0.8M479.5 364.7h0.8M466.6 388.8h0.8M484.8 370.3h0.8M485.0 383.9h0.8M476.4 365.8h0.8M481.2 393.1h0.8M469.4 368.3h0.8M486.4 385.1h0.8M482.6 382.4h0.8M466.9 372.0h0.8M460.9 363.7h0.8M487.5 361.7h0.8M474.5 362.8h0.8M478.8 385.6h0.8M477.4 368.4h0.8M489.0 384.8h0.8M487.1 385.1h0.8M484.7 364.5h0.8M478.9 387.5h0.8M470.7 391.8h0.8M471.1 370.7h0.8M490.5 365.3h0.8M479.2 385.7h0.8M464.7 366.3h0.8M479.0 370.5h0.8M474.1 365.9h0.8M474.7 388.4h0.8M466.4 387.2h0.8M469.0 368.0h0.8M474.1 373.7h0.8M496.9 381.9h0.8M456.9 369.5h0.8M477.3 390.1h0.8M495.1 385.1h0.8M477.0 375.0h0.8M482.0 385.2h0.8M490.2 365.5h0.8M481.7 386.0h0.8M470.4 368.0h0.8M470.8 365.4h0.8M477.3 388.9h0.8M475.6 384.1h0.8M482.1 386.8h0.8M473.2 366.3h0.8M463.8 366.5h0.8M469.3 365.4h0.8M486.5 384.2h0.8M475.3 366.4h0.8M488.8 388.2h0.8M471.5 388.2h0.8M467.4 390.8h0.8M454.0 370.0h0.8M475.7 385.7h0.8M478.5 386.0h0.8M455.3 369.9h0.8M483.4 385.8h0.8M468.0 393.6h0.8M489.1 384.8h0.8M489.6 368.4h0.8M485.6 367.8h0.8M473.4 369.0h0.8M464.2 367.2h0.8M475.8 387.2h0.8M496.7 382.8h0.8M486.9 366.7h0.8M486.2 383.8h0.8M475.3 365.6h0.8M476.0 388.4h0.8M472.0 389.5h0.8M472.6 384.9h0.8M470.2 365.9h0.8M490.8 385.0h0.8M477.1 387.6h0.8M479.5 388.1h0.8M476.7 390.2h0.8M478.3 387.6h0.8M469.1 367.5h0.8M473.5 392.7h0.8M476.6 387.6h0.8M481.8 384.0h0.8M488.1 363.5h0.8M461.5 368.7h0.8M484.2 388.2h0.8M475.3 389.4h0.8M473.7 389.6h0.8M480.7 390.3h0.8M473.9 366.9h0.8M475.6 366.3h0.8M491.1 383.2h0.8M475.8 386.2h0.8M487.0 370.7h0.8M461.6 370.5h0.8M475.3 368.2h0.8M485.2 361.4h0.8M497.0 358.8h0.8M473.1 365.0h0.8M479.2 370.0h0.8M475.0 390.6h0.8M495.6 381.0h0.8M468.3 386.8h0.8M467.1 366.1h0.8M494.2 384.4h0.8M475.9 365.5h0.8M487.0 384.2h0.8M480.6 370.8h0.8M482.9 382.8h0.8M457.3 372.4h0.8M478.9 386.4h0.8M457.9 373.5h0.8M469.2 386.6h0.8M467.3 368.8h0.8M462.6 368.6h0.8M485.6 369.1h0.8M478.4 386.5h0.8M486.5 381.8h0.8M479.2 367.2h0.8M489.7 383.9h0.8M471.9 386.5h0.8M477.7 369.8h0.8M460.9 371.7h0.8M483.1 389.8h0.8M474.1 386.4h0.8M453.5 375.1h0.8M467.9 389.1h0.8M486.6 384.5h0.8M473.2 373.8h0.8M465.0 389.0h0.8M479.9 386.5h0.8M476.6 386.1h0.8M473.1 373.5h0.8M478.6 381.4h0.8M479.0 363.9h0.8M469.8 390.9h0.8M490.7 383.5h0.8M450.7 370.2h0.8M473.9 373.0h0.8M482.6 367.9h0.8M487.4 366.5h0.8M488.6 385.2h0.8M482.2 366.8h0.8M480.6 387.1h0.8M476.8 387.4h0.8M475.2 364.6h0.8M482.0 384.5h0.8M478.0 365.9h0.8M476.3 383.9h0.8M493.6 386.7h0.8M478.1 387.6h0.8M484.9 369.1h0.8M477.3 388.8h0.8M461.4 359.5h0.8M475.3 367.4h0.8M487.2 368.3h0.8M485.3 385.4h0.8M479.3 369.1h0.8M493.3 381.5h0.8M485.2 368.1h0.8M483.8 387.0h0.8M476.8 367.1h0.8M474.3 364.4h0.8M471.6 388.6h0.8M491.0 383.7h0.8M476.4 363.3h0.8M487.4 386.6h0.8M493.6 366.5h0.8M495.2 366.6h0.8M456.6 370.3h0.8M470.3 372.6h0.8M481.1 388.6h0.8M492.9 384.0h0.8M466.6 369.8h0.8M451.0 377.0h0.8M488.2 385.1h0.8M482.4 368.9h0.8M464.5 371.7h0.8M491.2 369.6h0.8M481.1 370.2h0.8M468.7 390.8h0.8M469.7 367.4h0.8M477.6 387.2h0.8M479.4 372.9h0.8M473.6 369.9h0.8M474.3 364.8h0.8M481.4 385.9h0.8M468.4 371.1h0.8M476.1 366.9h0.8M492.9 382.2h0.8M476.0 364.8h0.8M466.1 366.5h0.8M481.0 384.6h0.8M483.7 380.3h0.8M476.6 385.2h0.8M472.4 388.3h0.8M477.6 369.1h0.8M486.3 389.7h0.8M469.5 365.1h0.8M490.0 382.6h0.8M467.7 384.3h0.8M484.9 364.9h0.8M464.4 366.4h0.8M478.7 367.9h0.8M487.1 386.9h0.8M470.8 368.8h0.8M447.1 371.5h0.8M470.3 371.2h0.8M459.6 390.3h0.8M453.8 366.8h0.8M471.3 375.0h0.8M473.6 390.4h0.8M486.7 368.0h0.8M474.0 388.6h0.8M491.7 384.6h0.8M478.2 385.4h0.8M471.3 367.7h0.8M476.8 389.1h0.8M489.0 373.6h0.8M484.6 385.5h0.8M482.9 386.7h0.8M481.3 387.0h0.8M467.6 387.6h0.8M465.2 390.1h0.8M455.3 375.0h0.8M464.5 369.1h0.8M470.0 384.4h0.8M454.2 372.7h0.8M464.2 391.4h0.8M461.0 390.6h0.8M451.5 372.8h0.8M480.1 390.2h0.8M483.5 387.9h0.8M479.3 388.8h0.8M479.9 386.7h0.8M464.5 387.6h0.8M479.1 362.0h0.8M451.0 375.8h0.8M489.8 366.0h0.8M492.3 384.1h0.8M489.8 380.4h0.8M479.4 388.9h0.8M485.6 365.0h0.8M456.1 371.3h0.8M461.1 389.6h0.8M484.2 385.8h0.8M484.6 384.3h0.8M484.5 366.0h0.8M483.1 391.8h0.8M480.1 371.2h0.8M488.7 362.3h0.8M474.4 366.1h0.8M480.9 371.4h0.8M489.6 389.8h0.8M473.1 371.0h0.8M473.1 384.6h0.8M472.4 365.4h0.8M473.5 367.7h0.8M471.0 388.5h0.8M470.5 391.1h0.8M469.8 364.0h0.8M483.7 367.0h0.8M472.3 367.1h0.8M472.3 385.7h0.8M488.3 364.9h0.8M491.2 388.4h0.8M482.2 381.1h0.8M480.2 386.8h0.8M485.9 363.9h0.8M498.8 362.8h0.8M481.1 384.1h0.8M485.9 391.5h0.8M492.4 365.2h0.8M485.3 384.4h0.8M466.5 367.3h0.8M490.0 383.0h0.8M476.1 384.5h0.8M474.6 363.9h0.8M485.2 387.7h0.8M482.9 381.1h0.8M468.4 385.5h0.8M476.1 367.3h0.8M483.7 369.2h0.8M491.6 386.3h0.8M480.8 368.8h0.8M486.6 386.8h0.8M472.7 394.4h0.8M474.6 384.9h0.8M494.4 385.7h0.8M473.1 368.2h0.8M483.3 387.5h0.8M460.9 388.5h0.8M482.8 383.7h0.8M475.3 389.5h0.8M482.2 383.4h0.8M496.1 370.0h0.8M482.8 387.9h0.8M471.3 389.7h0.8M473.8 385.2h0.8M484.9 366.6h0.8M457.2 367.1h0.8M457.8 372.7h0.8M476.3 364.9h0.8M491.3 361.7h0.8M467.9 387.3h0.8M487.5 368.6h0.8M488.8 360.4h0.8M474.4 367.3h0.8M487.0 364.8h0.8M466.9 365.6h0.8M480.4 386.7h0.8M498.6 384.4h0.8M460.6 368.9h0.8M469.2 390.3h0.8M473.9 390.2h0.8M477.6 389.3h0.8M439.8 373.1h0.8M454.7 370.3h0.8M489.4 370.2h0.8M490.0 366.8h0.8M484.5 389.6h0.8M476.2 366.3h0.8M488.6 370.6h0.8M483.2 389.4h0.8M488.5 385.7h0.8" stroke="#000" stroke-width="0.8" fill="none" stroke-opacity="0.45"/>
<path d="M471.8 366.4h0.8M473.5 369.5h0.8M491.1 363.8h0.8M477.7 386.8h0.8M485.0 384.0h0.8M486.3 385.4h0.8M481.5 368.2h0.8M480.7 370.8h0.8M474.9 368.3h0.8M450.4 375.8h0.8M454.6 370.1h0.8M460.5 362.4h0.8M480.7 386.3h0.8M484.9 392.6h0.8M474.8 363.8h0.8M495.3 361.5h0.8M491.5 364.5h0.8M482.3 361.1h0.8M484.0 388.7h0.8M494.0 383.2h0.8M477.3 373.0h0.8M482.1 367.2h0.8M474.2 392.0h0.8M494.2 366.6h0.8M479.6 368.0h0.8M479.9 370.5h0.8M490.2 386.1h0.8M477.1 390.3h0.8M480.3 364.3h0.8M471.9 370.4h0.8M487.8 368.2h0.8M482.1 366.3h0.8M455.7 373.6h0.8M483.2 388.7h0.8M490.8 380.9h0.8M481.1 364.7h0.8M481.0 387.2h0.8M485.1 387.3h0.8M471.6 390.5h0.8M482.9 363.3h0.8M472.5 369.0h0.8M483.4 390.4h0.8M497.0 366.7h0.8M465.4 372.7h0.8M469.1 385.2h0.8M481.7 388.2h0.8M476.2 367.8h0.8M470.7 372.1h0.8M472.3 372.7h0.8M487.4 366.0h0.8M468.0 367.1h0.8M479.6 365.4h0.8M476.7 364.6h0.8M478.9 362.3h0.8M462.2 370.0h0.8M482.2 387.0h0.8M482.1 387.8h0.8M480.7 393.5h0.8M488.4 364.5h0.8M487.2 361.5h0.8M466.7 390.5h0.8M467.2 369.7h0.8M480.1 365.6h0.8M482.5 371.2h0.8M487.6 365.1h0.8M472.4 369.3h0.8M474.4 366.3h0.8M473.7 367.6h0.8M475.5 366.9h0.8M475.7 366.7h0.8M495.5 366.4h0.8M484.4 364.6h0.8M478.5 384.2h0.8M456.6 368.1h0.8M466.5 363.5h0.8M497.0 362.1h0.8M468.8 388.3h0.8M482.0 387.8h0.8M459.6 372.5h0.8M483.3 369.6h0.8M480.8 369.4h0.8M472.7 390.6h0.8M492.3 386.2h0.8M495.6 384.6h0.8M497.9 365.6h0.8M486.2 385.6h0.8M473.9 363.2h0.8M475.8 389.8h0.8M477.0 370.4h0.8M485.6 387.5h0.8M467.5 386.4h0.8M480.0 386.4h0.8M484.8 364.3h0.8M458.8 365.2h0.8M480.6 384.3h0.8M477.7 387.5h0.8M468.3 373.6h0.8M461.1 372.6h0.8M481.1 366.2h0.8M481.0 391.2h0.8M460.0 367.4h0.8M488.1 366.0h0.8M482.6 389.7h0.8M481.5 382.4h0.8M471.3 393.9h0.8M478.7 386.0h0.8M486.3 383.2h0.8M492.1 368.3h0.8M485.5 387.8h0.8M458.5 364.5h0.8M473.3 386.3h0.8M469.5 373.3h0.8M475.4 386.5h0.8M474.2 371.6h0.8M475.5 370.4h0.8M465.2 371.7h0.8M483.0 365.7h0.8M480.3 394.1h0.8M479.1 368.1h0.8M477.1 389.3h0.8M479.8 385.3h0.8M484.6 363.3h0.8M493.4 382.2h0.8M459.8 373.1h0.8M465.8 363.3h0.8M495.4 386.4h0.8M483.8 387.2h0.8M478.3 368.4h0.8M475.8 388.8h0.8M490.1 382.5h0.8M474.0 390.1h0.8M482.3 385.4h0.8M485.5 387.4h0.8M464.7 371.2h0.8M475.1 365.9h0.8M486.1 382.9h0.8M482.6 364.2h0.8M485.0 383.8h0.8M488.5 383.7h0.8M475.3 363.5h0.8M482.7 365.9h0.8M468.7 372.1h0.8M478.3 390.7h0.8M481.7 364.4h0.8M470.2 386.8h0.8M472.3 387.6h0.8M485.5 368.0h0.8M475.4 389.5h0.8M477.0 386.2h0.8M485.9 386.5h0.8M476.5 385.4h0.8M487.3 366.4h0.8M477.1 370.7h0.8M470.2 385.2h0.8M487.5 366.6h0.8M483.9 365.5h0.8M465.0 371.5h0.8M482.2 383.0h0.8M483.0 361.2h0.8M490.7 383.2h0.8M462.6 371.2h0.8M472.6 365.9h0.8M462.1 371.0h0.8M469.7 371.7h0.8M485.9 368.5h0.8M476.2 364.1h0.8M488.8 364.1h0.8M465.3 371.5h0.8M452.6 367.6h0.8M473.4 388.8h0.8M478.6 368.8h0.8M498.6 357.9h0.8M475.4 375.2h0.8M465.9 391.8h0.8M475.0 387.5h0.8M497.3 389.9h0.8M461.0 372.5h0.8M480.2 380.4h0.8M472.3 366.2h0.8M471.1 390.2h0.8M479.9 386.6h0.8M460.1 369.8h0.8M481.6 366.4h0.8M487.7 386.8h0.8M477.6 365.6h0.8M493.0 389.4h0.8M448.9 363.3h0.8M498.6 380.3h0.8M477.0 386.1h0.8M468.3 393.2h0.8M476.2 385.9h0.8M482.1 388.0h0.8M497.5 381.2h0.8M474.2 368.7h0.8M480.9 367.9h0.8M473.0 369.7h0.8M455.1 370.1h0.8M472.3 368.5h0.8M476.9 364.4h0.8M463.2 366.5h0.8M488.5 389.8h0.8M477.6 368.6h0.8M481.5 389.5h0.8M479.2 386.0h0.8M467.2 388.4h0.8M488.2 383.7h0.8M470.3 369.8h0.8M477.4 368.8h0.8M488.2 366.9h0.8M491.1 381.7h0.8M469.5 367.3h0.8M466.5 369.6h0.8M485.3 382.8h0.8M462.3 389.6h0.8M467.4 368.9h0.8M475.5 368.7h0.8M474.0 372.4h0.8M474.8 369.7h0.8M488.8 384.1h0.8M483.5 369.6h0.8M478.0 388.6h0.8M486.4 363.0h0.8M480.4 390.4h0.8M479.8 373.2h0.8M472.2 368.4h0.8M455.2 372.5h0.8M469.9 370.1h0.8M488.6 381.6h0.8M483.8 392.5h0.8M456.5 371.9h0.8M473.7 391.4h0.8M475.9 388.5h0.8M479.5 366.8h0.8M494.5 362.6h0.8M485.4 389.9h0.8M490.9 383.9h0.8M479.0 367.8h0.8M483.5 369.2h0.8M497.8 367.2h0.8M482.2 389.6h0.8M491.6 385.8h0.8M485.6 366.8h0.8M487.9 385.8h0.8M469.4 367.3h0.8M480.9 366.5h0.8M473.9 368.9h0.8M483.1 360.9h0.8M456.7 369.6h0.8M471.2 366.1h0.8M470.1 388.5h0.8M474.4 386.2h0.8M477.6 366.7h0.8M474.3 369.6h0.8M471.0 384.3h0.8M467.3 369.3h0.8M476.2 367.7h0.8M485.5 385.5h0.8M469.6 368.8h0.8M472.6 368.8h0.8M482.3 384.1h0.8M485.1 380.7h0.8M490.6 365.7h0.8M481.6 382.3h0.8M476.0 385.1h0.8M477.1 386.6h0.8M467.3 391.4h0.8M474.7 367.6h0.8M481.4 368.7h0.8M449.0 365.5h0.8M468.9 367.4h0.8M473.9 396.3h0.8M466.4 369.6h0.8M476.4 389.2h0.8M479.6 366.4h0.8M479.2 363.4h0.8M483.5 382.1h0.8M486.3 366.8h0.8M484.0 366.6h0.8M482.8 384.0h0.8M470.1 392.1h0.8M494.6 386.9h0.8M469.2 385.9h0.8M484.3 368.3h0.8M487.5 366.1h0.8M467.5 368.6h0.8M484.0 384.8h0.8M485.9 362.0h0.8M485.4 363.8h0.8M480.1 392.7h0.8M468.6 366.2h0.8M454.5 367.1h0.8M488.1 386.7h0.8M474.4 371.1h0.8M479.6 386.0h0.8M477.4 386.1h0.8M487.8 387.6h0.8M491.5 364.5h0.8M488.2 384.2h0.8M485.1 384.7h0.8M489.0 386.0h0.8M485.3 384.6h0.8M484.5 388.7h0.8M479.3 385.7h0.8M483.3 363.7h0.8M492.6 367.4h0.8M471.9 370.0h0.8M479.9 386.9h0.8M472.4 362.0h0.8M472.6 391.8h0.8M475.3 363.8h0.8M468.2 372.7h0.8M467.6 364.3h0.8M472.5 389.1h0.8M483.2 373.0h0.8M473.2 386.5h0.8M487.9 365.1h0.8M473.8 365.9h0.8M459.3 374.1h0.8M479.2 363.9h0.8M458.6 367.8h0.8M471.2 365.9h0.8M475.7 388.5h0.8M463.7 373.5h0.8M481.8 365.4h0.8M454.1 376.5h0.8M470.8 367.7h0.8M476.1 359.4h0.8M485.4 363.8h0.8M477.5 386.6h0.8M474.5 368.0h0.8M495.1 363.4h0.8M472.4 367.1h0.8M484.7 369.2h0.8M483.7 383.5h0.8M485.9 364.6h0.8M478.6 366.6h0.8M487.4 388.1h0.8M470.0 390.2h0.8M475.6 386.7h0.8M472.2 385.5h0.8M471.7 366.4h0.8M472.4 366.5h0.8M469.1 370.1h0.8M453.9 370.8h0.8M490.2 388.8h0.8M473.1 389.7h0.8M492.6 389.8h0.8M473.9 367.5h0.8M489.2 362.5h0.8M486.1 369.9h0.8M482.0 367.4h0.8M470.0 387.3h0.8M482.6 368.4h0.8M481.2 388.5h0.8M476.5 368.0h0.8M472.1 370.8h0.8M478.7 389.1h0.8M479.2 364.7h0.8M480.6 389.0h0.8M491.5 384.4h0.8M480.0 370.2h0.8M471.5 384.7h0.8M486.6 364.7h0.8M479.1 389.6h0.8M460.5 370.4h0.8M484.1 386.2h0.8M477.8 366.1h0.8M485.6 383.5h0.8M480.3 362.7h0.8M475.5 367.9h0.8M493.7 384.5h0.8M492.3 385.8h0.8M477.7 367.9h0.8M467.3 368.7h0.8M477.3 388.8h0.8M469.1 370.7h0.8M469.1 390.2h0.8M467.6 371.7h0.8M463.7 366.9h0.8M471.1 366.9h0.8M467.1 367.2h0.8M486.4 382.8h0.8M483.6 386.7h0.8M477.4 363.4h0.8M496.7 383.0h0.8M478.4 388.9h0.8M471.7 375.0h0.8M478.2 387.7h0.8M484.1 385.2h0.8M475.7 370.9h0.8M487.3 383.6h0.8M457.4 374.4h0.8M461.0 374.0h0.8M467.5 368.6h0.8M481.4 364.9h0.8M492.3 383.3h0.8M480.0 389.8h0.8M492.5 382.0h0.8M489.9 385.2h0.8M487.6 384.4h0.8M491.5 382.0h0.8M476.2 387.3h0.8M481.4 389.5h0.8M477.3 386.4h0.8M476.1 372.8h0.8M477.3 388.5h0.8M473.1 365.7h0.8M490.0 365.6h0.8M464.8 368.0h0.8M484.3 383.1h0.8M471.5 365.0h0.8M481.0 368.3h0.8M488.2 385.8h0.8M489.7 384.1h0.8M483.3 361.8h0.8M492.5 360.0h0.8M477.3 364.0h0.8M459.2 370.1h0.8M469.9 386.9h0.8M491.0 385.4h0.8M476.4 387.0h0.8M496.5 369.0h0.8M490.8 381.8h0.8M468.8 369.6h0.8M477.5 368.1h0.8" stroke="#000" stroke-width="0.8" fill="none" stroke-opacity="0.45"/>
<path d="M478.8 384.7h0.8M488.2 385.1h0.8M473.1 367.5h0.8M485.5 367.8h0.8M476.2 365.3h0.8M479.8 385.1h0.8M485.7 382.7h0.8M480.6 387.8h0.8M487.5 386.7h0.8M485.2 384.7h0.8M494.7 367.2h0.8M490.7 385.0h0.8M492.5 380.7h0.8M467.2 369.2h0.8M478.8 364.0h0.8M471.8 373.4h0.8M472.8 388.2h0.8M474.5 369.5h0.8M469.4 365.0h0.8M491.9 392.8h0.8M489.9 372.3h0.8M478.4 384.1h0.8M477.9 365.5h0.8M474.1 367.1h0.8M482.0 386.2h0.8M478.9 366.9h0.8M473.7 390.1h0.8M489.0 383.5h0.8M497.9 363.3h0.8M476.0 385.1h0.8M467.0 366.9h0.8M482.0 387.2h0.8M463.0 369.4h0.8M489.0 383.0h0.8M482.1 387.1h0.8M476.6 369.6h0.8M483.7 382.9h0.8M491.2 365.8h0.8M475.3 390.5h0.8M494.1 383.2h0.8M472.4 370.1h0.8M485.1 369.2h0.8M484.4 390.6h0.8M462.9 375.1h0.8M496.5 383.6h0.8M479.5 386.5h0.8M482.8 386.2h0.8M477.1 375.5h0.8M490.2 365.3h0.8M479.5 385.8h0.8M477.6 365.5h0.8M482.8 383.6h0.8M476.5 391.5h0.8M473.0 388.8h0.8M485.7 391.3h0.8M483.3 384.9h0.8M479.8 386.2h0.8M484.9 365.5h0.8M475.9 367.3h0.8M483.9 383.4h0.8M476.8 367.9h0.8M482.3 368.8h0.8M488.1 383.2h0.8M460.9 368.8h0.8M472.3 372.1h0.8M473.4 364.4h0.8M487.0 367.1h0.8M492.1 380.5h0.8M486.1 372.1h0.8M484.9 389.0h0.8M472.3 390.8h0.8M475.1 369.7h0.8M489.4 366.1h0.8M474.5 364.2h0.8M472.6 373.5h0.8M482.3 382.5h0.8M486.4 367.4h0.8M485.0 390.4h0.8M462.3 372.8h0.8M470.6 368.1h0.8M478.6 392.2h0.8M482.9 385.3h0.8M481.7 380.4h0.8M488.2 387.4h0.8M477.2 386.7h0.8M471.6 364.5h0.8M457.0 373.8h0.8M477.9 385.0h0.8M469.6 394.2h0.8M499.7 383.9h0.8M481.5 367.9h0.8M476.0 387.7h0.8M475.2 388.1h0.8M482.8 385.3h0.8M456.7 368.5h0.8M461.3 387.2h0.8M479.6 390.1h0.8M460.8 373.1h0.8M483.7 366.8h0.8M497.9 363.3h0.8M483.3 383.2h0.8M473.7 388.6h0.8M479.5 365.0h0.8M473.5 364.7h0.8M485.9 366.5h0.8M482.7 369.5h0.8M479.6 365.5h0.8M488.5 382.3h0.8M496.1 381.0h0.8M498.5 363.2h0.8M465.9 368.4h0.8M474.5 367.1h0.8M471.7 371.9h0.8M475.0 371.1h0.8M483.7 370.4h0.8M472.8 363.4h0.8M484.2 364.9h0.8M483.4 363.0h0.8M487.2 387.5h0.8M479.1 386.0h0.8M475.4 386.2h0.8M486.2 369.1h0.8M469.0 386.2h0.8M489.1 371.6h0.8M484.0 386.7h0.8M477.8 387.8h0.8M462.6 368.6h0.8M475.8 371.6h0.8M473.6 369.2h0.8M483.6 365.9h0.8M481.7 381.9h0.8M468.8 367.1h0.8M464.5 368.8h0.8M478.5 387.6h0.8M488.4 370.8h0.8M497.5 368.4h0.8M486.5 386.9h0.8M455.3 389.8h0.8M480.7 367.0h0.8M489.3 383.0h0.8M484.3 365.5h0.8M488.6 388.1h0.8M477.5 384.2h0.8M467.6 374.5h0.8M480.4 388.6h0.8M467.8 370.0h0.8M474.3 386.7h0.8M487.7 387.1h0.8M465.6 372.8h0.8M485.2 380.9h0.8M459.4 372.1h0.8M481.9 360.6h0.8M460.2 373.0h0.8M481.1 384.6h0.8M464.1 367.4h0.8M491.7 386.5h0.8M496.0 382.4h0.8M476.9 367.6h0.8M470.5 368.5h0.8M483.3 368.7h0.8M477.4 369.7h0.8M469.0 386.7h0.8M467.3 388.7h0.8M479.8 366.8h0.8M490.2 362.5h0.8M478.8 368.5h0.8M470.6 371.5h0.8M480.1 370.3h0.8M486.7 361.9h0.8M493.7 385.3h0.8M479.6 366.6h0.8M496.0 368.0h0.8M495.6 386.8h0.8M469.9 388.0h0.8M475.8 361.4h0.8M471.6 368.2h0.8M485.3 384.8h0.8M463.1 370.8h0.8M464.1 373.7h0.8M479.0 387.9h0.8M489.7 384.6h0.8M468.7 373.1h0.8M478.9 391.4h0.8M471.9 368.3h0.8M485.4 370.4h0.8M477.7 391.2h0.8M486.7 388.5h0.8M473.3 388.6h0.8M461.2 368.2h0.8M474.3 370.5h0.8M477.6 383.7h0.8M468.4 367.2h0.8M475.2 369.0h0.8M471.5 390.0h0.8M481.0 390.5h0.8M482.3 367.3h0.8M483.2 367.1h0.8M486.5 382.1h0.8M488.1 385.7h0.8M474.9 368.7h0.8M475.1 368.6h0.8M495.0 383.0h0.8M480.0 387.5h0.8M488.7 367.0h0.8M494.7 364.7h0.8M475.4 364.6h0.8M480.5 390.1h0.8M473.0 368.8h0.8M471.0 370.3h0.8M462.7 370.8h0.8M486.9 367.2h0.8M459.4 372.5h0.8M479.5 385.6h0.8M487.8 388.0h0.8M469.9 362.1h0.8M475.3 382.9h0.8M490.7 388.0h0.8M473.6 387.5h0.8M489.7 368.2h0.8M471.2 371.0h0.8M480.5 385.1h0.8M486.7 387.5h0.8M478.2 363.4h0.8M474.7 385.1h0.8M492.0 384.1h0.8M489.3 372.6h0.8M481.4 368.6h0.8M476.2 389.4h0.8M478.5 370.6h0.8M483.3 362.1h0.8M471.8 363.2h0.8M482.2 368.5h0.8M483.8 383.0h0.8M486.9 369.9h0.8M490.8 366.5h0.8M469.8 371.7h0.8M477.7 386.4h0.8M468.1 369.1h0.8M493.2 384.4h0.8M487.1 367.4h0.8M497.3 365.4h0.8M480.8 368.1h0.8M493.5 381.8h0.8M476.5 367.0h0.8M487.8 386.3h0.8M473.2 364.7h0.8M489.3 382.3h0.8M486.6 368.7h0.8M482.0 389.7h0.8M483.6 387.3h0.8M475.6 385.6h0.8M451.1 377.5h0.8M472.9 371.1h0.8M480.8 383.6h0.8M476.0 383.9h0.8M473.8 367.5h0.8M471.4 370.9h0.8M475.0 365.2h0.8M483.5 388.2h0.8M474.8 392.0h0.8M471.5 372.9h0.8M467.1 389.5h0.8M470.8 366.5h0.8M483.7 384.2h0.8M479.4 385.0h0.8M473.6 367.9h0.8M477.3 385.3h0.8M486.8 388.7h0.8M488.8 381.0h0.8M474.5 388.1h0.8M482.5 384.3h0.8M480.7 368.1h0.8M475.9 365.1h0.8M492.5 383.9h0.8M467.1 370.6h0.8M485.0 365.0h0.8M456.3 366.4h0.8M466.5 391.5h0.8M477.0 363.0h0.8M475.8 365.1h0.8M483.5 390.4h0.8M454.5 369.1h0.8M483.3 385.8h0.8M477.8 391.8h0.8M477.9 388.5h0.8M475.5 388.7h0.8M468.1 367.8h0.8M482.6 388.1h0.8M478.1 386.0h0.8M473.8 391.2h0.8M475.7 363.4h0.8M478.6 362.5h0.8M468.7 368.9h0.8M469.1 371.0h0.8M475.0 373.0h0.8M490.9 382.6h0.8M472.4 387.4h0.8M486.3 366.8h0.8M474.2 389.2h0.8M479.2 389.7h0.8M482.9 387.6h0.8M480.6 377.5h0.8M477.4 386.3h0.8M490.8 385.4h0.8M493.5 380.4h0.8M473.4 387.8h0.8M483.3 364.0h0.8M475.2 390.6h0.8M479.8 386.2h0.8M461.0 369.7h0.8M446.0 373.7h0.8M493.5 366.7h0.8M495.1 381.8h0.8M484.1 371.2h0.8M479.0 389.0h0.8M479.5 388.6h0.8M478.1 365.0h0.8M489.0 387.2h0.8M492.2 384.7h0.8M468.8 371.0h0.8M467.8 369.3h0.8M473.1 388.4h0.8M467.9 389.4h0.8M468.1 367.5h0.8M471.5 389.6h0.8M474.6 370.1h0.8M477.1 364.9h0.8M485.9 370.2h0.8M472.0 368.1h0.8M479.2 361.0h0.8M481.2 367.4h0.8M477.1 373.4h0.8M478.8 388.5h0.8M468.0 373.1h0.8M455.6 363.0h0.8M481.9 383.1h0.8M491.6 364.6h0.8M495.3 369.3h0.8M465.2 366.5h0.8M470.9 371.1h0.8M485.3 382.0h0.8M480.2 365.9h0.8M484.0 365.3h0.8M469.4 388.2h0.8M470.3 369.4h0.8M470.6 368.7h0.8M483.2 368.4h0.8M479.9 364.1h0.8M476.4 385.1h0.8M486.8 385.8h0.8M482.9 382.5h0.8M474.1 387.3h0.8M467.9 364.6h0.8M480.9 388.9h0.8M495.6 384.6h0.8M488.6 380.1h0.8M492.8 381.9h0.8M483.5 384.5h0.8M489.1 388.1h0.8M487.5 367.7h0.8M471.7 366.2h0.8M480.9 386.6h0.8M463.5 388.7h0.8M475.7 391.8h0.8M469.0 387.3h0.8M477.7 388.1h0.8M483.1 384.5h0.8M477.1 386.1h0.8M474.6 368.9h0.8M460.8 388.3h0.8M476.2 368.0h0.8M472.8 374.5h0.8M466.4 371.4h0.8M468.3 374.7h0.8M490.1 382.4h0.8M487.8 368.3h0.8M497.4 385.4h0.8M482.7 362.2h0.8M477.9 385.0h0.8M462.8 370.5h0.8M492.3 383.1h0.8M478.1 369.5h0.8M474.1 364.4h0.8M485.3 367.0h0.8M476.6 373.7h0.8M459.9 368.2h0.8M479.8 388.7h0.8M467.5 366.8h0.8M487.1 363.3h0.8M472.5 367.5h0.8M481.9 367.2h0.8M476.3 370.9h0.8M477.8 385.5h0.8M473.5 363.4h0.8M489.8 382.5h0.8M484.9 390.7h0.8M481.8 386.9h0.8M497.4 376.0h0.8M481.3 363.0h0.8M482.9 363.4h0.8M467.0 368.7h0.8M473.0 375.3h0.8M473.3 387.7h0.8M478.4 385.3h0.8M497.3 383.6h0.8M475.1 386.7h0.8M478.6 367.5h0.8M463.3 368.6h0.8M474.6 386.9h0.8M482.8 363.3h0.8M488.5 387.3h0.8M474.9 366.8h0.8M482.5 367.4h0.8M474.1 371.3h0.8M471.7 368.8h0.8M484.7 386.7h0.8M479.2 365.5h0.8M484.0 389.3h0.8M492.1 382.8h0.8M483.8 385.7h0.8M474.9 358.7h0.8M477.5 385.6h0.8M464.0 371.5h0.8M481.5 381.5h0.8M491.4 385.2h0.8" stroke="#000" stroke-width="0.8" fill="none" stroke-opacity="0.45"/>
<ellipse cx="476.0" cy="368.0" rx="15.5" ry="4.0" transform="rotate(-8 476.0 368.0)" fill="#000" fill-opacity="0.97" filter="url(#bl9)"/>
<ellipse cx="481.0" cy="386.8" rx="12.0" ry="2.9" transform="rotate(-14 481.0 386.8)" fill="#000" fill-opacity="0.97" filter="url(#bl9)"/>
<text x="490.6" y="350.4" font-size="7.0" fill="#333" text-anchor="middle">60</text>
<text x="492.2" y="399.0" font-size="7.0" fill="#333" text-anchor="middle">33</text>
<text x="454.4" y="332.6" font-size="8.6" fill="#222" textLength="27.5" lengthAdjust="spacingAndGlyphs">Week 4</text>
<line x1="222.5" y1="235.4" x2="222.5" y2="271.7" stroke="#111" stroke-width="1.1"/>
<path d="M222.5 230.4L225.1 237.4L222.5 236.0L219.9 237.4Z" fill="#111"/>
<line x1="266.2" y1="311.6" x2="495.9" y2="311.6" stroke="#111" stroke-width="1.1"/>
<path d="M500.9 311.6L493.9 309.0L495.29999999999995 311.6L493.9 314.20000000000005Z" fill="#111"/>
<line x1="416.3" y1="342.6" x2="416.3" y2="378.7" stroke="#111" stroke-width="1.1"/>
<path d="M416.3 337.6L418.90000000000003 344.6L416.3 343.20000000000005L413.7 344.6Z" fill="#111"/>
<line x1="460.0" y1="419.2" x2="495.8" y2="419.2" stroke="#111" stroke-width="1.1"/>
<path d="M500.8 419.2L493.8 416.59999999999997L495.2 419.2L493.8 421.8Z" fill="#111"/>
<text x="0" y="0" font-size="8.8" fill="#3a3a3a" text-anchor="middle" textLength="17.2" lengthAdjust="spacingAndGlyphs" transform="translate(224.9 286.1) rotate(-90)">CAR</text>
<text x="245.0" y="314.6" font-size="8.8" fill="#3a3a3a" textLength="16.3" lengthAdjust="spacingAndGlyphs">CD5</text>
<text x="0" y="0" font-size="8.8" fill="#3a3a3a" text-anchor="middle" textLength="62.7" lengthAdjust="spacingAndGlyphs" transform="translate(506.1 261.0) rotate(90)">Peripheral blood</text>
<text x="0" y="0" font-size="8.8" fill="#3a3a3a" text-anchor="middle" textLength="46.4" lengthAdjust="spacingAndGlyphs" transform="translate(506.0 370.3) rotate(90)">Lymph node</text>
<text x="0" y="0" font-size="8.8" fill="#3a3a3a" text-anchor="middle" textLength="16.2" lengthAdjust="spacingAndGlyphs" transform="translate(419.0 394.8) rotate(-90)">CD8</text>
<text x="436.3" y="422.4" font-size="8.8" fill="#3a3a3a" textLength="16.7" lengthAdjust="spacingAndGlyphs">CD5</text>
<rect x="0.55" y="0.5" width="518.9" height="430" fill="none" stroke="#5c5c5c" stroke-width="1.1"/>
</svg></body></html>
